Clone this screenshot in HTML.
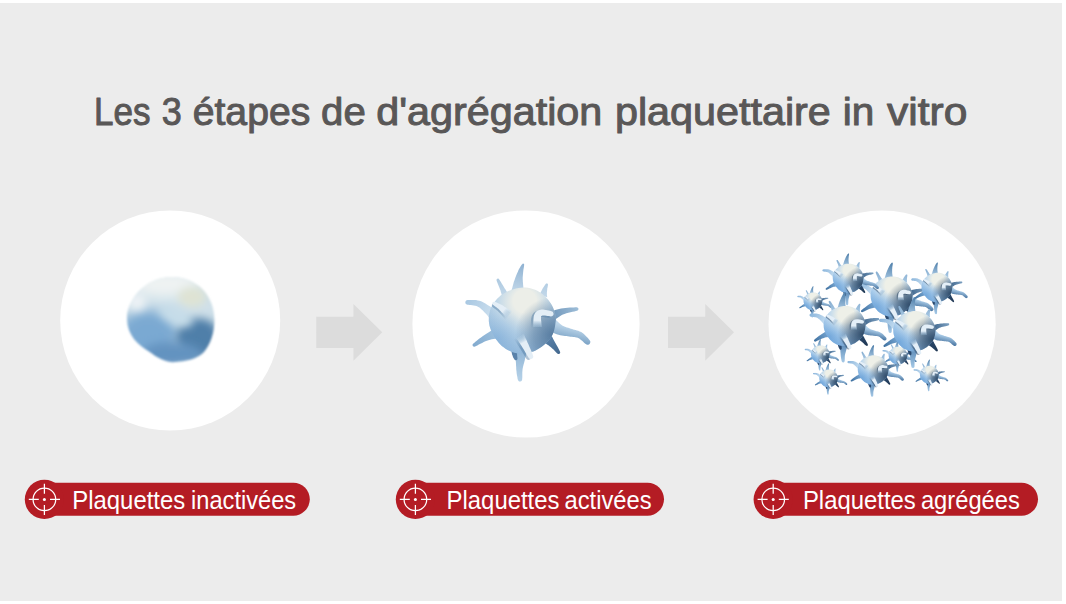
<!DOCTYPE html>
<html lang="fr">
<head>
<meta charset="utf-8">
<title>Les 3 étapes de d'agrégation plaquettaire in vitro</title>
<style>
html,body{margin:0;padding:0;background:#fff;}
body{width:1066px;height:604px;overflow:hidden;position:relative;font-family:"Liberation Sans",sans-serif;}
#panel{position:absolute;left:0;top:3px;width:1062px;height:598px;background:#ececec;}
svg{position:absolute;left:0;top:0;display:block;}
text{font-family:"Liberation Sans",sans-serif;}
</style>
</head>
<body>
<div id="panel"></div>
<svg width="1066" height="604" viewBox="0 0 1066 604">
<defs>
<radialGradient id="body" gradientUnits="userSpaceOnUse" cx="524" cy="307" r="46" fx="525" fy="299">
<stop offset="0" stop-color="#eceee8"/><stop offset="0.25" stop-color="#eceee8"/><stop offset="0.62" stop-color="#bed6e8"/><stop offset="1" stop-color="#96bbdc"/>
</radialGradient>
<radialGradient id="shadeR" gradientUnits="userSpaceOnUse" cx="553" cy="335" r="38">
<stop offset="0" stop-color="#4f7499" stop-opacity="0.9"/><stop offset="0.5" stop-color="#4f7499" stop-opacity="0.54"/><stop offset="1" stop-color="#4f7499" stop-opacity="0"/>
</radialGradient>
<radialGradient id="shadeL" gradientUnits="userSpaceOnUse" cx="498" cy="338" r="30">
<stop offset="0" stop-color="#78a9d8" stop-opacity="0.5"/><stop offset="1" stop-color="#78a9d8" stop-opacity="0"/>
</radialGradient>
<linearGradient id="sgTop" gradientUnits="userSpaceOnUse" x1="523" y1="264" x2="518" y2="294"><stop offset="0" stop-color="#8fb2d2"/><stop offset="1" stop-color="#c4d9ea"/></linearGradient>
<linearGradient id="sgL" gradientUnits="userSpaceOnUse" x1="0" y1="278" x2="0" y2="298"><stop offset="0" stop-color="#adc9e0"/><stop offset="1" stop-color="#c4d9ea"/></linearGradient>
<linearGradient id="sgLt" gradientUnits="userSpaceOnUse" x1="466" y1="302" x2="496" y2="317"><stop offset="0" stop-color="#a9c8e2"/><stop offset="1" stop-color="#d0e2f0"/></linearGradient>
<linearGradient id="sgR" gradientUnits="userSpaceOnUse" x1="550" y1="317" x2="578" y2="309"><stop offset="0" stop-color="#6d94b8"/><stop offset="1" stop-color="#9dbdd8"/></linearGradient>
<linearGradient id="sgLong" gradientUnits="userSpaceOnUse" x1="565" y1="325" x2="562" y2="338"><stop offset="0" stop-color="#bdd6ea"/><stop offset="1" stop-color="#7fa6c8"/></linearGradient>
<linearGradient id="sgD" gradientUnits="userSpaceOnUse" x1="546" y1="337" x2="559" y2="353"><stop offset="0" stop-color="#5a82aa"/><stop offset="1" stop-color="#446a90"/></linearGradient>
<linearGradient id="sgLL" gradientUnits="userSpaceOnUse" x1="497" y1="333" x2="473" y2="346"><stop offset="0" stop-color="#9dc0de"/><stop offset="1" stop-color="#82aace"/></linearGradient>
<linearGradient id="sgBot" gradientUnits="userSpaceOnUse" x1="521" y1="344" x2="520" y2="381"><stop offset="0" stop-color="#8ab0d2"/><stop offset="1" stop-color="#b6d2e8"/></linearGradient>
<linearGradient id="fsh" gradientUnits="userSpaceOnUse" x1="0" y1="300" x2="0" y2="360"><stop offset="0" stop-color="#4f7aa2" stop-opacity="0.45"/><stop offset="1" stop-color="#4f7aa2" stop-opacity="0.45"/></linearGradient>
<linearGradient id="sgF" gradientUnits="userSpaceOnUse" x1="500" y1="300" x2="540" y2="360"><stop offset="0" stop-color="#e4eef6"/><stop offset="1" stop-color="#bad5ea"/></linearGradient>
<linearGradient id="ff0" gradientUnits="userSpaceOnUse" x1="509" y1="314.5" x2="500.4" y2="307.2"><stop offset="0" stop-color="#bad5ea" stop-opacity="0.25"/><stop offset="0.6" stop-color="#e4eef6" stop-opacity="1"/><stop offset="1" stop-color="#e4eef6"/></linearGradient><linearGradient id="fs0" gradientUnits="userSpaceOnUse" x1="508.7" y1="316.5" x2="500.09999999999997" y2="309.2"><stop offset="0" stop-color="#4f7aa2" stop-opacity="0"/><stop offset="0.9" stop-color="#4f7aa2" stop-opacity="0.45"/><stop offset="1" stop-color="#4f7aa2" stop-opacity="0.45"/></linearGradient><linearGradient id="ff1" gradientUnits="userSpaceOnUse" x1="537.5" y1="327" x2="537.6" y2="316"><stop offset="0" stop-color="#bad5ea" stop-opacity="0.25"/><stop offset="0.6" stop-color="#e4eef6" stop-opacity="1"/><stop offset="1" stop-color="#e4eef6"/></linearGradient><linearGradient id="fs1" gradientUnits="userSpaceOnUse" x1="535.5" y1="328.2" x2="535.6" y2="317.2"><stop offset="0" stop-color="#4f7aa2" stop-opacity="0"/><stop offset="0.9" stop-color="#4f7aa2" stop-opacity="0.45"/><stop offset="1" stop-color="#4f7aa2" stop-opacity="0.45"/></linearGradient><linearGradient id="ff2" gradientUnits="userSpaceOnUse" x1="520" y1="336" x2="526" y2="347"><stop offset="0" stop-color="#bad5ea" stop-opacity="0.25"/><stop offset="0.6" stop-color="#e4eef6" stop-opacity="1"/><stop offset="1" stop-color="#e4eef6"/></linearGradient><linearGradient id="fs2" gradientUnits="userSpaceOnUse" x1="517.8" y1="336.6" x2="523.8" y2="347.6"><stop offset="0" stop-color="#4f7aa2" stop-opacity="0"/><stop offset="0.9" stop-color="#4f7aa2" stop-opacity="0.45"/><stop offset="1" stop-color="#4f7aa2" stop-opacity="0.45"/></linearGradient>
<radialGradient id="cbody" gradientUnits="userSpaceOnUse" cx="524" cy="307" r="46" fx="525" fy="299">
<stop offset="0" stop-color="#eef0e8"/><stop offset="0.28" stop-color="#eef0e8"/><stop offset="0.66" stop-color="#b6d4ee"/><stop offset="1" stop-color="#86b5e2"/>
</radialGradient>
<radialGradient id="cshadeR" gradientUnits="userSpaceOnUse" cx="553" cy="335" r="42">
<stop offset="0" stop-color="#2a4562" stop-opacity="0.95"/><stop offset="0.5" stop-color="#2a4562" stop-opacity="0.57"/><stop offset="1" stop-color="#2a4562" stop-opacity="0"/>
</radialGradient>
<radialGradient id="cshadeL" gradientUnits="userSpaceOnUse" cx="498" cy="338" r="30">
<stop offset="0" stop-color="#5594d2" stop-opacity="0.5"/><stop offset="1" stop-color="#5594d2" stop-opacity="0"/>
</radialGradient>
<linearGradient id="csgTop" gradientUnits="userSpaceOnUse" x1="523" y1="264" x2="518" y2="294"><stop offset="0" stop-color="#4f7faa"/><stop offset="1" stop-color="#a9c9e4"/></linearGradient>
<linearGradient id="csgL" gradientUnits="userSpaceOnUse" x1="0" y1="278" x2="0" y2="298"><stop offset="0" stop-color="#86add0"/><stop offset="1" stop-color="#a9c9e4"/></linearGradient>
<linearGradient id="csgLt" gradientUnits="userSpaceOnUse" x1="466" y1="302" x2="496" y2="317"><stop offset="0" stop-color="#8cb6dc"/><stop offset="1" stop-color="#cfe4f4"/></linearGradient>
<linearGradient id="csgR" gradientUnits="userSpaceOnUse" x1="550" y1="317" x2="578" y2="309"><stop offset="0" stop-color="#3a5f86"/><stop offset="1" stop-color="#7a9fc0"/></linearGradient>
<linearGradient id="csgLong" gradientUnits="userSpaceOnUse" x1="565" y1="325" x2="562" y2="338"><stop offset="0" stop-color="#b4d4ee"/><stop offset="1" stop-color="#4f7ba6"/></linearGradient>
<linearGradient id="csgD" gradientUnits="userSpaceOnUse" x1="546" y1="337" x2="559" y2="353"><stop offset="0" stop-color="#2c4a6e"/><stop offset="1" stop-color="#1f3854"/></linearGradient>
<linearGradient id="csgLL" gradientUnits="userSpaceOnUse" x1="497" y1="333" x2="473" y2="346"><stop offset="0" stop-color="#79a8d4"/><stop offset="1" stop-color="#3f709f"/></linearGradient>
<linearGradient id="csgBot" gradientUnits="userSpaceOnUse" x1="521" y1="344" x2="520" y2="381"><stop offset="0" stop-color="#4f7fae"/><stop offset="1" stop-color="#a4c8e6"/></linearGradient>
<linearGradient id="cfsh" gradientUnits="userSpaceOnUse" x1="0" y1="300" x2="0" y2="360"><stop offset="0" stop-color="#2a4562" stop-opacity="0.5"/><stop offset="1" stop-color="#2a4562" stop-opacity="0.5"/></linearGradient>
<linearGradient id="csgF" gradientUnits="userSpaceOnUse" x1="500" y1="300" x2="540" y2="360"><stop offset="0" stop-color="#e4eff8"/><stop offset="1" stop-color="#a6cbea"/></linearGradient>
<linearGradient id="cff0" gradientUnits="userSpaceOnUse" x1="509" y1="314.5" x2="500.4" y2="307.2"><stop offset="0" stop-color="#a6cbea" stop-opacity="0.25"/><stop offset="0.6" stop-color="#e4eff8" stop-opacity="1"/><stop offset="1" stop-color="#e4eff8"/></linearGradient><linearGradient id="cfs0" gradientUnits="userSpaceOnUse" x1="508.7" y1="316.5" x2="500.09999999999997" y2="309.2"><stop offset="0" stop-color="#2a4562" stop-opacity="0"/><stop offset="0.9" stop-color="#2a4562" stop-opacity="0.5"/><stop offset="1" stop-color="#2a4562" stop-opacity="0.5"/></linearGradient><linearGradient id="cff1" gradientUnits="userSpaceOnUse" x1="537.5" y1="327" x2="537.6" y2="316"><stop offset="0" stop-color="#a6cbea" stop-opacity="0.25"/><stop offset="0.6" stop-color="#e4eff8" stop-opacity="1"/><stop offset="1" stop-color="#e4eff8"/></linearGradient><linearGradient id="cfs1" gradientUnits="userSpaceOnUse" x1="535.5" y1="328.2" x2="535.6" y2="317.2"><stop offset="0" stop-color="#2a4562" stop-opacity="0"/><stop offset="0.9" stop-color="#2a4562" stop-opacity="0.5"/><stop offset="1" stop-color="#2a4562" stop-opacity="0.5"/></linearGradient><linearGradient id="cff2" gradientUnits="userSpaceOnUse" x1="520" y1="336" x2="526" y2="347"><stop offset="0" stop-color="#a6cbea" stop-opacity="0.25"/><stop offset="0.6" stop-color="#e4eff8" stop-opacity="1"/><stop offset="1" stop-color="#e4eff8"/></linearGradient><linearGradient id="cfs2" gradientUnits="userSpaceOnUse" x1="517.8" y1="336.6" x2="523.8" y2="347.6"><stop offset="0" stop-color="#2a4562" stop-opacity="0"/><stop offset="0.9" stop-color="#2a4562" stop-opacity="0.5"/><stop offset="1" stop-color="#2a4562" stop-opacity="0.5"/></linearGradient>
<filter id="blur2" x="-20%" y="-20%" width="140%" height="140%"><feGaussianBlur stdDeviation="1.3"/></filter>
<filter id="blur5" x="-50%" y="-50%" width="200%" height="200%"><feGaussianBlur stdDeviation="4.5"/></filter>
<filter id="blur6" x="-50%" y="-50%" width="200%" height="200%"><feGaussianBlur stdDeviation="6"/></filter>
<filter id="soft" x="-10%" y="-10%" width="120%" height="120%"><feGaussianBlur stdDeviation="0.6"/></filter>
<filter id="softc" x="-10%" y="-10%" width="120%" height="120%"><feGaussianBlur stdDeviation="0.5"/></filter>
<clipPath id="blobclip"><path d="M170 277C190 276 207 288 212 305C217 320 214 340 204 352C196 360 184 361 176 362C166 363 158 358 150 352C138 345 128 336 127 320C126 300 145 278 170 277Z"/></clipPath>
</defs>

<text y="125.2" font-size="39.5" fill="#595757" stroke="#595757" stroke-width="1.0" stroke-linejoin="round"><tspan x="94.03" textLength="56.48" lengthAdjust="spacingAndGlyphs">Les</tspan> <tspan x="161.79" textLength="19.99" lengthAdjust="spacingAndGlyphs">3</tspan> <tspan x="192.71" textLength="117.60" lengthAdjust="spacingAndGlyphs">étapes</tspan> <tspan x="321.08" textLength="44.67" lengthAdjust="spacingAndGlyphs">de</tspan> <tspan x="376.15" textLength="226.21" lengthAdjust="spacingAndGlyphs">d'agrégation</tspan> <tspan x="614.95" textLength="215.90" lengthAdjust="spacingAndGlyphs">plaquettaire</tspan> <tspan x="842.68" textLength="31.49" lengthAdjust="spacingAndGlyphs">in</tspan> <tspan x="887.08" textLength="80.30" lengthAdjust="spacingAndGlyphs">vitro</tspan></text>

<circle cx="170.2" cy="320.5" r="110" fill="#fff"/>
<circle cx="526" cy="324" r="113.6" fill="#fff"/>
<circle cx="882.1" cy="324.2" r="113.6" fill="#fff"/>

<path d="M316.2 316.8H353.4V303.9L382.2 332.3L353.4 360.7V347.9H316.2Z" fill="#dcdcdc"/>
<path d="M668.0 316.8H705.2V303.9L734.0 332.3L705.2 360.7V347.9H668.0Z" fill="#dcdcdc"/>


<g filter="url(#blur2)">
<g clip-path="url(#blobclip)">
<rect x="120" y="270" width="100" height="100" fill="#cfe0e9"/>
<ellipse cx="148" cy="336" rx="30" ry="26" fill="#7aa9d2" filter="url(#blur6)"/>
<ellipse cx="198" cy="338" rx="22" ry="20" fill="#4f7fa9" filter="url(#blur5)"/>
<ellipse cx="172" cy="354" rx="30" ry="12" fill="#6393c0" filter="url(#blur5)"/>
<ellipse cx="166" cy="284" rx="34" ry="13" fill="#eef3f3" filter="url(#blur6)"/>
<ellipse cx="192" cy="297" rx="14" ry="10" fill="#dfe3d3" filter="url(#blur5)"/>
<ellipse cx="137" cy="302" rx="9" ry="9" fill="#eef3f6" filter="url(#blur5)"/>
<ellipse cx="176" cy="316" rx="18" ry="8" fill="#c6dde9" filter="url(#blur5)" transform="rotate(25 176 316)"/>
</g>
</g>


<g filter="url(#soft)"><path d="M525.0 294.6L524.5 293.5L524.2 292.0L523.8 290.4L523.5 288.5L523.3 286.7L523.1 284.8L523.0 283.1L522.8 281.6L522.8 280.2L522.7 278.9L522.7 277.6L522.8 276.3L522.9 275.1L523.0 273.9L523.1 272.7L523.2 271.7L523.3 270.7L523.4 269.7L523.6 268.7L523.8 267.8L523.9 267.0L524.0 266.2L524.1 265.5L524.1 265.0L524.2 264.5L524.0 264.0L523.6 263.7L523.1 263.6L522.6 263.8L522.3 264.2L521.9 264.6L521.5 265.1L521.0 265.8L520.5 266.5L520.0 267.4L519.5 268.3L518.9 269.3L518.4 270.3L518.0 271.4L517.5 272.5L517.0 273.6L516.4 274.9L515.9 276.2L515.4 277.5L514.9 278.9L514.4 280.4L513.8 282.1L513.3 283.9L512.8 285.8L512.3 287.7L511.7 289.5L511.2 291.2L510.6 292.5L510.0 293.4Z" fill="url(#sgTop)"/><path d="M510.6 296.1L509.9 295.7L509.2 294.9L508.5 294.1L507.7 293.0L507.0 291.9L506.2 290.7L505.5 289.6L504.7 288.5L504.0 287.3L503.3 286.0L502.5 284.7L501.7 283.4L500.9 282.1L500.2 281.0L499.6 280.1L499.2 279.4L498.7 278.8L498.0 278.6L497.3 278.7L496.7 279.2L496.5 279.9L496.6 280.6L496.9 281.4L497.3 282.5L497.8 283.7L498.3 285.0L498.9 286.5L499.5 287.9L500.0 289.3L500.5 290.5L500.8 291.7L501.2 293.0L501.6 294.4L501.9 295.7L502.2 296.9L502.4 298.0L502.5 299.0L502.4 299.9Z" fill="url(#sgL)"/><path d="M547.3 297.2L547.1 296.5L547.0 295.7L546.9 294.7L546.9 293.6L546.9 292.5L547.0 291.5L547.1 290.5L547.2 289.7L547.2 289.0L547.3 288.3L547.5 287.7L547.6 287.0L547.7 286.5L547.8 285.9L547.9 285.5L547.9 285.1L548.0 284.5L547.8 283.9L547.3 283.5L546.7 283.4L546.1 283.6L545.7 284.1L545.4 284.4L545.1 284.7L544.8 285.2L544.5 285.7L544.1 286.3L543.7 286.9L543.3 287.6L542.8 288.3L542.4 289.1L541.9 290.0L541.4 291.0L540.9 291.9L540.3 292.9L539.8 293.7L539.2 294.4L538.7 294.8Z" fill="url(#sgL)"/><path d="M501.4 313.2L500.4 312.9L499.3 312.3L498.0 311.5L496.6 310.6L495.0 309.6L493.5 308.6L492.0 307.6L490.6 306.8L489.3 306.0L488.0 305.2L486.8 304.4L485.4 303.6L484.0 302.8L482.6 302.0L481.1 301.3L479.5 300.8L477.8 300.4L476.0 300.1L474.3 300.0L472.6 300.0L471.0 300.0L469.7 300.0L468.6 300.1L467.8 300.1L466.6 300.3L465.7 301.1L465.3 302.2L465.5 303.4L466.3 304.3L467.4 304.7L468.3 304.8L469.5 305.0L470.9 305.1L472.3 305.2L473.8 305.4L475.2 305.7L476.4 306.0L477.5 306.4L478.4 306.9L479.4 307.6L480.3 308.3L481.3 309.2L482.3 310.1L483.3 311.1L484.4 312.2L485.4 313.2L486.4 314.3L487.5 315.5L488.6 316.9L489.6 318.2L490.6 319.5L491.5 320.8L492.2 321.9L492.6 322.8Z" fill="url(#sgLt)"/><path d="M552.6 322.4L553.3 321.5L554.4 320.4L555.6 319.3L556.9 318.2L558.4 317.2L559.9 316.2L561.4 315.3L562.9 314.6L564.5 313.9L566.4 313.3L568.4 312.8L570.5 312.3L572.5 311.8L574.4 311.4L575.9 311.0L577.1 310.7L577.9 310.3L578.4 309.6L578.5 308.7L578.1 307.9L577.4 307.4L576.5 307.3L575.4 307.3L573.8 307.4L571.9 307.5L569.8 307.6L567.6 307.8L565.3 308.0L563.2 308.3L561.1 308.6L559.1 309.1L557.1 309.6L555.2 310.1L553.2 310.7L551.4 311.2L549.8 311.5L548.5 311.7L547.4 311.6Z" fill="url(#sgR)"/><path d="M543.6 328.1L544.6 328.4L545.9 328.9L547.4 329.7L549.2 330.6L551.0 331.6L552.9 332.6L554.8 333.5L556.7 334.2L558.5 334.8L560.3 335.2L561.9 335.5L563.5 335.8L565.0 336.0L566.4 336.1L567.8 336.3L569.1 336.5L570.5 336.7L571.9 336.8L573.2 337.0L574.3 337.1L575.4 337.2L576.4 337.4L577.2 337.6L578.0 337.9L578.9 338.3L579.9 339.0L581.0 339.9L582.1 340.8L583.2 341.8L584.1 342.7L585.0 343.5L585.7 344.0L587.0 344.7L588.4 344.7L589.6 343.9L590.3 342.6L590.3 341.2L589.5 340.0L589.0 339.4L588.3 338.6L587.4 337.6L586.3 336.5L585.1 335.3L583.9 334.1L582.6 333.1L581.2 332.1L579.7 331.4L578.3 330.8L577.0 330.4L575.6 330.0L574.4 329.7L573.2 329.4L572.1 329.1L570.9 328.7L569.6 328.3L568.3 327.8L566.9 327.4L565.6 327.0L564.4 326.5L563.3 326.0L562.2 325.4L561.3 324.8L560.3 324.0L559.1 323.0L557.8 321.8L556.5 320.5L555.2 319.2L554.1 318.0L553.1 316.8L552.4 315.9Z" fill="url(#sgLong)"/><path d="M541.1 341.3L542.2 341.5L543.3 342.0L544.6 342.7L545.8 343.5L547.1 344.4L548.4 345.3L549.6 346.2L550.6 347.0L551.5 347.8L552.5 348.7L553.5 349.6L554.4 350.6L555.3 351.5L556.0 352.2L556.7 352.9L557.3 353.4L558.0 353.9L558.8 354.0L559.6 353.7L560.1 353.0L560.2 352.2L559.9 351.4L559.6 350.8L559.2 349.9L558.7 348.9L558.1 347.8L557.4 346.6L556.8 345.4L556.1 344.2L555.4 343.0L554.7 341.8L554.0 340.4L553.2 339.0L552.5 337.6L551.8 336.2L551.3 334.9L550.9 333.7L550.9 332.7Z" fill="url(#sgD)"/><path d="M494.7 327.5L494.0 328.3L493.1 329.2L491.8 330.2L490.3 331.2L488.8 332.2L487.2 333.2L485.6 334.3L484.1 335.3L482.6 336.3L481.0 337.5L479.4 338.6L477.9 339.8L476.4 341.0L475.1 342.0L474.1 342.9L473.3 343.6L472.7 344.2L472.5 345.1L472.8 345.9L473.4 346.5L474.3 346.7L475.1 346.4L476.1 346.0L477.3 345.4L478.8 344.6L480.4 343.8L482.1 342.9L483.8 342.1L485.4 341.3L486.9 340.7L488.4 340.2L490.1 339.8L491.8 339.3L493.6 338.9L495.2 338.7L496.8 338.5L498.2 338.4L499.3 338.5Z" fill="url(#sgLL)"/><path d="M514.0 343.4L514.4 344.7L514.7 346.5L515.0 348.6L515.2 350.9L515.3 353.3L515.5 355.6L515.6 357.8L515.7 359.6L515.8 361.2L515.9 362.5L516.0 363.8L516.0 365.1L516.1 366.3L516.2 367.5L516.2 368.7L516.3 370.0L516.5 371.3L516.6 372.8L516.8 374.2L517.0 375.5L517.3 376.8L517.5 377.9L517.6 378.9L517.8 379.6L518.2 380.6L519.1 381.4L520.2 381.6L521.2 381.2L522.0 380.3L522.2 379.2L522.2 378.5L522.3 377.5L522.3 376.4L522.3 375.1L522.3 373.8L522.3 372.5L522.4 371.2L522.5 370.0L522.6 368.9L522.8 367.9L523.0 366.9L523.3 365.8L523.6 364.6L524.0 363.3L524.3 361.9L524.7 360.4L525.1 358.6L525.6 356.5L526.1 354.2L526.6 351.8L527.2 349.6L527.8 347.5L528.4 345.8L529.0 344.6Z" fill="url(#sgBot)"/><path d="M510.0 346.3L510.3 346.9L510.6 347.7L510.9 348.8L511.1 349.9L511.4 351.1L511.6 352.3L511.9 353.4L512.1 354.4L512.4 355.2L512.7 356.0L512.9 356.7L513.2 357.4L513.5 358.0L513.8 358.4L514.0 358.8L514.2 359.1L514.6 359.8L515.4 360.3L516.3 360.2L517.0 359.8L517.5 359.0L517.4 358.1L517.4 357.7L517.4 357.3L517.3 356.8L517.2 356.2L517.2 355.6L517.1 355.0L517.1 354.3L517.1 353.6L517.1 352.8L517.2 351.8L517.2 350.7L517.3 349.5L517.4 348.4L517.6 347.3L517.8 346.4L518.0 345.7Z" fill="url(#sgD)"/><path d="M555.8 320.6L555.5 322.6L555.2 324.9L554.8 327.4L554.3 329.8L553.6 332.2L552.6 334.4L551.5 336.4L550.2 338.4L548.7 340.2L547.1 342.0L545.4 343.7L543.6 345.2L541.7 346.7L539.8 348.0L537.7 349.3L535.6 350.4L533.4 351.4L531.2 352.1L528.9 352.7L526.5 353.2L524.0 353.5L521.5 353.6L519.1 353.5L516.8 353.3L514.4 352.7L512.1 352.0L509.8 351.0L507.6 349.9L505.5 348.7L503.6 347.3L501.8 345.9L500.1 344.2L498.5 342.5L497.0 340.6L495.6 338.7L494.3 336.7L493.1 334.6L492.0 332.5L491.0 330.3L490.2 328.1L489.5 325.8L489.1 323.5L488.8 321.1L488.8 318.7L488.9 316.2L489.3 313.8L489.8 311.4L490.5 309.1L491.4 306.9L492.6 304.8L494.0 302.7L495.5 300.7L497.1 298.8L498.8 297.2L500.6 295.6L502.6 294.2L504.7 292.9L506.8 291.8L509.0 290.8L511.3 289.9L513.5 289.2L515.9 288.5L518.3 288.0L520.7 287.7L523.2 287.5L525.5 287.6L527.9 287.8L530.3 288.3L532.7 289.0L535.1 289.8L537.3 290.8L539.4 291.9L541.4 293.2L543.3 294.8L545.2 296.5L546.8 298.3L548.4 300.1L549.8 301.9L550.9 303.6L551.9 305.3L552.8 307.1L553.5 308.8L554.1 310.5L554.6 312.1L555.1 313.6L555.4 314.9L555.7 316.2L555.8 317.5L555.9 318.9Z" fill="url(#body)"/><path d="M555.8 320.6L555.5 322.6L555.2 324.9L554.8 327.4L554.3 329.8L553.6 332.2L552.6 334.4L551.5 336.4L550.2 338.4L548.7 340.2L547.1 342.0L545.4 343.7L543.6 345.2L541.7 346.7L539.8 348.0L537.7 349.3L535.6 350.4L533.4 351.4L531.2 352.1L528.9 352.7L526.5 353.2L524.0 353.5L521.5 353.6L519.1 353.5L516.8 353.3L514.4 352.7L512.1 352.0L509.8 351.0L507.6 349.9L505.5 348.7L503.6 347.3L501.8 345.9L500.1 344.2L498.5 342.5L497.0 340.6L495.6 338.7L494.3 336.7L493.1 334.6L492.0 332.5L491.0 330.3L490.2 328.1L489.5 325.8L489.1 323.5L488.8 321.1L488.8 318.7L488.9 316.2L489.3 313.8L489.8 311.4L490.5 309.1L491.4 306.9L492.6 304.8L494.0 302.7L495.5 300.7L497.1 298.8L498.8 297.2L500.6 295.6L502.6 294.2L504.7 292.9L506.8 291.8L509.0 290.8L511.3 289.9L513.5 289.2L515.9 288.5L518.3 288.0L520.7 287.7L523.2 287.5L525.5 287.6L527.9 287.8L530.3 288.3L532.7 289.0L535.1 289.8L537.3 290.8L539.4 291.9L541.4 293.2L543.3 294.8L545.2 296.5L546.8 298.3L548.4 300.1L549.8 301.9L550.9 303.6L551.9 305.3L552.8 307.1L553.5 308.8L554.1 310.5L554.6 312.1L555.1 313.6L555.4 314.9L555.7 316.2L555.8 317.5L555.9 318.9Z" fill="url(#shadeR)"/><path d="M555.8 320.6L555.5 322.6L555.2 324.9L554.8 327.4L554.3 329.8L553.6 332.2L552.6 334.4L551.5 336.4L550.2 338.4L548.7 340.2L547.1 342.0L545.4 343.7L543.6 345.2L541.7 346.7L539.8 348.0L537.7 349.3L535.6 350.4L533.4 351.4L531.2 352.1L528.9 352.7L526.5 353.2L524.0 353.5L521.5 353.6L519.1 353.5L516.8 353.3L514.4 352.7L512.1 352.0L509.8 351.0L507.6 349.9L505.5 348.7L503.6 347.3L501.8 345.9L500.1 344.2L498.5 342.5L497.0 340.6L495.6 338.7L494.3 336.7L493.1 334.6L492.0 332.5L491.0 330.3L490.2 328.1L489.5 325.8L489.1 323.5L488.8 321.1L488.8 318.7L488.9 316.2L489.3 313.8L489.8 311.4L490.5 309.1L491.4 306.9L492.6 304.8L494.0 302.7L495.5 300.7L497.1 298.8L498.8 297.2L500.6 295.6L502.6 294.2L504.7 292.9L506.8 291.8L509.0 290.8L511.3 289.9L513.5 289.2L515.9 288.5L518.3 288.0L520.7 287.7L523.2 287.5L525.5 287.6L527.9 287.8L530.3 288.3L532.7 289.0L535.1 289.8L537.3 290.8L539.4 291.9L541.4 293.2L543.3 294.8L545.2 296.5L546.8 298.3L548.4 300.1L549.8 301.9L550.9 303.6L551.9 305.3L552.8 307.1L553.5 308.8L554.1 310.5L554.6 312.1L555.1 313.6L555.4 314.9L555.7 316.2L555.8 317.5L555.9 318.9Z" fill="url(#shadeL)"/><path d="M512.0 312.7L511.1 312.4L509.9 311.9L508.6 311.1L507.3 310.3L505.8 309.3L504.4 308.4L503.1 307.6L501.9 306.8L500.7 306.2L499.6 305.7L498.5 305.2L497.5 304.7L496.6 304.4L495.8 304.1L495.2 303.9L494.6 303.7L493.7 303.5L492.7 303.8L492.0 304.5L491.8 305.4L492.1 306.4L492.8 307.1L493.2 307.5L493.8 307.9L494.5 308.4L495.2 308.9L496.0 309.5L496.8 310.2L497.6 310.8L498.3 311.6L499.2 312.4L500.2 313.5L501.3 314.7L502.3 315.9L503.4 317.2L504.3 318.3L505.0 319.4L505.4 320.3Z" fill="url(#fs0)"/><path d="M540.5 328.1L540.3 327.1L540.1 325.8L539.9 324.3L539.7 322.8L539.5 321.2L539.4 319.9L539.4 318.8L539.4 318.3L539.4 318.0L539.4 317.8L539.4 317.7L539.3 317.7L539.3 317.6L539.6 317.4L540.0 317.3L540.4 317.1L541.0 317.0L541.8 317.0L543.0 317.1L544.2 317.2L545.5 317.4L546.7 317.6L547.7 317.7L548.5 317.8L550.0 317.6L551.2 316.8L551.8 315.5L551.6 314.0L550.8 312.8L549.5 312.2L548.8 312.1L547.9 311.8L546.7 311.5L545.3 311.2L543.9 310.9L542.4 310.6L541.0 310.5L539.6 310.5L538.4 310.6L537.4 310.9L536.3 311.2L535.2 311.8L534.1 312.6L533.2 313.6L532.4 314.8L531.8 316.1L531.4 317.8L531.1 319.5L531.0 321.3L530.9 323.0L530.8 324.8L530.7 326.3L530.7 327.5L530.5 328.3Z" fill="url(#fs1)"/><path d="M513.4 339.0L514.1 339.7L514.9 340.8L515.9 342.1L516.9 343.5L517.9 345.0L518.9 346.5L519.8 348.0L520.6 349.3L521.4 350.5L522.2 351.8L523.0 353.2L523.8 354.5L524.5 355.7L525.1 356.8L525.7 357.7L526.2 358.4L527.1 359.4L528.4 359.9L529.8 359.6L530.8 358.7L531.3 357.4L531.0 356.0L530.8 355.2L530.4 354.2L529.9 353.0L529.4 351.7L528.8 350.3L528.2 348.8L527.6 347.4L527.0 345.9L526.3 344.5L525.6 342.9L524.9 341.2L524.1 339.5L523.5 337.9L522.9 336.4L522.4 335.2L522.2 334.2Z" fill="url(#fs2)"/><path d="M511.9 311.1L511.1 310.8L510.0 310.2L508.7 309.4L507.3 308.6L505.9 307.6L504.5 306.7L503.2 305.8L502.0 305.1L500.9 304.5L499.8 303.9L498.7 303.4L497.7 303.0L496.8 302.6L496.0 302.3L495.4 302.1L494.8 301.9L494.0 301.7L493.1 301.9L492.5 302.6L492.3 303.4L492.5 304.3L493.2 304.9L493.6 305.3L494.2 305.7L494.9 306.2L495.6 306.7L496.4 307.3L497.2 307.9L498.0 308.6L498.8 309.3L499.7 310.2L500.7 311.2L501.8 312.4L502.9 313.6L503.9 314.8L504.9 316.0L505.6 317.0L506.1 317.9Z" fill="url(#ff0)"/><path d="M542.0 326.9L541.8 325.9L541.6 324.6L541.4 323.2L541.3 321.6L541.1 320.0L541.0 318.6L541.0 317.6L541.1 317.0L541.1 316.7L541.1 316.4L541.1 316.3L541.1 316.2L541.2 316.1L541.5 316.0L541.9 315.8L542.4 315.6L543.0 315.5L543.9 315.5L545.0 315.6L546.3 315.8L547.5 316.0L548.7 316.1L549.8 316.3L550.6 316.4L551.9 316.2L553.0 315.5L553.6 314.2L553.4 312.9L552.7 311.8L551.4 311.2L550.8 311.1L549.8 310.8L548.6 310.5L547.3 310.2L545.8 309.9L544.4 309.7L543.0 309.5L541.6 309.6L540.5 309.7L539.5 309.9L538.4 310.3L537.4 310.8L536.3 311.6L535.4 312.6L534.7 313.7L534.1 315.0L533.7 316.6L533.5 318.3L533.4 320.1L533.3 321.8L533.2 323.5L533.2 325.1L533.1 326.3L533.0 327.1Z" fill="url(#ff1)"/><path d="M516.1 338.2L516.7 338.9L517.5 340.0L518.4 341.3L519.4 342.7L520.4 344.2L521.4 345.8L522.3 347.2L523.1 348.5L523.9 349.8L524.6 351.1L525.4 352.5L526.2 353.8L526.9 355.0L527.5 356.1L528.1 357.0L528.6 357.7L529.4 358.7L530.6 359.1L531.9 358.8L532.9 358.0L533.3 356.8L533.0 355.5L532.8 354.7L532.4 353.7L531.9 352.5L531.4 351.2L530.8 349.8L530.1 348.3L529.5 346.9L528.9 345.5L528.3 344.0L527.5 342.4L526.8 340.8L526.0 339.1L525.3 337.5L524.7 336.0L524.2 334.8L523.9 333.8Z" fill="url(#ff2)"/></g>

<g filter="url(#softc)">
<g transform="translate(571.47 105.82) scale(0.6129 0.595)"><path d="M525.9 294.6L525.4 293.5L524.9 292.1L524.6 290.4L524.2 288.6L523.9 286.7L523.7 284.9L523.5 283.1L523.3 281.7L523.2 280.3L523.2 279.0L523.2 277.7L523.2 276.4L523.2 275.2L523.3 274.0L523.4 272.8L523.4 271.8L523.5 270.8L523.7 269.8L523.8 268.8L524.0 267.9L524.1 267.0L524.2 266.3L524.3 265.6L524.2 265.0L524.3 264.4L524.1 263.9L523.6 263.6L523.0 263.5L522.5 263.7L522.2 264.2L521.8 264.6L521.3 265.1L520.8 265.7L520.3 266.4L519.8 267.3L519.2 268.2L518.7 269.2L518.2 270.2L517.6 271.3L517.1 272.4L516.6 273.5L516.1 274.8L515.5 276.1L515.0 277.4L514.4 278.8L513.9 280.3L513.3 282.0L512.7 283.8L512.2 285.7L511.6 287.7L511.0 289.5L510.4 291.1L509.8 292.4L509.1 293.4Z" fill="url(#csgTop)"/><path d="M511.1 295.9L510.4 295.4L509.7 294.8L508.9 293.9L508.1 292.9L507.3 291.8L506.5 290.6L505.7 289.5L505.0 288.4L504.3 287.2L503.5 285.9L502.7 284.6L501.9 283.3L501.1 282.0L500.4 280.9L499.8 280.0L499.3 279.3L498.8 278.7L498.0 278.4L497.2 278.6L496.6 279.1L496.3 279.9L496.5 280.7L496.7 281.5L497.1 282.5L497.6 283.8L498.1 285.1L498.7 286.6L499.3 288.0L499.8 289.4L500.2 290.6L500.6 291.9L500.9 293.2L501.3 294.5L501.6 295.8L501.8 297.1L502.0 298.2L502.0 299.3L501.9 300.1Z" fill="url(#csgL)"/><path d="M547.9 297.4L547.6 296.7L547.4 295.8L547.3 294.8L547.3 293.7L547.3 292.6L547.3 291.6L547.4 290.6L547.4 289.8L547.5 289.1L547.6 288.4L547.7 287.8L547.8 287.1L547.9 286.5L548.0 286.0L548.0 285.5L548.0 285.1L548.1 284.4L547.9 283.8L547.3 283.4L546.6 283.3L546.0 283.5L545.6 284.1L545.3 284.3L545.0 284.7L544.6 285.1L544.3 285.6L543.9 286.2L543.5 286.8L543.0 287.5L542.6 288.2L542.1 289.0L541.6 289.9L541.1 290.9L540.5 291.8L539.9 292.8L539.3 293.6L538.7 294.2L538.1 294.6Z" fill="url(#csgL)"/><path d="M501.9 312.6L500.9 312.3L499.8 311.8L498.4 311.0L497.0 310.2L495.4 309.2L493.9 308.2L492.3 307.2L490.9 306.4L489.6 305.6L488.3 304.8L487.0 304.0L485.7 303.2L484.3 302.4L482.8 301.7L481.3 301.0L479.6 300.4L477.9 300.0L476.1 299.8L474.3 299.7L472.6 299.6L471.1 299.7L469.7 299.7L468.6 299.8L467.8 299.8L466.5 300.1L465.5 301.0L465.0 302.2L465.3 303.5L466.2 304.5L467.4 305.0L468.3 305.1L469.5 305.3L470.8 305.4L472.3 305.6L473.7 305.8L475.1 306.0L476.4 306.4L477.4 306.8L478.2 307.3L479.2 307.9L480.1 308.7L481.1 309.5L482.1 310.5L483.1 311.5L484.1 312.6L485.1 313.6L486.1 314.7L487.1 316.0L488.2 317.3L489.2 318.6L490.2 320.0L491.0 321.3L491.7 322.4L492.1 323.4Z" fill="url(#csgLt)"/><path d="M552.9 323.1L553.6 322.1L554.6 321.0L555.8 319.8L557.1 318.7L558.6 317.6L560.1 316.6L561.6 315.7L563.0 314.9L564.6 314.3L566.4 313.7L568.5 313.1L570.5 312.6L572.6 312.1L574.4 311.7L575.9 311.3L577.1 310.9L578.0 310.5L578.6 309.7L578.7 308.7L578.3 307.8L577.5 307.2L576.5 307.1L575.3 307.1L573.8 307.1L571.9 307.2L569.8 307.4L567.5 307.5L565.3 307.7L563.1 308.0L561.0 308.3L559.0 308.7L557.0 309.2L555.0 309.7L553.0 310.2L551.2 310.7L549.6 311.0L548.2 311.1L547.1 310.9Z" fill="url(#csgR)"/><path d="M543.1 328.8L544.1 329.1L545.4 329.6L547.0 330.3L548.7 331.2L550.6 332.2L552.5 333.1L554.5 334.0L556.4 334.8L558.3 335.4L560.1 335.8L561.8 336.1L563.4 336.3L564.9 336.5L566.3 336.6L567.6 336.7L569.0 336.9L570.4 337.1L571.8 337.3L573.1 337.4L574.3 337.5L575.3 337.6L576.2 337.8L577.1 338.0L577.8 338.2L578.7 338.7L579.7 339.3L580.8 340.2L581.9 341.1L582.9 342.1L583.9 342.9L584.8 343.7L585.4 344.3L586.9 345.1L588.5 345.0L589.9 344.2L590.7 342.7L590.6 341.1L589.8 339.7L589.2 339.1L588.5 338.3L587.6 337.3L586.5 336.2L585.4 335.0L584.1 333.8L582.8 332.7L581.4 331.8L579.9 331.0L578.4 330.4L577.0 330.0L575.7 329.6L574.5 329.3L573.3 329.0L572.2 328.7L571.0 328.3L569.7 327.8L568.4 327.3L567.0 326.9L565.8 326.4L564.6 326.0L563.5 325.4L562.5 324.8L561.6 324.2L560.6 323.4L559.5 322.4L558.2 321.2L556.9 319.9L555.7 318.6L554.6 317.3L553.6 316.1L552.9 315.2Z" fill="url(#csgLong)"/><path d="M540.5 341.8L541.6 342.0L542.8 342.4L544.1 343.0L545.5 343.8L546.8 344.7L548.1 345.6L549.2 346.4L550.3 347.2L551.3 348.0L552.2 348.9L553.2 349.8L554.2 350.7L555.0 351.6L555.9 352.4L556.6 353.0L557.2 353.5L557.9 354.0L558.8 354.2L559.7 353.8L560.2 353.1L560.4 352.2L560.0 351.3L559.8 350.6L559.4 349.8L558.9 348.8L558.3 347.7L557.7 346.5L557.0 345.2L556.4 344.0L555.7 342.8L555.0 341.5L554.3 340.1L553.6 338.7L552.8 337.3L552.2 335.8L551.7 334.5L551.5 333.2L551.5 332.2Z" fill="url(#csgD)"/><path d="M494.4 326.8L493.8 327.7L492.8 328.7L491.6 329.7L490.1 330.7L488.6 331.8L487.0 332.8L485.4 333.9L483.9 334.9L482.4 336.0L480.8 337.2L479.3 338.4L477.7 339.6L476.3 340.7L475.0 341.8L473.9 342.7L473.2 343.4L472.5 344.1L472.3 345.1L472.6 346.0L473.3 346.7L474.3 346.9L475.2 346.6L476.2 346.2L477.5 345.6L478.9 344.9L480.6 344.0L482.2 343.2L484.0 342.4L485.6 341.6L487.1 341.1L488.6 340.6L490.3 340.1L492.0 339.7L493.8 339.4L495.5 339.2L497.0 339.0L498.4 339.0L499.6 339.2Z" fill="url(#csgLL)"/><path d="M513.1 343.3L513.6 344.6L513.9 346.4L514.2 348.5L514.5 350.9L514.7 353.2L514.9 355.6L515.0 357.7L515.2 359.6L515.3 361.1L515.4 362.5L515.5 363.8L515.6 365.0L515.7 366.2L515.8 367.4L515.9 368.7L516.0 370.0L516.1 371.4L516.3 372.8L516.5 374.2L516.7 375.6L517.0 376.8L517.2 378.0L517.4 378.9L517.5 379.6L518.0 380.8L518.9 381.6L520.2 381.9L521.4 381.4L522.2 380.5L522.5 379.2L522.5 378.5L522.5 377.5L522.6 376.3L522.6 375.1L522.6 373.8L522.6 372.5L522.7 371.2L522.8 370.0L523.0 369.0L523.2 367.9L523.5 366.9L523.8 365.8L524.1 364.6L524.4 363.4L524.8 362.0L525.2 360.4L525.7 358.6L526.2 356.5L526.7 354.2L527.3 351.9L527.9 349.6L528.6 347.6L529.2 345.9L529.9 344.7Z" fill="url(#csgBot)"/><path d="M509.5 346.3L509.9 346.9L510.2 347.7L510.5 348.8L510.8 349.9L511.0 351.1L511.3 352.3L511.6 353.4L511.8 354.4L512.1 355.3L512.4 356.1L512.7 356.8L513.0 357.5L513.3 358.0L513.5 358.5L513.8 358.9L514.0 359.1L514.5 360.0L515.3 360.4L516.3 360.4L517.2 359.9L517.6 359.1L517.6 358.1L517.6 357.7L517.6 357.2L517.6 356.7L517.5 356.1L517.4 355.5L517.4 354.9L517.4 354.3L517.4 353.6L517.4 352.8L517.5 351.8L517.6 350.7L517.7 349.5L517.8 348.3L518.0 347.3L518.2 346.4L518.5 345.7Z" fill="url(#csgD)"/><path d="M556.4 320.6L556.2 322.7L555.9 325.0L555.5 327.5L554.9 330.0L554.2 332.4L553.2 334.7L552.1 336.7L550.7 338.7L549.2 340.6L547.5 342.4L545.8 344.1L544.0 345.7L542.1 347.2L540.1 348.6L538.0 349.9L535.8 351.0L533.6 352.0L531.3 352.8L529.0 353.4L526.6 353.8L524.0 354.1L521.5 354.3L519.0 354.2L516.6 353.9L514.3 353.4L511.9 352.6L509.6 351.6L507.3 350.5L505.2 349.2L503.2 347.9L501.4 346.4L499.6 344.7L498.0 342.9L496.5 341.0L495.1 339.0L493.8 337.0L492.6 334.9L491.4 332.7L490.4 330.5L489.5 328.2L488.9 325.9L488.4 323.5L488.2 321.1L488.1 318.7L488.3 316.1L488.6 313.6L489.1 311.2L489.9 308.9L490.8 306.6L492.0 304.4L493.4 302.3L494.9 300.3L496.6 298.4L498.3 296.7L500.2 295.1L502.2 293.7L504.3 292.4L506.5 291.2L508.8 290.2L511.0 289.3L513.4 288.5L515.8 287.9L518.2 287.4L520.7 287.0L523.2 286.9L525.6 286.9L528.0 287.2L530.5 287.7L532.9 288.3L535.3 289.2L537.6 290.2L539.8 291.3L541.8 292.7L543.7 294.3L545.6 296.0L547.3 297.9L548.9 299.7L550.3 301.5L551.5 303.3L552.5 305.0L553.4 306.8L554.1 308.6L554.7 310.3L555.2 312.0L555.7 313.5L556.1 314.8L556.3 316.1L556.5 317.4L556.5 318.9Z" fill="url(#cbody)"/><path d="M556.4 320.6L556.2 322.7L555.9 325.0L555.5 327.5L554.9 330.0L554.2 332.4L553.2 334.7L552.1 336.7L550.7 338.7L549.2 340.6L547.5 342.4L545.8 344.1L544.0 345.7L542.1 347.2L540.1 348.6L538.0 349.9L535.8 351.0L533.6 352.0L531.3 352.8L529.0 353.4L526.6 353.8L524.0 354.1L521.5 354.3L519.0 354.2L516.6 353.9L514.3 353.4L511.9 352.6L509.6 351.6L507.3 350.5L505.2 349.2L503.2 347.9L501.4 346.4L499.6 344.7L498.0 342.9L496.5 341.0L495.1 339.0L493.8 337.0L492.6 334.9L491.4 332.7L490.4 330.5L489.5 328.2L488.9 325.9L488.4 323.5L488.2 321.1L488.1 318.7L488.3 316.1L488.6 313.6L489.1 311.2L489.9 308.9L490.8 306.6L492.0 304.4L493.4 302.3L494.9 300.3L496.6 298.4L498.3 296.7L500.2 295.1L502.2 293.7L504.3 292.4L506.5 291.2L508.8 290.2L511.0 289.3L513.4 288.5L515.8 287.9L518.2 287.4L520.7 287.0L523.2 286.9L525.6 286.9L528.0 287.2L530.5 287.7L532.9 288.3L535.3 289.2L537.6 290.2L539.8 291.3L541.8 292.7L543.7 294.3L545.6 296.0L547.3 297.9L548.9 299.7L550.3 301.5L551.5 303.3L552.5 305.0L553.4 306.8L554.1 308.6L554.7 310.3L555.2 312.0L555.7 313.5L556.1 314.8L556.3 316.1L556.5 317.4L556.5 318.9Z" fill="url(#cshadeR)"/><path d="M556.4 320.6L556.2 322.7L555.9 325.0L555.5 327.5L554.9 330.0L554.2 332.4L553.2 334.7L552.1 336.7L550.7 338.7L549.2 340.6L547.5 342.4L545.8 344.1L544.0 345.7L542.1 347.2L540.1 348.6L538.0 349.9L535.8 351.0L533.6 352.0L531.3 352.8L529.0 353.4L526.6 353.8L524.0 354.1L521.5 354.3L519.0 354.2L516.6 353.9L514.3 353.4L511.9 352.6L509.6 351.6L507.3 350.5L505.2 349.2L503.2 347.9L501.4 346.4L499.6 344.7L498.0 342.9L496.5 341.0L495.1 339.0L493.8 337.0L492.6 334.9L491.4 332.7L490.4 330.5L489.5 328.2L488.9 325.9L488.4 323.5L488.2 321.1L488.1 318.7L488.3 316.1L488.6 313.6L489.1 311.2L489.9 308.9L490.8 306.6L492.0 304.4L493.4 302.3L494.9 300.3L496.6 298.4L498.3 296.7L500.2 295.1L502.2 293.7L504.3 292.4L506.5 291.2L508.8 290.2L511.0 289.3L513.4 288.5L515.8 287.9L518.2 287.4L520.7 287.0L523.2 286.9L525.6 286.9L528.0 287.2L530.5 287.7L532.9 288.3L535.3 289.2L537.6 290.2L539.8 291.3L541.8 292.7L543.7 294.3L545.6 296.0L547.3 297.9L548.9 299.7L550.3 301.5L551.5 303.3L552.5 305.0L553.4 306.8L554.1 308.6L554.7 310.3L555.2 312.0L555.7 313.5L556.1 314.8L556.3 316.1L556.5 317.4L556.5 318.9Z" fill="url(#cshadeL)"/><path d="M512.4 312.3L511.4 312.0L510.3 311.5L509.0 310.8L507.5 309.9L506.1 309.0L504.7 308.1L503.3 307.3L502.1 306.5L500.9 305.9L499.8 305.4L498.7 304.9L497.7 304.5L496.7 304.1L495.9 303.9L495.3 303.7L494.7 303.5L493.7 303.3L492.6 303.6L491.8 304.4L491.6 305.4L491.9 306.5L492.7 307.3L493.1 307.7L493.7 308.1L494.3 308.6L495.1 309.2L495.8 309.8L496.6 310.4L497.4 311.1L498.1 311.9L499.0 312.7L499.9 313.8L501.0 315.0L502.1 316.2L503.1 317.5L503.9 318.7L504.6 319.8L505.0 320.7Z" fill="url(#cfs0)"/><path d="M541.1 328.1L540.9 327.1L540.6 325.8L540.4 324.3L540.2 322.8L540.0 321.2L539.9 319.9L539.9 318.9L539.9 318.4L539.8 318.2L539.8 318.1L539.7 318.1L539.6 318.0L539.5 318.0L539.7 317.8L540.0 317.7L540.4 317.5L541.0 317.4L541.8 317.4L542.9 317.4L544.2 317.6L545.4 317.7L546.6 317.9L547.7 318.0L548.5 318.1L550.1 317.9L551.4 317.0L552.1 315.5L551.9 313.9L551.0 312.6L549.5 311.9L548.9 311.7L547.9 311.4L546.7 311.1L545.4 310.8L543.9 310.5L542.5 310.2L541.0 310.1L539.6 310.1L538.4 310.3L537.3 310.5L536.1 310.8L534.9 311.4L533.8 312.3L532.8 313.3L532.0 314.6L531.3 316.0L530.9 317.7L530.6 319.5L530.5 321.3L530.4 323.1L530.3 324.8L530.2 326.3L530.1 327.5L529.9 328.3Z" fill="url(#cfs1)"/><path d="M512.9 339.3L513.6 340.0L514.5 341.1L515.4 342.3L516.4 343.7L517.5 345.2L518.5 346.7L519.4 348.2L520.2 349.5L521.0 350.7L521.8 352.0L522.6 353.3L523.4 354.6L524.1 355.9L524.8 357.0L525.4 357.9L525.9 358.5L526.9 359.7L528.4 360.2L529.9 359.9L531.1 358.9L531.6 357.4L531.3 355.9L531.1 355.1L530.7 354.1L530.3 352.9L529.7 351.5L529.2 350.1L528.6 348.6L527.9 347.2L527.4 345.7L526.7 344.3L526.0 342.6L525.3 341.0L524.6 339.3L523.9 337.6L523.3 336.2L522.9 334.9L522.7 333.9Z" fill="url(#cfs2)"/><path d="M512.3 310.7L511.4 310.4L510.3 309.9L509.0 309.1L507.6 308.2L506.1 307.3L504.7 306.4L503.4 305.5L502.2 304.8L501.0 304.2L499.9 303.7L498.8 303.2L497.8 302.7L496.9 302.4L496.1 302.1L495.5 301.9L494.9 301.7L494.0 301.5L493.0 301.8L492.3 302.5L492.1 303.4L492.4 304.4L493.1 305.1L493.5 305.5L494.1 305.9L494.7 306.4L495.5 306.9L496.3 307.5L497.1 308.2L497.9 308.9L498.6 309.6L499.5 310.4L500.5 311.5L501.6 312.7L502.6 313.9L503.7 315.2L504.5 316.4L505.3 317.4L505.7 318.3Z" fill="url(#cff0)"/><path d="M542.5 326.9L542.4 325.9L542.1 324.6L541.9 323.1L541.7 321.6L541.6 320.0L541.5 318.7L541.5 317.6L541.5 317.1L541.5 316.8L541.5 316.7L541.4 316.6L541.4 316.6L541.4 316.5L541.6 316.3L542.0 316.2L542.4 316.0L543.0 315.9L543.8 315.9L545.0 316.0L546.2 316.1L547.5 316.3L548.7 316.5L549.7 316.6L550.5 316.7L552.0 316.5L553.2 315.7L553.9 314.3L553.7 312.8L552.9 311.6L551.5 310.9L550.8 310.7L549.9 310.5L548.7 310.2L547.3 309.9L545.9 309.6L544.4 309.3L543.0 309.2L541.6 309.2L540.4 309.4L539.4 309.6L538.3 309.9L537.1 310.5L536.0 311.3L535.1 312.4L534.3 313.5L533.7 314.9L533.3 316.5L533.0 318.3L532.9 320.1L532.8 321.8L532.8 323.6L532.7 325.1L532.6 326.3L532.5 327.1Z" fill="url(#cff1)"/><path d="M515.6 338.4L516.3 339.2L517.1 340.2L518.0 341.5L519.0 342.9L520.0 344.4L521.0 346.0L521.9 347.4L522.8 348.7L523.5 350.0L524.3 351.3L525.1 352.6L525.9 353.9L526.6 355.1L527.2 356.2L527.8 357.2L528.3 357.8L529.2 358.9L530.6 359.4L532.0 359.1L533.1 358.2L533.6 356.8L533.3 355.4L533.1 354.6L532.7 353.6L532.2 352.4L531.7 351.1L531.1 349.6L530.5 348.2L529.9 346.7L529.2 345.3L528.6 343.8L527.9 342.2L527.1 340.5L526.4 338.9L525.7 337.3L525.1 335.8L524.7 334.5L524.4 333.6Z" fill="url(#cff2)"/></g>
<g transform="translate(613.07 138.25) scale(0.4501 0.437)"><path d="M525.9 294.6L525.4 293.5L524.9 292.1L524.6 290.4L524.2 288.6L523.9 286.7L523.7 284.9L523.5 283.1L523.3 281.7L523.2 280.3L523.2 279.0L523.2 277.7L523.2 276.4L523.2 275.2L523.3 274.0L523.4 272.8L523.4 271.8L523.5 270.8L523.7 269.8L523.8 268.8L524.0 267.9L524.1 267.0L524.2 266.3L524.3 265.6L524.2 265.0L524.3 264.4L524.1 263.9L523.6 263.6L523.0 263.5L522.5 263.7L522.2 264.2L521.8 264.6L521.3 265.1L520.8 265.7L520.3 266.4L519.8 267.3L519.2 268.2L518.7 269.2L518.2 270.2L517.6 271.3L517.1 272.4L516.6 273.5L516.1 274.8L515.5 276.1L515.0 277.4L514.4 278.8L513.9 280.3L513.3 282.0L512.7 283.8L512.2 285.7L511.6 287.7L511.0 289.5L510.4 291.1L509.8 292.4L509.1 293.4Z" fill="url(#csgTop)"/><path d="M511.1 295.9L510.4 295.4L509.7 294.8L508.9 293.9L508.1 292.9L507.3 291.8L506.5 290.6L505.7 289.5L505.0 288.4L504.3 287.2L503.5 285.9L502.7 284.6L501.9 283.3L501.1 282.0L500.4 280.9L499.8 280.0L499.3 279.3L498.8 278.7L498.0 278.4L497.2 278.6L496.6 279.1L496.3 279.9L496.5 280.7L496.7 281.5L497.1 282.5L497.6 283.8L498.1 285.1L498.7 286.6L499.3 288.0L499.8 289.4L500.2 290.6L500.6 291.9L500.9 293.2L501.3 294.5L501.6 295.8L501.8 297.1L502.0 298.2L502.0 299.3L501.9 300.1Z" fill="url(#csgL)"/><path d="M547.9 297.4L547.6 296.7L547.4 295.8L547.3 294.8L547.3 293.7L547.3 292.6L547.3 291.6L547.4 290.6L547.4 289.8L547.5 289.1L547.6 288.4L547.7 287.8L547.8 287.1L547.9 286.5L548.0 286.0L548.0 285.5L548.0 285.1L548.1 284.4L547.9 283.8L547.3 283.4L546.6 283.3L546.0 283.5L545.6 284.1L545.3 284.3L545.0 284.7L544.6 285.1L544.3 285.6L543.9 286.2L543.5 286.8L543.0 287.5L542.6 288.2L542.1 289.0L541.6 289.9L541.1 290.9L540.5 291.8L539.9 292.8L539.3 293.6L538.7 294.2L538.1 294.6Z" fill="url(#csgL)"/><path d="M501.9 312.6L500.9 312.3L499.8 311.8L498.4 311.0L497.0 310.2L495.4 309.2L493.9 308.2L492.3 307.2L490.9 306.4L489.6 305.6L488.3 304.8L487.0 304.0L485.7 303.2L484.3 302.4L482.8 301.7L481.3 301.0L479.6 300.4L477.9 300.0L476.1 299.8L474.3 299.7L472.6 299.6L471.1 299.7L469.7 299.7L468.6 299.8L467.8 299.8L466.5 300.1L465.5 301.0L465.0 302.2L465.3 303.5L466.2 304.5L467.4 305.0L468.3 305.1L469.5 305.3L470.8 305.4L472.3 305.6L473.7 305.8L475.1 306.0L476.4 306.4L477.4 306.8L478.2 307.3L479.2 307.9L480.1 308.7L481.1 309.5L482.1 310.5L483.1 311.5L484.1 312.6L485.1 313.6L486.1 314.7L487.1 316.0L488.2 317.3L489.2 318.6L490.2 320.0L491.0 321.3L491.7 322.4L492.1 323.4Z" fill="url(#csgLt)"/><path d="M552.9 323.1L553.6 322.1L554.6 321.0L555.8 319.8L557.1 318.7L558.6 317.6L560.1 316.6L561.6 315.7L563.0 314.9L564.6 314.3L566.4 313.7L568.5 313.1L570.5 312.6L572.6 312.1L574.4 311.7L575.9 311.3L577.1 310.9L578.0 310.5L578.6 309.7L578.7 308.7L578.3 307.8L577.5 307.2L576.5 307.1L575.3 307.1L573.8 307.1L571.9 307.2L569.8 307.4L567.5 307.5L565.3 307.7L563.1 308.0L561.0 308.3L559.0 308.7L557.0 309.2L555.0 309.7L553.0 310.2L551.2 310.7L549.6 311.0L548.2 311.1L547.1 310.9Z" fill="url(#csgR)"/><path d="M543.1 328.8L544.1 329.1L545.4 329.6L547.0 330.3L548.7 331.2L550.6 332.2L552.5 333.1L554.5 334.0L556.4 334.8L558.3 335.4L560.1 335.8L561.8 336.1L563.4 336.3L564.9 336.5L566.3 336.6L567.6 336.7L569.0 336.9L570.4 337.1L571.8 337.3L573.1 337.4L574.3 337.5L575.3 337.6L576.2 337.8L577.1 338.0L577.8 338.2L578.7 338.7L579.7 339.3L580.8 340.2L581.9 341.1L582.9 342.1L583.9 342.9L584.8 343.7L585.4 344.3L586.9 345.1L588.5 345.0L589.9 344.2L590.7 342.7L590.6 341.1L589.8 339.7L589.2 339.1L588.5 338.3L587.6 337.3L586.5 336.2L585.4 335.0L584.1 333.8L582.8 332.7L581.4 331.8L579.9 331.0L578.4 330.4L577.0 330.0L575.7 329.6L574.5 329.3L573.3 329.0L572.2 328.7L571.0 328.3L569.7 327.8L568.4 327.3L567.0 326.9L565.8 326.4L564.6 326.0L563.5 325.4L562.5 324.8L561.6 324.2L560.6 323.4L559.5 322.4L558.2 321.2L556.9 319.9L555.7 318.6L554.6 317.3L553.6 316.1L552.9 315.2Z" fill="url(#csgLong)"/><path d="M540.5 341.8L541.6 342.0L542.8 342.4L544.1 343.0L545.5 343.8L546.8 344.7L548.1 345.6L549.2 346.4L550.3 347.2L551.3 348.0L552.2 348.9L553.2 349.8L554.2 350.7L555.0 351.6L555.9 352.4L556.6 353.0L557.2 353.5L557.9 354.0L558.8 354.2L559.7 353.8L560.2 353.1L560.4 352.2L560.0 351.3L559.8 350.6L559.4 349.8L558.9 348.8L558.3 347.7L557.7 346.5L557.0 345.2L556.4 344.0L555.7 342.8L555.0 341.5L554.3 340.1L553.6 338.7L552.8 337.3L552.2 335.8L551.7 334.5L551.5 333.2L551.5 332.2Z" fill="url(#csgD)"/><path d="M494.4 326.8L493.8 327.7L492.8 328.7L491.6 329.7L490.1 330.7L488.6 331.8L487.0 332.8L485.4 333.9L483.9 334.9L482.4 336.0L480.8 337.2L479.3 338.4L477.7 339.6L476.3 340.7L475.0 341.8L473.9 342.7L473.2 343.4L472.5 344.1L472.3 345.1L472.6 346.0L473.3 346.7L474.3 346.9L475.2 346.6L476.2 346.2L477.5 345.6L478.9 344.9L480.6 344.0L482.2 343.2L484.0 342.4L485.6 341.6L487.1 341.1L488.6 340.6L490.3 340.1L492.0 339.7L493.8 339.4L495.5 339.2L497.0 339.0L498.4 339.0L499.6 339.2Z" fill="url(#csgLL)"/><path d="M513.1 343.3L513.6 344.6L513.9 346.4L514.2 348.5L514.5 350.9L514.7 353.2L514.9 355.6L515.0 357.7L515.2 359.6L515.3 361.1L515.4 362.5L515.5 363.8L515.6 365.0L515.7 366.2L515.8 367.4L515.9 368.7L516.0 370.0L516.1 371.4L516.3 372.8L516.5 374.2L516.7 375.6L517.0 376.8L517.2 378.0L517.4 378.9L517.5 379.6L518.0 380.8L518.9 381.6L520.2 381.9L521.4 381.4L522.2 380.5L522.5 379.2L522.5 378.5L522.5 377.5L522.6 376.3L522.6 375.1L522.6 373.8L522.6 372.5L522.7 371.2L522.8 370.0L523.0 369.0L523.2 367.9L523.5 366.9L523.8 365.8L524.1 364.6L524.4 363.4L524.8 362.0L525.2 360.4L525.7 358.6L526.2 356.5L526.7 354.2L527.3 351.9L527.9 349.6L528.6 347.6L529.2 345.9L529.9 344.7Z" fill="url(#csgBot)"/><path d="M509.5 346.3L509.9 346.9L510.2 347.7L510.5 348.8L510.8 349.9L511.0 351.1L511.3 352.3L511.6 353.4L511.8 354.4L512.1 355.3L512.4 356.1L512.7 356.8L513.0 357.5L513.3 358.0L513.5 358.5L513.8 358.9L514.0 359.1L514.5 360.0L515.3 360.4L516.3 360.4L517.2 359.9L517.6 359.1L517.6 358.1L517.6 357.7L517.6 357.2L517.6 356.7L517.5 356.1L517.4 355.5L517.4 354.9L517.4 354.3L517.4 353.6L517.4 352.8L517.5 351.8L517.6 350.7L517.7 349.5L517.8 348.3L518.0 347.3L518.2 346.4L518.5 345.7Z" fill="url(#csgD)"/><path d="M556.4 320.6L556.2 322.7L555.9 325.0L555.5 327.5L554.9 330.0L554.2 332.4L553.2 334.7L552.1 336.7L550.7 338.7L549.2 340.6L547.5 342.4L545.8 344.1L544.0 345.7L542.1 347.2L540.1 348.6L538.0 349.9L535.8 351.0L533.6 352.0L531.3 352.8L529.0 353.4L526.6 353.8L524.0 354.1L521.5 354.3L519.0 354.2L516.6 353.9L514.3 353.4L511.9 352.6L509.6 351.6L507.3 350.5L505.2 349.2L503.2 347.9L501.4 346.4L499.6 344.7L498.0 342.9L496.5 341.0L495.1 339.0L493.8 337.0L492.6 334.9L491.4 332.7L490.4 330.5L489.5 328.2L488.9 325.9L488.4 323.5L488.2 321.1L488.1 318.7L488.3 316.1L488.6 313.6L489.1 311.2L489.9 308.9L490.8 306.6L492.0 304.4L493.4 302.3L494.9 300.3L496.6 298.4L498.3 296.7L500.2 295.1L502.2 293.7L504.3 292.4L506.5 291.2L508.8 290.2L511.0 289.3L513.4 288.5L515.8 287.9L518.2 287.4L520.7 287.0L523.2 286.9L525.6 286.9L528.0 287.2L530.5 287.7L532.9 288.3L535.3 289.2L537.6 290.2L539.8 291.3L541.8 292.7L543.7 294.3L545.6 296.0L547.3 297.9L548.9 299.7L550.3 301.5L551.5 303.3L552.5 305.0L553.4 306.8L554.1 308.6L554.7 310.3L555.2 312.0L555.7 313.5L556.1 314.8L556.3 316.1L556.5 317.4L556.5 318.9Z" fill="url(#cbody)"/><path d="M556.4 320.6L556.2 322.7L555.9 325.0L555.5 327.5L554.9 330.0L554.2 332.4L553.2 334.7L552.1 336.7L550.7 338.7L549.2 340.6L547.5 342.4L545.8 344.1L544.0 345.7L542.1 347.2L540.1 348.6L538.0 349.9L535.8 351.0L533.6 352.0L531.3 352.8L529.0 353.4L526.6 353.8L524.0 354.1L521.5 354.3L519.0 354.2L516.6 353.9L514.3 353.4L511.9 352.6L509.6 351.6L507.3 350.5L505.2 349.2L503.2 347.9L501.4 346.4L499.6 344.7L498.0 342.9L496.5 341.0L495.1 339.0L493.8 337.0L492.6 334.9L491.4 332.7L490.4 330.5L489.5 328.2L488.9 325.9L488.4 323.5L488.2 321.1L488.1 318.7L488.3 316.1L488.6 313.6L489.1 311.2L489.9 308.9L490.8 306.6L492.0 304.4L493.4 302.3L494.9 300.3L496.6 298.4L498.3 296.7L500.2 295.1L502.2 293.7L504.3 292.4L506.5 291.2L508.8 290.2L511.0 289.3L513.4 288.5L515.8 287.9L518.2 287.4L520.7 287.0L523.2 286.9L525.6 286.9L528.0 287.2L530.5 287.7L532.9 288.3L535.3 289.2L537.6 290.2L539.8 291.3L541.8 292.7L543.7 294.3L545.6 296.0L547.3 297.9L548.9 299.7L550.3 301.5L551.5 303.3L552.5 305.0L553.4 306.8L554.1 308.6L554.7 310.3L555.2 312.0L555.7 313.5L556.1 314.8L556.3 316.1L556.5 317.4L556.5 318.9Z" fill="url(#cshadeR)"/><path d="M556.4 320.6L556.2 322.7L555.9 325.0L555.5 327.5L554.9 330.0L554.2 332.4L553.2 334.7L552.1 336.7L550.7 338.7L549.2 340.6L547.5 342.4L545.8 344.1L544.0 345.7L542.1 347.2L540.1 348.6L538.0 349.9L535.8 351.0L533.6 352.0L531.3 352.8L529.0 353.4L526.6 353.8L524.0 354.1L521.5 354.3L519.0 354.2L516.6 353.9L514.3 353.4L511.9 352.6L509.6 351.6L507.3 350.5L505.2 349.2L503.2 347.9L501.4 346.4L499.6 344.7L498.0 342.9L496.5 341.0L495.1 339.0L493.8 337.0L492.6 334.9L491.4 332.7L490.4 330.5L489.5 328.2L488.9 325.9L488.4 323.5L488.2 321.1L488.1 318.7L488.3 316.1L488.6 313.6L489.1 311.2L489.9 308.9L490.8 306.6L492.0 304.4L493.4 302.3L494.9 300.3L496.6 298.4L498.3 296.7L500.2 295.1L502.2 293.7L504.3 292.4L506.5 291.2L508.8 290.2L511.0 289.3L513.4 288.5L515.8 287.9L518.2 287.4L520.7 287.0L523.2 286.9L525.6 286.9L528.0 287.2L530.5 287.7L532.9 288.3L535.3 289.2L537.6 290.2L539.8 291.3L541.8 292.7L543.7 294.3L545.6 296.0L547.3 297.9L548.9 299.7L550.3 301.5L551.5 303.3L552.5 305.0L553.4 306.8L554.1 308.6L554.7 310.3L555.2 312.0L555.7 313.5L556.1 314.8L556.3 316.1L556.5 317.4L556.5 318.9Z" fill="url(#cshadeL)"/><path d="M512.4 312.3L511.4 312.0L510.3 311.5L509.0 310.8L507.5 309.9L506.1 309.0L504.7 308.1L503.3 307.3L502.1 306.5L500.9 305.9L499.8 305.4L498.7 304.9L497.7 304.5L496.7 304.1L495.9 303.9L495.3 303.7L494.7 303.5L493.7 303.3L492.6 303.6L491.8 304.4L491.6 305.4L491.9 306.5L492.7 307.3L493.1 307.7L493.7 308.1L494.3 308.6L495.1 309.2L495.8 309.8L496.6 310.4L497.4 311.1L498.1 311.9L499.0 312.7L499.9 313.8L501.0 315.0L502.1 316.2L503.1 317.5L503.9 318.7L504.6 319.8L505.0 320.7Z" fill="url(#cfs0)"/><path d="M541.1 328.1L540.9 327.1L540.6 325.8L540.4 324.3L540.2 322.8L540.0 321.2L539.9 319.9L539.9 318.9L539.9 318.4L539.8 318.2L539.8 318.1L539.7 318.1L539.6 318.0L539.5 318.0L539.7 317.8L540.0 317.7L540.4 317.5L541.0 317.4L541.8 317.4L542.9 317.4L544.2 317.6L545.4 317.7L546.6 317.9L547.7 318.0L548.5 318.1L550.1 317.9L551.4 317.0L552.1 315.5L551.9 313.9L551.0 312.6L549.5 311.9L548.9 311.7L547.9 311.4L546.7 311.1L545.4 310.8L543.9 310.5L542.5 310.2L541.0 310.1L539.6 310.1L538.4 310.3L537.3 310.5L536.1 310.8L534.9 311.4L533.8 312.3L532.8 313.3L532.0 314.6L531.3 316.0L530.9 317.7L530.6 319.5L530.5 321.3L530.4 323.1L530.3 324.8L530.2 326.3L530.1 327.5L529.9 328.3Z" fill="url(#cfs1)"/><path d="M512.9 339.3L513.6 340.0L514.5 341.1L515.4 342.3L516.4 343.7L517.5 345.2L518.5 346.7L519.4 348.2L520.2 349.5L521.0 350.7L521.8 352.0L522.6 353.3L523.4 354.6L524.1 355.9L524.8 357.0L525.4 357.9L525.9 358.5L526.9 359.7L528.4 360.2L529.9 359.9L531.1 358.9L531.6 357.4L531.3 355.9L531.1 355.1L530.7 354.1L530.3 352.9L529.7 351.5L529.2 350.1L528.6 348.6L527.9 347.2L527.4 345.7L526.7 344.3L526.0 342.6L525.3 341.0L524.6 339.3L523.9 337.6L523.3 336.2L522.9 334.9L522.7 333.9Z" fill="url(#cfs2)"/><path d="M512.3 310.7L511.4 310.4L510.3 309.9L509.0 309.1L507.6 308.2L506.1 307.3L504.7 306.4L503.4 305.5L502.2 304.8L501.0 304.2L499.9 303.7L498.8 303.2L497.8 302.7L496.9 302.4L496.1 302.1L495.5 301.9L494.9 301.7L494.0 301.5L493.0 301.8L492.3 302.5L492.1 303.4L492.4 304.4L493.1 305.1L493.5 305.5L494.1 305.9L494.7 306.4L495.5 306.9L496.3 307.5L497.1 308.2L497.9 308.9L498.6 309.6L499.5 310.4L500.5 311.5L501.6 312.7L502.6 313.9L503.7 315.2L504.5 316.4L505.3 317.4L505.7 318.3Z" fill="url(#cff0)"/><path d="M542.5 326.9L542.4 325.9L542.1 324.6L541.9 323.1L541.7 321.6L541.6 320.0L541.5 318.7L541.5 317.6L541.5 317.1L541.5 316.8L541.5 316.7L541.4 316.6L541.4 316.6L541.4 316.5L541.6 316.3L542.0 316.2L542.4 316.0L543.0 315.9L543.8 315.9L545.0 316.0L546.2 316.1L547.5 316.3L548.7 316.5L549.7 316.6L550.5 316.7L552.0 316.5L553.2 315.7L553.9 314.3L553.7 312.8L552.9 311.6L551.5 310.9L550.8 310.7L549.9 310.5L548.7 310.2L547.3 309.9L545.9 309.6L544.4 309.3L543.0 309.2L541.6 309.2L540.4 309.4L539.4 309.6L538.3 309.9L537.1 310.5L536.0 311.3L535.1 312.4L534.3 313.5L533.7 314.9L533.3 316.5L533.0 318.3L532.9 320.1L532.8 321.8L532.8 323.6L532.7 325.1L532.6 326.3L532.5 327.1Z" fill="url(#cff1)"/><path d="M515.6 338.4L516.3 339.2L517.1 340.2L518.0 341.5L519.0 342.9L520.0 344.4L521.0 346.0L521.9 347.4L522.8 348.7L523.5 350.0L524.3 351.3L525.1 352.6L525.9 353.9L526.6 355.1L527.2 356.2L527.8 357.2L528.3 357.8L529.2 358.9L530.6 359.4L532.0 359.1L533.1 358.2L533.6 356.8L533.3 355.4L533.1 354.6L532.7 353.6L532.2 352.4L531.7 351.1L531.1 349.6L530.5 348.2L529.9 346.7L529.2 345.3L528.6 343.8L527.9 342.2L527.1 340.5L526.4 338.9L525.7 337.3L525.1 335.8L524.7 334.5L524.4 333.6Z" fill="url(#cff2)"/></g>
<g transform="translate(701.87 147.35) scale(0.4501 0.437)"><path d="M525.9 294.6L525.4 293.5L524.9 292.1L524.6 290.4L524.2 288.6L523.9 286.7L523.7 284.9L523.5 283.1L523.3 281.7L523.2 280.3L523.2 279.0L523.2 277.7L523.2 276.4L523.2 275.2L523.3 274.0L523.4 272.8L523.4 271.8L523.5 270.8L523.7 269.8L523.8 268.8L524.0 267.9L524.1 267.0L524.2 266.3L524.3 265.6L524.2 265.0L524.3 264.4L524.1 263.9L523.6 263.6L523.0 263.5L522.5 263.7L522.2 264.2L521.8 264.6L521.3 265.1L520.8 265.7L520.3 266.4L519.8 267.3L519.2 268.2L518.7 269.2L518.2 270.2L517.6 271.3L517.1 272.4L516.6 273.5L516.1 274.8L515.5 276.1L515.0 277.4L514.4 278.8L513.9 280.3L513.3 282.0L512.7 283.8L512.2 285.7L511.6 287.7L511.0 289.5L510.4 291.1L509.8 292.4L509.1 293.4Z" fill="url(#csgTop)"/><path d="M511.1 295.9L510.4 295.4L509.7 294.8L508.9 293.9L508.1 292.9L507.3 291.8L506.5 290.6L505.7 289.5L505.0 288.4L504.3 287.2L503.5 285.9L502.7 284.6L501.9 283.3L501.1 282.0L500.4 280.9L499.8 280.0L499.3 279.3L498.8 278.7L498.0 278.4L497.2 278.6L496.6 279.1L496.3 279.9L496.5 280.7L496.7 281.5L497.1 282.5L497.6 283.8L498.1 285.1L498.7 286.6L499.3 288.0L499.8 289.4L500.2 290.6L500.6 291.9L500.9 293.2L501.3 294.5L501.6 295.8L501.8 297.1L502.0 298.2L502.0 299.3L501.9 300.1Z" fill="url(#csgL)"/><path d="M547.9 297.4L547.6 296.7L547.4 295.8L547.3 294.8L547.3 293.7L547.3 292.6L547.3 291.6L547.4 290.6L547.4 289.8L547.5 289.1L547.6 288.4L547.7 287.8L547.8 287.1L547.9 286.5L548.0 286.0L548.0 285.5L548.0 285.1L548.1 284.4L547.9 283.8L547.3 283.4L546.6 283.3L546.0 283.5L545.6 284.1L545.3 284.3L545.0 284.7L544.6 285.1L544.3 285.6L543.9 286.2L543.5 286.8L543.0 287.5L542.6 288.2L542.1 289.0L541.6 289.9L541.1 290.9L540.5 291.8L539.9 292.8L539.3 293.6L538.7 294.2L538.1 294.6Z" fill="url(#csgL)"/><path d="M501.9 312.6L500.9 312.3L499.8 311.8L498.4 311.0L497.0 310.2L495.4 309.2L493.9 308.2L492.3 307.2L490.9 306.4L489.6 305.6L488.3 304.8L487.0 304.0L485.7 303.2L484.3 302.4L482.8 301.7L481.3 301.0L479.6 300.4L477.9 300.0L476.1 299.8L474.3 299.7L472.6 299.6L471.1 299.7L469.7 299.7L468.6 299.8L467.8 299.8L466.5 300.1L465.5 301.0L465.0 302.2L465.3 303.5L466.2 304.5L467.4 305.0L468.3 305.1L469.5 305.3L470.8 305.4L472.3 305.6L473.7 305.8L475.1 306.0L476.4 306.4L477.4 306.8L478.2 307.3L479.2 307.9L480.1 308.7L481.1 309.5L482.1 310.5L483.1 311.5L484.1 312.6L485.1 313.6L486.1 314.7L487.1 316.0L488.2 317.3L489.2 318.6L490.2 320.0L491.0 321.3L491.7 322.4L492.1 323.4Z" fill="url(#csgLt)"/><path d="M552.9 323.1L553.6 322.1L554.6 321.0L555.8 319.8L557.1 318.7L558.6 317.6L560.1 316.6L561.6 315.7L563.0 314.9L564.6 314.3L566.4 313.7L568.5 313.1L570.5 312.6L572.6 312.1L574.4 311.7L575.9 311.3L577.1 310.9L578.0 310.5L578.6 309.7L578.7 308.7L578.3 307.8L577.5 307.2L576.5 307.1L575.3 307.1L573.8 307.1L571.9 307.2L569.8 307.4L567.5 307.5L565.3 307.7L563.1 308.0L561.0 308.3L559.0 308.7L557.0 309.2L555.0 309.7L553.0 310.2L551.2 310.7L549.6 311.0L548.2 311.1L547.1 310.9Z" fill="url(#csgR)"/><path d="M543.1 328.8L544.1 329.1L545.4 329.6L547.0 330.3L548.7 331.2L550.6 332.2L552.5 333.1L554.5 334.0L556.4 334.8L558.3 335.4L560.1 335.8L561.8 336.1L563.4 336.3L564.9 336.5L566.3 336.6L567.6 336.7L569.0 336.9L570.4 337.1L571.8 337.3L573.1 337.4L574.3 337.5L575.3 337.6L576.2 337.8L577.1 338.0L577.8 338.2L578.7 338.7L579.7 339.3L580.8 340.2L581.9 341.1L582.9 342.1L583.9 342.9L584.8 343.7L585.4 344.3L586.9 345.1L588.5 345.0L589.9 344.2L590.7 342.7L590.6 341.1L589.8 339.7L589.2 339.1L588.5 338.3L587.6 337.3L586.5 336.2L585.4 335.0L584.1 333.8L582.8 332.7L581.4 331.8L579.9 331.0L578.4 330.4L577.0 330.0L575.7 329.6L574.5 329.3L573.3 329.0L572.2 328.7L571.0 328.3L569.7 327.8L568.4 327.3L567.0 326.9L565.8 326.4L564.6 326.0L563.5 325.4L562.5 324.8L561.6 324.2L560.6 323.4L559.5 322.4L558.2 321.2L556.9 319.9L555.7 318.6L554.6 317.3L553.6 316.1L552.9 315.2Z" fill="url(#csgLong)"/><path d="M540.5 341.8L541.6 342.0L542.8 342.4L544.1 343.0L545.5 343.8L546.8 344.7L548.1 345.6L549.2 346.4L550.3 347.2L551.3 348.0L552.2 348.9L553.2 349.8L554.2 350.7L555.0 351.6L555.9 352.4L556.6 353.0L557.2 353.5L557.9 354.0L558.8 354.2L559.7 353.8L560.2 353.1L560.4 352.2L560.0 351.3L559.8 350.6L559.4 349.8L558.9 348.8L558.3 347.7L557.7 346.5L557.0 345.2L556.4 344.0L555.7 342.8L555.0 341.5L554.3 340.1L553.6 338.7L552.8 337.3L552.2 335.8L551.7 334.5L551.5 333.2L551.5 332.2Z" fill="url(#csgD)"/><path d="M494.4 326.8L493.8 327.7L492.8 328.7L491.6 329.7L490.1 330.7L488.6 331.8L487.0 332.8L485.4 333.9L483.9 334.9L482.4 336.0L480.8 337.2L479.3 338.4L477.7 339.6L476.3 340.7L475.0 341.8L473.9 342.7L473.2 343.4L472.5 344.1L472.3 345.1L472.6 346.0L473.3 346.7L474.3 346.9L475.2 346.6L476.2 346.2L477.5 345.6L478.9 344.9L480.6 344.0L482.2 343.2L484.0 342.4L485.6 341.6L487.1 341.1L488.6 340.6L490.3 340.1L492.0 339.7L493.8 339.4L495.5 339.2L497.0 339.0L498.4 339.0L499.6 339.2Z" fill="url(#csgLL)"/><path d="M513.1 343.3L513.6 344.6L513.9 346.4L514.2 348.5L514.5 350.9L514.7 353.2L514.9 355.6L515.0 357.7L515.2 359.6L515.3 361.1L515.4 362.5L515.5 363.8L515.6 365.0L515.7 366.2L515.8 367.4L515.9 368.7L516.0 370.0L516.1 371.4L516.3 372.8L516.5 374.2L516.7 375.6L517.0 376.8L517.2 378.0L517.4 378.9L517.5 379.6L518.0 380.8L518.9 381.6L520.2 381.9L521.4 381.4L522.2 380.5L522.5 379.2L522.5 378.5L522.5 377.5L522.6 376.3L522.6 375.1L522.6 373.8L522.6 372.5L522.7 371.2L522.8 370.0L523.0 369.0L523.2 367.9L523.5 366.9L523.8 365.8L524.1 364.6L524.4 363.4L524.8 362.0L525.2 360.4L525.7 358.6L526.2 356.5L526.7 354.2L527.3 351.9L527.9 349.6L528.6 347.6L529.2 345.9L529.9 344.7Z" fill="url(#csgBot)"/><path d="M509.5 346.3L509.9 346.9L510.2 347.7L510.5 348.8L510.8 349.9L511.0 351.1L511.3 352.3L511.6 353.4L511.8 354.4L512.1 355.3L512.4 356.1L512.7 356.8L513.0 357.5L513.3 358.0L513.5 358.5L513.8 358.9L514.0 359.1L514.5 360.0L515.3 360.4L516.3 360.4L517.2 359.9L517.6 359.1L517.6 358.1L517.6 357.7L517.6 357.2L517.6 356.7L517.5 356.1L517.4 355.5L517.4 354.9L517.4 354.3L517.4 353.6L517.4 352.8L517.5 351.8L517.6 350.7L517.7 349.5L517.8 348.3L518.0 347.3L518.2 346.4L518.5 345.7Z" fill="url(#csgD)"/><path d="M556.4 320.6L556.2 322.7L555.9 325.0L555.5 327.5L554.9 330.0L554.2 332.4L553.2 334.7L552.1 336.7L550.7 338.7L549.2 340.6L547.5 342.4L545.8 344.1L544.0 345.7L542.1 347.2L540.1 348.6L538.0 349.9L535.8 351.0L533.6 352.0L531.3 352.8L529.0 353.4L526.6 353.8L524.0 354.1L521.5 354.3L519.0 354.2L516.6 353.9L514.3 353.4L511.9 352.6L509.6 351.6L507.3 350.5L505.2 349.2L503.2 347.9L501.4 346.4L499.6 344.7L498.0 342.9L496.5 341.0L495.1 339.0L493.8 337.0L492.6 334.9L491.4 332.7L490.4 330.5L489.5 328.2L488.9 325.9L488.4 323.5L488.2 321.1L488.1 318.7L488.3 316.1L488.6 313.6L489.1 311.2L489.9 308.9L490.8 306.6L492.0 304.4L493.4 302.3L494.9 300.3L496.6 298.4L498.3 296.7L500.2 295.1L502.2 293.7L504.3 292.4L506.5 291.2L508.8 290.2L511.0 289.3L513.4 288.5L515.8 287.9L518.2 287.4L520.7 287.0L523.2 286.9L525.6 286.9L528.0 287.2L530.5 287.7L532.9 288.3L535.3 289.2L537.6 290.2L539.8 291.3L541.8 292.7L543.7 294.3L545.6 296.0L547.3 297.9L548.9 299.7L550.3 301.5L551.5 303.3L552.5 305.0L553.4 306.8L554.1 308.6L554.7 310.3L555.2 312.0L555.7 313.5L556.1 314.8L556.3 316.1L556.5 317.4L556.5 318.9Z" fill="url(#cbody)"/><path d="M556.4 320.6L556.2 322.7L555.9 325.0L555.5 327.5L554.9 330.0L554.2 332.4L553.2 334.7L552.1 336.7L550.7 338.7L549.2 340.6L547.5 342.4L545.8 344.1L544.0 345.7L542.1 347.2L540.1 348.6L538.0 349.9L535.8 351.0L533.6 352.0L531.3 352.8L529.0 353.4L526.6 353.8L524.0 354.1L521.5 354.3L519.0 354.2L516.6 353.9L514.3 353.4L511.9 352.6L509.6 351.6L507.3 350.5L505.2 349.2L503.2 347.9L501.4 346.4L499.6 344.7L498.0 342.9L496.5 341.0L495.1 339.0L493.8 337.0L492.6 334.9L491.4 332.7L490.4 330.5L489.5 328.2L488.9 325.9L488.4 323.5L488.2 321.1L488.1 318.7L488.3 316.1L488.6 313.6L489.1 311.2L489.9 308.9L490.8 306.6L492.0 304.4L493.4 302.3L494.9 300.3L496.6 298.4L498.3 296.7L500.2 295.1L502.2 293.7L504.3 292.4L506.5 291.2L508.8 290.2L511.0 289.3L513.4 288.5L515.8 287.9L518.2 287.4L520.7 287.0L523.2 286.9L525.6 286.9L528.0 287.2L530.5 287.7L532.9 288.3L535.3 289.2L537.6 290.2L539.8 291.3L541.8 292.7L543.7 294.3L545.6 296.0L547.3 297.9L548.9 299.7L550.3 301.5L551.5 303.3L552.5 305.0L553.4 306.8L554.1 308.6L554.7 310.3L555.2 312.0L555.7 313.5L556.1 314.8L556.3 316.1L556.5 317.4L556.5 318.9Z" fill="url(#cshadeR)"/><path d="M556.4 320.6L556.2 322.7L555.9 325.0L555.5 327.5L554.9 330.0L554.2 332.4L553.2 334.7L552.1 336.7L550.7 338.7L549.2 340.6L547.5 342.4L545.8 344.1L544.0 345.7L542.1 347.2L540.1 348.6L538.0 349.9L535.8 351.0L533.6 352.0L531.3 352.8L529.0 353.4L526.6 353.8L524.0 354.1L521.5 354.3L519.0 354.2L516.6 353.9L514.3 353.4L511.9 352.6L509.6 351.6L507.3 350.5L505.2 349.2L503.2 347.9L501.4 346.4L499.6 344.7L498.0 342.9L496.5 341.0L495.1 339.0L493.8 337.0L492.6 334.9L491.4 332.7L490.4 330.5L489.5 328.2L488.9 325.9L488.4 323.5L488.2 321.1L488.1 318.7L488.3 316.1L488.6 313.6L489.1 311.2L489.9 308.9L490.8 306.6L492.0 304.4L493.4 302.3L494.9 300.3L496.6 298.4L498.3 296.7L500.2 295.1L502.2 293.7L504.3 292.4L506.5 291.2L508.8 290.2L511.0 289.3L513.4 288.5L515.8 287.9L518.2 287.4L520.7 287.0L523.2 286.9L525.6 286.9L528.0 287.2L530.5 287.7L532.9 288.3L535.3 289.2L537.6 290.2L539.8 291.3L541.8 292.7L543.7 294.3L545.6 296.0L547.3 297.9L548.9 299.7L550.3 301.5L551.5 303.3L552.5 305.0L553.4 306.8L554.1 308.6L554.7 310.3L555.2 312.0L555.7 313.5L556.1 314.8L556.3 316.1L556.5 317.4L556.5 318.9Z" fill="url(#cshadeL)"/><path d="M512.4 312.3L511.4 312.0L510.3 311.5L509.0 310.8L507.5 309.9L506.1 309.0L504.7 308.1L503.3 307.3L502.1 306.5L500.9 305.9L499.8 305.4L498.7 304.9L497.7 304.5L496.7 304.1L495.9 303.9L495.3 303.7L494.7 303.5L493.7 303.3L492.6 303.6L491.8 304.4L491.6 305.4L491.9 306.5L492.7 307.3L493.1 307.7L493.7 308.1L494.3 308.6L495.1 309.2L495.8 309.8L496.6 310.4L497.4 311.1L498.1 311.9L499.0 312.7L499.9 313.8L501.0 315.0L502.1 316.2L503.1 317.5L503.9 318.7L504.6 319.8L505.0 320.7Z" fill="url(#cfs0)"/><path d="M541.1 328.1L540.9 327.1L540.6 325.8L540.4 324.3L540.2 322.8L540.0 321.2L539.9 319.9L539.9 318.9L539.9 318.4L539.8 318.2L539.8 318.1L539.7 318.1L539.6 318.0L539.5 318.0L539.7 317.8L540.0 317.7L540.4 317.5L541.0 317.4L541.8 317.4L542.9 317.4L544.2 317.6L545.4 317.7L546.6 317.9L547.7 318.0L548.5 318.1L550.1 317.9L551.4 317.0L552.1 315.5L551.9 313.9L551.0 312.6L549.5 311.9L548.9 311.7L547.9 311.4L546.7 311.1L545.4 310.8L543.9 310.5L542.5 310.2L541.0 310.1L539.6 310.1L538.4 310.3L537.3 310.5L536.1 310.8L534.9 311.4L533.8 312.3L532.8 313.3L532.0 314.6L531.3 316.0L530.9 317.7L530.6 319.5L530.5 321.3L530.4 323.1L530.3 324.8L530.2 326.3L530.1 327.5L529.9 328.3Z" fill="url(#cfs1)"/><path d="M512.9 339.3L513.6 340.0L514.5 341.1L515.4 342.3L516.4 343.7L517.5 345.2L518.5 346.7L519.4 348.2L520.2 349.5L521.0 350.7L521.8 352.0L522.6 353.3L523.4 354.6L524.1 355.9L524.8 357.0L525.4 357.9L525.9 358.5L526.9 359.7L528.4 360.2L529.9 359.9L531.1 358.9L531.6 357.4L531.3 355.9L531.1 355.1L530.7 354.1L530.3 352.9L529.7 351.5L529.2 350.1L528.6 348.6L527.9 347.2L527.4 345.7L526.7 344.3L526.0 342.6L525.3 341.0L524.6 339.3L523.9 337.6L523.3 336.2L522.9 334.9L522.7 333.9Z" fill="url(#cfs2)"/><path d="M512.3 310.7L511.4 310.4L510.3 309.9L509.0 309.1L507.6 308.2L506.1 307.3L504.7 306.4L503.4 305.5L502.2 304.8L501.0 304.2L499.9 303.7L498.8 303.2L497.8 302.7L496.9 302.4L496.1 302.1L495.5 301.9L494.9 301.7L494.0 301.5L493.0 301.8L492.3 302.5L492.1 303.4L492.4 304.4L493.1 305.1L493.5 305.5L494.1 305.9L494.7 306.4L495.5 306.9L496.3 307.5L497.1 308.2L497.9 308.9L498.6 309.6L499.5 310.4L500.5 311.5L501.6 312.7L502.6 313.9L503.7 315.2L504.5 316.4L505.3 317.4L505.7 318.3Z" fill="url(#cff0)"/><path d="M542.5 326.9L542.4 325.9L542.1 324.6L541.9 323.1L541.7 321.6L541.6 320.0L541.5 318.7L541.5 317.6L541.5 317.1L541.5 316.8L541.5 316.7L541.4 316.6L541.4 316.6L541.4 316.5L541.6 316.3L542.0 316.2L542.4 316.0L543.0 315.9L543.8 315.9L545.0 316.0L546.2 316.1L547.5 316.3L548.7 316.5L549.7 316.6L550.5 316.7L552.0 316.5L553.2 315.7L553.9 314.3L553.7 312.8L552.9 311.6L551.5 310.9L550.8 310.7L549.9 310.5L548.7 310.2L547.3 309.9L545.9 309.6L544.4 309.3L543.0 309.2L541.6 309.2L540.4 309.4L539.4 309.6L538.3 309.9L537.1 310.5L536.0 311.3L535.1 312.4L534.3 313.5L533.7 314.9L533.3 316.5L533.0 318.3L532.9 320.1L532.8 321.8L532.8 323.6L532.7 325.1L532.6 326.3L532.5 327.1Z" fill="url(#cff1)"/><path d="M515.6 338.4L516.3 339.2L517.1 340.2L518.0 341.5L519.0 342.9L520.0 344.4L521.0 346.0L521.9 347.4L522.8 348.7L523.5 350.0L524.3 351.3L525.1 352.6L525.9 353.9L526.6 355.1L527.2 356.2L527.8 357.2L528.3 357.8L529.2 358.9L530.6 359.4L532.0 359.1L533.1 358.2L533.6 356.8L533.3 355.4L533.1 354.6L532.7 353.6L532.2 352.4L531.7 351.1L531.1 349.6L530.5 348.2L529.9 346.7L529.2 345.3L528.6 343.8L527.9 342.2L527.1 340.5L526.4 338.9L525.7 337.3L525.1 335.8L524.7 334.5L524.4 333.6Z" fill="url(#cff2)"/></g>
<g transform="translate(670.31 216.37) scale(0.2730 0.265)"><path d="M525.9 294.6L525.4 293.5L524.9 292.1L524.6 290.4L524.2 288.6L523.9 286.7L523.7 284.9L523.5 283.1L523.3 281.7L523.2 280.3L523.2 279.0L523.2 277.7L523.2 276.4L523.2 275.2L523.3 274.0L523.4 272.8L523.4 271.8L523.5 270.8L523.7 269.8L523.8 268.8L524.0 267.9L524.1 267.0L524.2 266.3L524.3 265.6L524.2 265.0L524.3 264.4L524.1 263.9L523.6 263.6L523.0 263.5L522.5 263.7L522.2 264.2L521.8 264.6L521.3 265.1L520.8 265.7L520.3 266.4L519.8 267.3L519.2 268.2L518.7 269.2L518.2 270.2L517.6 271.3L517.1 272.4L516.6 273.5L516.1 274.8L515.5 276.1L515.0 277.4L514.4 278.8L513.9 280.3L513.3 282.0L512.7 283.8L512.2 285.7L511.6 287.7L511.0 289.5L510.4 291.1L509.8 292.4L509.1 293.4Z" fill="url(#csgTop)"/><path d="M511.1 295.9L510.4 295.4L509.7 294.8L508.9 293.9L508.1 292.9L507.3 291.8L506.5 290.6L505.7 289.5L505.0 288.4L504.3 287.2L503.5 285.9L502.7 284.6L501.9 283.3L501.1 282.0L500.4 280.9L499.8 280.0L499.3 279.3L498.8 278.7L498.0 278.4L497.2 278.6L496.6 279.1L496.3 279.9L496.5 280.7L496.7 281.5L497.1 282.5L497.6 283.8L498.1 285.1L498.7 286.6L499.3 288.0L499.8 289.4L500.2 290.6L500.6 291.9L500.9 293.2L501.3 294.5L501.6 295.8L501.8 297.1L502.0 298.2L502.0 299.3L501.9 300.1Z" fill="url(#csgL)"/><path d="M547.9 297.4L547.6 296.7L547.4 295.8L547.3 294.8L547.3 293.7L547.3 292.6L547.3 291.6L547.4 290.6L547.4 289.8L547.5 289.1L547.6 288.4L547.7 287.8L547.8 287.1L547.9 286.5L548.0 286.0L548.0 285.5L548.0 285.1L548.1 284.4L547.9 283.8L547.3 283.4L546.6 283.3L546.0 283.5L545.6 284.1L545.3 284.3L545.0 284.7L544.6 285.1L544.3 285.6L543.9 286.2L543.5 286.8L543.0 287.5L542.6 288.2L542.1 289.0L541.6 289.9L541.1 290.9L540.5 291.8L539.9 292.8L539.3 293.6L538.7 294.2L538.1 294.6Z" fill="url(#csgL)"/><path d="M501.9 312.6L500.9 312.3L499.8 311.8L498.4 311.0L497.0 310.2L495.4 309.2L493.9 308.2L492.3 307.2L490.9 306.4L489.6 305.6L488.3 304.8L487.0 304.0L485.7 303.2L484.3 302.4L482.8 301.7L481.3 301.0L479.6 300.4L477.9 300.0L476.1 299.8L474.3 299.7L472.6 299.6L471.1 299.7L469.7 299.7L468.6 299.8L467.8 299.8L466.5 300.1L465.5 301.0L465.0 302.2L465.3 303.5L466.2 304.5L467.4 305.0L468.3 305.1L469.5 305.3L470.8 305.4L472.3 305.6L473.7 305.8L475.1 306.0L476.4 306.4L477.4 306.8L478.2 307.3L479.2 307.9L480.1 308.7L481.1 309.5L482.1 310.5L483.1 311.5L484.1 312.6L485.1 313.6L486.1 314.7L487.1 316.0L488.2 317.3L489.2 318.6L490.2 320.0L491.0 321.3L491.7 322.4L492.1 323.4Z" fill="url(#csgLt)"/><path d="M552.9 323.1L553.6 322.1L554.6 321.0L555.8 319.8L557.1 318.7L558.6 317.6L560.1 316.6L561.6 315.7L563.0 314.9L564.6 314.3L566.4 313.7L568.5 313.1L570.5 312.6L572.6 312.1L574.4 311.7L575.9 311.3L577.1 310.9L578.0 310.5L578.6 309.7L578.7 308.7L578.3 307.8L577.5 307.2L576.5 307.1L575.3 307.1L573.8 307.1L571.9 307.2L569.8 307.4L567.5 307.5L565.3 307.7L563.1 308.0L561.0 308.3L559.0 308.7L557.0 309.2L555.0 309.7L553.0 310.2L551.2 310.7L549.6 311.0L548.2 311.1L547.1 310.9Z" fill="url(#csgR)"/><path d="M543.1 328.8L544.1 329.1L545.4 329.6L547.0 330.3L548.7 331.2L550.6 332.2L552.5 333.1L554.5 334.0L556.4 334.8L558.3 335.4L560.1 335.8L561.8 336.1L563.4 336.3L564.9 336.5L566.3 336.6L567.6 336.7L569.0 336.9L570.4 337.1L571.8 337.3L573.1 337.4L574.3 337.5L575.3 337.6L576.2 337.8L577.1 338.0L577.8 338.2L578.7 338.7L579.7 339.3L580.8 340.2L581.9 341.1L582.9 342.1L583.9 342.9L584.8 343.7L585.4 344.3L586.9 345.1L588.5 345.0L589.9 344.2L590.7 342.7L590.6 341.1L589.8 339.7L589.2 339.1L588.5 338.3L587.6 337.3L586.5 336.2L585.4 335.0L584.1 333.8L582.8 332.7L581.4 331.8L579.9 331.0L578.4 330.4L577.0 330.0L575.7 329.6L574.5 329.3L573.3 329.0L572.2 328.7L571.0 328.3L569.7 327.8L568.4 327.3L567.0 326.9L565.8 326.4L564.6 326.0L563.5 325.4L562.5 324.8L561.6 324.2L560.6 323.4L559.5 322.4L558.2 321.2L556.9 319.9L555.7 318.6L554.6 317.3L553.6 316.1L552.9 315.2Z" fill="url(#csgLong)"/><path d="M540.5 341.8L541.6 342.0L542.8 342.4L544.1 343.0L545.5 343.8L546.8 344.7L548.1 345.6L549.2 346.4L550.3 347.2L551.3 348.0L552.2 348.9L553.2 349.8L554.2 350.7L555.0 351.6L555.9 352.4L556.6 353.0L557.2 353.5L557.9 354.0L558.8 354.2L559.7 353.8L560.2 353.1L560.4 352.2L560.0 351.3L559.8 350.6L559.4 349.8L558.9 348.8L558.3 347.7L557.7 346.5L557.0 345.2L556.4 344.0L555.7 342.8L555.0 341.5L554.3 340.1L553.6 338.7L552.8 337.3L552.2 335.8L551.7 334.5L551.5 333.2L551.5 332.2Z" fill="url(#csgD)"/><path d="M494.4 326.8L493.8 327.7L492.8 328.7L491.6 329.7L490.1 330.7L488.6 331.8L487.0 332.8L485.4 333.9L483.9 334.9L482.4 336.0L480.8 337.2L479.3 338.4L477.7 339.6L476.3 340.7L475.0 341.8L473.9 342.7L473.2 343.4L472.5 344.1L472.3 345.1L472.6 346.0L473.3 346.7L474.3 346.9L475.2 346.6L476.2 346.2L477.5 345.6L478.9 344.9L480.6 344.0L482.2 343.2L484.0 342.4L485.6 341.6L487.1 341.1L488.6 340.6L490.3 340.1L492.0 339.7L493.8 339.4L495.5 339.2L497.0 339.0L498.4 339.0L499.6 339.2Z" fill="url(#csgLL)"/><path d="M513.1 343.3L513.6 344.6L513.9 346.4L514.2 348.5L514.5 350.9L514.7 353.2L514.9 355.6L515.0 357.7L515.2 359.6L515.3 361.1L515.4 362.5L515.5 363.8L515.6 365.0L515.7 366.2L515.8 367.4L515.9 368.7L516.0 370.0L516.1 371.4L516.3 372.8L516.5 374.2L516.7 375.6L517.0 376.8L517.2 378.0L517.4 378.9L517.5 379.6L518.0 380.8L518.9 381.6L520.2 381.9L521.4 381.4L522.2 380.5L522.5 379.2L522.5 378.5L522.5 377.5L522.6 376.3L522.6 375.1L522.6 373.8L522.6 372.5L522.7 371.2L522.8 370.0L523.0 369.0L523.2 367.9L523.5 366.9L523.8 365.8L524.1 364.6L524.4 363.4L524.8 362.0L525.2 360.4L525.7 358.6L526.2 356.5L526.7 354.2L527.3 351.9L527.9 349.6L528.6 347.6L529.2 345.9L529.9 344.7Z" fill="url(#csgBot)"/><path d="M509.5 346.3L509.9 346.9L510.2 347.7L510.5 348.8L510.8 349.9L511.0 351.1L511.3 352.3L511.6 353.4L511.8 354.4L512.1 355.3L512.4 356.1L512.7 356.8L513.0 357.5L513.3 358.0L513.5 358.5L513.8 358.9L514.0 359.1L514.5 360.0L515.3 360.4L516.3 360.4L517.2 359.9L517.6 359.1L517.6 358.1L517.6 357.7L517.6 357.2L517.6 356.7L517.5 356.1L517.4 355.5L517.4 354.9L517.4 354.3L517.4 353.6L517.4 352.8L517.5 351.8L517.6 350.7L517.7 349.5L517.8 348.3L518.0 347.3L518.2 346.4L518.5 345.7Z" fill="url(#csgD)"/><path d="M556.4 320.6L556.2 322.7L555.9 325.0L555.5 327.5L554.9 330.0L554.2 332.4L553.2 334.7L552.1 336.7L550.7 338.7L549.2 340.6L547.5 342.4L545.8 344.1L544.0 345.7L542.1 347.2L540.1 348.6L538.0 349.9L535.8 351.0L533.6 352.0L531.3 352.8L529.0 353.4L526.6 353.8L524.0 354.1L521.5 354.3L519.0 354.2L516.6 353.9L514.3 353.4L511.9 352.6L509.6 351.6L507.3 350.5L505.2 349.2L503.2 347.9L501.4 346.4L499.6 344.7L498.0 342.9L496.5 341.0L495.1 339.0L493.8 337.0L492.6 334.9L491.4 332.7L490.4 330.5L489.5 328.2L488.9 325.9L488.4 323.5L488.2 321.1L488.1 318.7L488.3 316.1L488.6 313.6L489.1 311.2L489.9 308.9L490.8 306.6L492.0 304.4L493.4 302.3L494.9 300.3L496.6 298.4L498.3 296.7L500.2 295.1L502.2 293.7L504.3 292.4L506.5 291.2L508.8 290.2L511.0 289.3L513.4 288.5L515.8 287.9L518.2 287.4L520.7 287.0L523.2 286.9L525.6 286.9L528.0 287.2L530.5 287.7L532.9 288.3L535.3 289.2L537.6 290.2L539.8 291.3L541.8 292.7L543.7 294.3L545.6 296.0L547.3 297.9L548.9 299.7L550.3 301.5L551.5 303.3L552.5 305.0L553.4 306.8L554.1 308.6L554.7 310.3L555.2 312.0L555.7 313.5L556.1 314.8L556.3 316.1L556.5 317.4L556.5 318.9Z" fill="url(#cbody)"/><path d="M556.4 320.6L556.2 322.7L555.9 325.0L555.5 327.5L554.9 330.0L554.2 332.4L553.2 334.7L552.1 336.7L550.7 338.7L549.2 340.6L547.5 342.4L545.8 344.1L544.0 345.7L542.1 347.2L540.1 348.6L538.0 349.9L535.8 351.0L533.6 352.0L531.3 352.8L529.0 353.4L526.6 353.8L524.0 354.1L521.5 354.3L519.0 354.2L516.6 353.9L514.3 353.4L511.9 352.6L509.6 351.6L507.3 350.5L505.2 349.2L503.2 347.9L501.4 346.4L499.6 344.7L498.0 342.9L496.5 341.0L495.1 339.0L493.8 337.0L492.6 334.9L491.4 332.7L490.4 330.5L489.5 328.2L488.9 325.9L488.4 323.5L488.2 321.1L488.1 318.7L488.3 316.1L488.6 313.6L489.1 311.2L489.9 308.9L490.8 306.6L492.0 304.4L493.4 302.3L494.9 300.3L496.6 298.4L498.3 296.7L500.2 295.1L502.2 293.7L504.3 292.4L506.5 291.2L508.8 290.2L511.0 289.3L513.4 288.5L515.8 287.9L518.2 287.4L520.7 287.0L523.2 286.9L525.6 286.9L528.0 287.2L530.5 287.7L532.9 288.3L535.3 289.2L537.6 290.2L539.8 291.3L541.8 292.7L543.7 294.3L545.6 296.0L547.3 297.9L548.9 299.7L550.3 301.5L551.5 303.3L552.5 305.0L553.4 306.8L554.1 308.6L554.7 310.3L555.2 312.0L555.7 313.5L556.1 314.8L556.3 316.1L556.5 317.4L556.5 318.9Z" fill="url(#cshadeR)"/><path d="M556.4 320.6L556.2 322.7L555.9 325.0L555.5 327.5L554.9 330.0L554.2 332.4L553.2 334.7L552.1 336.7L550.7 338.7L549.2 340.6L547.5 342.4L545.8 344.1L544.0 345.7L542.1 347.2L540.1 348.6L538.0 349.9L535.8 351.0L533.6 352.0L531.3 352.8L529.0 353.4L526.6 353.8L524.0 354.1L521.5 354.3L519.0 354.2L516.6 353.9L514.3 353.4L511.9 352.6L509.6 351.6L507.3 350.5L505.2 349.2L503.2 347.9L501.4 346.4L499.6 344.7L498.0 342.9L496.5 341.0L495.1 339.0L493.8 337.0L492.6 334.9L491.4 332.7L490.4 330.5L489.5 328.2L488.9 325.9L488.4 323.5L488.2 321.1L488.1 318.7L488.3 316.1L488.6 313.6L489.1 311.2L489.9 308.9L490.8 306.6L492.0 304.4L493.4 302.3L494.9 300.3L496.6 298.4L498.3 296.7L500.2 295.1L502.2 293.7L504.3 292.4L506.5 291.2L508.8 290.2L511.0 289.3L513.4 288.5L515.8 287.9L518.2 287.4L520.7 287.0L523.2 286.9L525.6 286.9L528.0 287.2L530.5 287.7L532.9 288.3L535.3 289.2L537.6 290.2L539.8 291.3L541.8 292.7L543.7 294.3L545.6 296.0L547.3 297.9L548.9 299.7L550.3 301.5L551.5 303.3L552.5 305.0L553.4 306.8L554.1 308.6L554.7 310.3L555.2 312.0L555.7 313.5L556.1 314.8L556.3 316.1L556.5 317.4L556.5 318.9Z" fill="url(#cshadeL)"/><path d="M512.4 312.3L511.4 312.0L510.3 311.5L509.0 310.8L507.5 309.9L506.1 309.0L504.7 308.1L503.3 307.3L502.1 306.5L500.9 305.9L499.8 305.4L498.7 304.9L497.7 304.5L496.7 304.1L495.9 303.9L495.3 303.7L494.7 303.5L493.7 303.3L492.6 303.6L491.8 304.4L491.6 305.4L491.9 306.5L492.7 307.3L493.1 307.7L493.7 308.1L494.3 308.6L495.1 309.2L495.8 309.8L496.6 310.4L497.4 311.1L498.1 311.9L499.0 312.7L499.9 313.8L501.0 315.0L502.1 316.2L503.1 317.5L503.9 318.7L504.6 319.8L505.0 320.7Z" fill="url(#cfs0)"/><path d="M541.1 328.1L540.9 327.1L540.6 325.8L540.4 324.3L540.2 322.8L540.0 321.2L539.9 319.9L539.9 318.9L539.9 318.4L539.8 318.2L539.8 318.1L539.7 318.1L539.6 318.0L539.5 318.0L539.7 317.8L540.0 317.7L540.4 317.5L541.0 317.4L541.8 317.4L542.9 317.4L544.2 317.6L545.4 317.7L546.6 317.9L547.7 318.0L548.5 318.1L550.1 317.9L551.4 317.0L552.1 315.5L551.9 313.9L551.0 312.6L549.5 311.9L548.9 311.7L547.9 311.4L546.7 311.1L545.4 310.8L543.9 310.5L542.5 310.2L541.0 310.1L539.6 310.1L538.4 310.3L537.3 310.5L536.1 310.8L534.9 311.4L533.8 312.3L532.8 313.3L532.0 314.6L531.3 316.0L530.9 317.7L530.6 319.5L530.5 321.3L530.4 323.1L530.3 324.8L530.2 326.3L530.1 327.5L529.9 328.3Z" fill="url(#cfs1)"/><path d="M512.9 339.3L513.6 340.0L514.5 341.1L515.4 342.3L516.4 343.7L517.5 345.2L518.5 346.7L519.4 348.2L520.2 349.5L521.0 350.7L521.8 352.0L522.6 353.3L523.4 354.6L524.1 355.9L524.8 357.0L525.4 357.9L525.9 358.5L526.9 359.7L528.4 360.2L529.9 359.9L531.1 358.9L531.6 357.4L531.3 355.9L531.1 355.1L530.7 354.1L530.3 352.9L529.7 351.5L529.2 350.1L528.6 348.6L527.9 347.2L527.4 345.7L526.7 344.3L526.0 342.6L525.3 341.0L524.6 339.3L523.9 337.6L523.3 336.2L522.9 334.9L522.7 333.9Z" fill="url(#cfs2)"/><path d="M512.3 310.7L511.4 310.4L510.3 309.9L509.0 309.1L507.6 308.2L506.1 307.3L504.7 306.4L503.4 305.5L502.2 304.8L501.0 304.2L499.9 303.7L498.8 303.2L497.8 302.7L496.9 302.4L496.1 302.1L495.5 301.9L494.9 301.7L494.0 301.5L493.0 301.8L492.3 302.5L492.1 303.4L492.4 304.4L493.1 305.1L493.5 305.5L494.1 305.9L494.7 306.4L495.5 306.9L496.3 307.5L497.1 308.2L497.9 308.9L498.6 309.6L499.5 310.4L500.5 311.5L501.6 312.7L502.6 313.9L503.7 315.2L504.5 316.4L505.3 317.4L505.7 318.3Z" fill="url(#cff0)"/><path d="M542.5 326.9L542.4 325.9L542.1 324.6L541.9 323.1L541.7 321.6L541.6 320.0L541.5 318.7L541.5 317.6L541.5 317.1L541.5 316.8L541.5 316.7L541.4 316.6L541.4 316.6L541.4 316.5L541.6 316.3L542.0 316.2L542.4 316.0L543.0 315.9L543.8 315.9L545.0 316.0L546.2 316.1L547.5 316.3L548.7 316.5L549.7 316.6L550.5 316.7L552.0 316.5L553.2 315.7L553.9 314.3L553.7 312.8L552.9 311.6L551.5 310.9L550.8 310.7L549.9 310.5L548.7 310.2L547.3 309.9L545.9 309.6L544.4 309.3L543.0 309.2L541.6 309.2L540.4 309.4L539.4 309.6L538.3 309.9L537.1 310.5L536.0 311.3L535.1 312.4L534.3 313.5L533.7 314.9L533.3 316.5L533.0 318.3L532.9 320.1L532.8 321.8L532.8 323.6L532.7 325.1L532.6 326.3L532.5 327.1Z" fill="url(#cff1)"/><path d="M515.6 338.4L516.3 339.2L517.1 340.2L518.0 341.5L519.0 342.9L520.0 344.4L521.0 346.0L521.9 347.4L522.8 348.7L523.5 350.0L524.3 351.3L525.1 352.6L525.9 353.9L526.6 355.1L527.2 356.2L527.8 357.2L528.3 357.8L529.2 358.9L530.6 359.4L532.0 359.1L533.1 358.2L533.6 356.8L533.3 355.4L533.1 354.6L532.7 353.6L532.2 352.4L531.7 351.1L531.1 349.6L530.5 348.2L529.9 346.7L529.2 345.3L528.6 343.8L527.9 342.2L527.1 340.5L526.4 338.9L525.7 337.3L525.1 335.8L524.7 334.5L524.4 333.6Z" fill="url(#cff2)"/></g>
<g transform="translate(755.41 270.67) scale(0.2730 0.265)"><path d="M525.9 294.6L525.4 293.5L524.9 292.1L524.6 290.4L524.2 288.6L523.9 286.7L523.7 284.9L523.5 283.1L523.3 281.7L523.2 280.3L523.2 279.0L523.2 277.7L523.2 276.4L523.2 275.2L523.3 274.0L523.4 272.8L523.4 271.8L523.5 270.8L523.7 269.8L523.8 268.8L524.0 267.9L524.1 267.0L524.2 266.3L524.3 265.6L524.2 265.0L524.3 264.4L524.1 263.9L523.6 263.6L523.0 263.5L522.5 263.7L522.2 264.2L521.8 264.6L521.3 265.1L520.8 265.7L520.3 266.4L519.8 267.3L519.2 268.2L518.7 269.2L518.2 270.2L517.6 271.3L517.1 272.4L516.6 273.5L516.1 274.8L515.5 276.1L515.0 277.4L514.4 278.8L513.9 280.3L513.3 282.0L512.7 283.8L512.2 285.7L511.6 287.7L511.0 289.5L510.4 291.1L509.8 292.4L509.1 293.4Z" fill="url(#csgTop)"/><path d="M511.1 295.9L510.4 295.4L509.7 294.8L508.9 293.9L508.1 292.9L507.3 291.8L506.5 290.6L505.7 289.5L505.0 288.4L504.3 287.2L503.5 285.9L502.7 284.6L501.9 283.3L501.1 282.0L500.4 280.9L499.8 280.0L499.3 279.3L498.8 278.7L498.0 278.4L497.2 278.6L496.6 279.1L496.3 279.9L496.5 280.7L496.7 281.5L497.1 282.5L497.6 283.8L498.1 285.1L498.7 286.6L499.3 288.0L499.8 289.4L500.2 290.6L500.6 291.9L500.9 293.2L501.3 294.5L501.6 295.8L501.8 297.1L502.0 298.2L502.0 299.3L501.9 300.1Z" fill="url(#csgL)"/><path d="M547.9 297.4L547.6 296.7L547.4 295.8L547.3 294.8L547.3 293.7L547.3 292.6L547.3 291.6L547.4 290.6L547.4 289.8L547.5 289.1L547.6 288.4L547.7 287.8L547.8 287.1L547.9 286.5L548.0 286.0L548.0 285.5L548.0 285.1L548.1 284.4L547.9 283.8L547.3 283.4L546.6 283.3L546.0 283.5L545.6 284.1L545.3 284.3L545.0 284.7L544.6 285.1L544.3 285.6L543.9 286.2L543.5 286.8L543.0 287.5L542.6 288.2L542.1 289.0L541.6 289.9L541.1 290.9L540.5 291.8L539.9 292.8L539.3 293.6L538.7 294.2L538.1 294.6Z" fill="url(#csgL)"/><path d="M501.9 312.6L500.9 312.3L499.8 311.8L498.4 311.0L497.0 310.2L495.4 309.2L493.9 308.2L492.3 307.2L490.9 306.4L489.6 305.6L488.3 304.8L487.0 304.0L485.7 303.2L484.3 302.4L482.8 301.7L481.3 301.0L479.6 300.4L477.9 300.0L476.1 299.8L474.3 299.7L472.6 299.6L471.1 299.7L469.7 299.7L468.6 299.8L467.8 299.8L466.5 300.1L465.5 301.0L465.0 302.2L465.3 303.5L466.2 304.5L467.4 305.0L468.3 305.1L469.5 305.3L470.8 305.4L472.3 305.6L473.7 305.8L475.1 306.0L476.4 306.4L477.4 306.8L478.2 307.3L479.2 307.9L480.1 308.7L481.1 309.5L482.1 310.5L483.1 311.5L484.1 312.6L485.1 313.6L486.1 314.7L487.1 316.0L488.2 317.3L489.2 318.6L490.2 320.0L491.0 321.3L491.7 322.4L492.1 323.4Z" fill="url(#csgLt)"/><path d="M552.9 323.1L553.6 322.1L554.6 321.0L555.8 319.8L557.1 318.7L558.6 317.6L560.1 316.6L561.6 315.7L563.0 314.9L564.6 314.3L566.4 313.7L568.5 313.1L570.5 312.6L572.6 312.1L574.4 311.7L575.9 311.3L577.1 310.9L578.0 310.5L578.6 309.7L578.7 308.7L578.3 307.8L577.5 307.2L576.5 307.1L575.3 307.1L573.8 307.1L571.9 307.2L569.8 307.4L567.5 307.5L565.3 307.7L563.1 308.0L561.0 308.3L559.0 308.7L557.0 309.2L555.0 309.7L553.0 310.2L551.2 310.7L549.6 311.0L548.2 311.1L547.1 310.9Z" fill="url(#csgR)"/><path d="M543.1 328.8L544.1 329.1L545.4 329.6L547.0 330.3L548.7 331.2L550.6 332.2L552.5 333.1L554.5 334.0L556.4 334.8L558.3 335.4L560.1 335.8L561.8 336.1L563.4 336.3L564.9 336.5L566.3 336.6L567.6 336.7L569.0 336.9L570.4 337.1L571.8 337.3L573.1 337.4L574.3 337.5L575.3 337.6L576.2 337.8L577.1 338.0L577.8 338.2L578.7 338.7L579.7 339.3L580.8 340.2L581.9 341.1L582.9 342.1L583.9 342.9L584.8 343.7L585.4 344.3L586.9 345.1L588.5 345.0L589.9 344.2L590.7 342.7L590.6 341.1L589.8 339.7L589.2 339.1L588.5 338.3L587.6 337.3L586.5 336.2L585.4 335.0L584.1 333.8L582.8 332.7L581.4 331.8L579.9 331.0L578.4 330.4L577.0 330.0L575.7 329.6L574.5 329.3L573.3 329.0L572.2 328.7L571.0 328.3L569.7 327.8L568.4 327.3L567.0 326.9L565.8 326.4L564.6 326.0L563.5 325.4L562.5 324.8L561.6 324.2L560.6 323.4L559.5 322.4L558.2 321.2L556.9 319.9L555.7 318.6L554.6 317.3L553.6 316.1L552.9 315.2Z" fill="url(#csgLong)"/><path d="M540.5 341.8L541.6 342.0L542.8 342.4L544.1 343.0L545.5 343.8L546.8 344.7L548.1 345.6L549.2 346.4L550.3 347.2L551.3 348.0L552.2 348.9L553.2 349.8L554.2 350.7L555.0 351.6L555.9 352.4L556.6 353.0L557.2 353.5L557.9 354.0L558.8 354.2L559.7 353.8L560.2 353.1L560.4 352.2L560.0 351.3L559.8 350.6L559.4 349.8L558.9 348.8L558.3 347.7L557.7 346.5L557.0 345.2L556.4 344.0L555.7 342.8L555.0 341.5L554.3 340.1L553.6 338.7L552.8 337.3L552.2 335.8L551.7 334.5L551.5 333.2L551.5 332.2Z" fill="url(#csgD)"/><path d="M494.4 326.8L493.8 327.7L492.8 328.7L491.6 329.7L490.1 330.7L488.6 331.8L487.0 332.8L485.4 333.9L483.9 334.9L482.4 336.0L480.8 337.2L479.3 338.4L477.7 339.6L476.3 340.7L475.0 341.8L473.9 342.7L473.2 343.4L472.5 344.1L472.3 345.1L472.6 346.0L473.3 346.7L474.3 346.9L475.2 346.6L476.2 346.2L477.5 345.6L478.9 344.9L480.6 344.0L482.2 343.2L484.0 342.4L485.6 341.6L487.1 341.1L488.6 340.6L490.3 340.1L492.0 339.7L493.8 339.4L495.5 339.2L497.0 339.0L498.4 339.0L499.6 339.2Z" fill="url(#csgLL)"/><path d="M513.1 343.3L513.6 344.6L513.9 346.4L514.2 348.5L514.5 350.9L514.7 353.2L514.9 355.6L515.0 357.7L515.2 359.6L515.3 361.1L515.4 362.5L515.5 363.8L515.6 365.0L515.7 366.2L515.8 367.4L515.9 368.7L516.0 370.0L516.1 371.4L516.3 372.8L516.5 374.2L516.7 375.6L517.0 376.8L517.2 378.0L517.4 378.9L517.5 379.6L518.0 380.8L518.9 381.6L520.2 381.9L521.4 381.4L522.2 380.5L522.5 379.2L522.5 378.5L522.5 377.5L522.6 376.3L522.6 375.1L522.6 373.8L522.6 372.5L522.7 371.2L522.8 370.0L523.0 369.0L523.2 367.9L523.5 366.9L523.8 365.8L524.1 364.6L524.4 363.4L524.8 362.0L525.2 360.4L525.7 358.6L526.2 356.5L526.7 354.2L527.3 351.9L527.9 349.6L528.6 347.6L529.2 345.9L529.9 344.7Z" fill="url(#csgBot)"/><path d="M509.5 346.3L509.9 346.9L510.2 347.7L510.5 348.8L510.8 349.9L511.0 351.1L511.3 352.3L511.6 353.4L511.8 354.4L512.1 355.3L512.4 356.1L512.7 356.8L513.0 357.5L513.3 358.0L513.5 358.5L513.8 358.9L514.0 359.1L514.5 360.0L515.3 360.4L516.3 360.4L517.2 359.9L517.6 359.1L517.6 358.1L517.6 357.7L517.6 357.2L517.6 356.7L517.5 356.1L517.4 355.5L517.4 354.9L517.4 354.3L517.4 353.6L517.4 352.8L517.5 351.8L517.6 350.7L517.7 349.5L517.8 348.3L518.0 347.3L518.2 346.4L518.5 345.7Z" fill="url(#csgD)"/><path d="M556.4 320.6L556.2 322.7L555.9 325.0L555.5 327.5L554.9 330.0L554.2 332.4L553.2 334.7L552.1 336.7L550.7 338.7L549.2 340.6L547.5 342.4L545.8 344.1L544.0 345.7L542.1 347.2L540.1 348.6L538.0 349.9L535.8 351.0L533.6 352.0L531.3 352.8L529.0 353.4L526.6 353.8L524.0 354.1L521.5 354.3L519.0 354.2L516.6 353.9L514.3 353.4L511.9 352.6L509.6 351.6L507.3 350.5L505.2 349.2L503.2 347.9L501.4 346.4L499.6 344.7L498.0 342.9L496.5 341.0L495.1 339.0L493.8 337.0L492.6 334.9L491.4 332.7L490.4 330.5L489.5 328.2L488.9 325.9L488.4 323.5L488.2 321.1L488.1 318.7L488.3 316.1L488.6 313.6L489.1 311.2L489.9 308.9L490.8 306.6L492.0 304.4L493.4 302.3L494.9 300.3L496.6 298.4L498.3 296.7L500.2 295.1L502.2 293.7L504.3 292.4L506.5 291.2L508.8 290.2L511.0 289.3L513.4 288.5L515.8 287.9L518.2 287.4L520.7 287.0L523.2 286.9L525.6 286.9L528.0 287.2L530.5 287.7L532.9 288.3L535.3 289.2L537.6 290.2L539.8 291.3L541.8 292.7L543.7 294.3L545.6 296.0L547.3 297.9L548.9 299.7L550.3 301.5L551.5 303.3L552.5 305.0L553.4 306.8L554.1 308.6L554.7 310.3L555.2 312.0L555.7 313.5L556.1 314.8L556.3 316.1L556.5 317.4L556.5 318.9Z" fill="url(#cbody)"/><path d="M556.4 320.6L556.2 322.7L555.9 325.0L555.5 327.5L554.9 330.0L554.2 332.4L553.2 334.7L552.1 336.7L550.7 338.7L549.2 340.6L547.5 342.4L545.8 344.1L544.0 345.7L542.1 347.2L540.1 348.6L538.0 349.9L535.8 351.0L533.6 352.0L531.3 352.8L529.0 353.4L526.6 353.8L524.0 354.1L521.5 354.3L519.0 354.2L516.6 353.9L514.3 353.4L511.9 352.6L509.6 351.6L507.3 350.5L505.2 349.2L503.2 347.9L501.4 346.4L499.6 344.7L498.0 342.9L496.5 341.0L495.1 339.0L493.8 337.0L492.6 334.9L491.4 332.7L490.4 330.5L489.5 328.2L488.9 325.9L488.4 323.5L488.2 321.1L488.1 318.7L488.3 316.1L488.6 313.6L489.1 311.2L489.9 308.9L490.8 306.6L492.0 304.4L493.4 302.3L494.9 300.3L496.6 298.4L498.3 296.7L500.2 295.1L502.2 293.7L504.3 292.4L506.5 291.2L508.8 290.2L511.0 289.3L513.4 288.5L515.8 287.9L518.2 287.4L520.7 287.0L523.2 286.9L525.6 286.9L528.0 287.2L530.5 287.7L532.9 288.3L535.3 289.2L537.6 290.2L539.8 291.3L541.8 292.7L543.7 294.3L545.6 296.0L547.3 297.9L548.9 299.7L550.3 301.5L551.5 303.3L552.5 305.0L553.4 306.8L554.1 308.6L554.7 310.3L555.2 312.0L555.7 313.5L556.1 314.8L556.3 316.1L556.5 317.4L556.5 318.9Z" fill="url(#cshadeR)"/><path d="M556.4 320.6L556.2 322.7L555.9 325.0L555.5 327.5L554.9 330.0L554.2 332.4L553.2 334.7L552.1 336.7L550.7 338.7L549.2 340.6L547.5 342.4L545.8 344.1L544.0 345.7L542.1 347.2L540.1 348.6L538.0 349.9L535.8 351.0L533.6 352.0L531.3 352.8L529.0 353.4L526.6 353.8L524.0 354.1L521.5 354.3L519.0 354.2L516.6 353.9L514.3 353.4L511.9 352.6L509.6 351.6L507.3 350.5L505.2 349.2L503.2 347.9L501.4 346.4L499.6 344.7L498.0 342.9L496.5 341.0L495.1 339.0L493.8 337.0L492.6 334.9L491.4 332.7L490.4 330.5L489.5 328.2L488.9 325.9L488.4 323.5L488.2 321.1L488.1 318.7L488.3 316.1L488.6 313.6L489.1 311.2L489.9 308.9L490.8 306.6L492.0 304.4L493.4 302.3L494.9 300.3L496.6 298.4L498.3 296.7L500.2 295.1L502.2 293.7L504.3 292.4L506.5 291.2L508.8 290.2L511.0 289.3L513.4 288.5L515.8 287.9L518.2 287.4L520.7 287.0L523.2 286.9L525.6 286.9L528.0 287.2L530.5 287.7L532.9 288.3L535.3 289.2L537.6 290.2L539.8 291.3L541.8 292.7L543.7 294.3L545.6 296.0L547.3 297.9L548.9 299.7L550.3 301.5L551.5 303.3L552.5 305.0L553.4 306.8L554.1 308.6L554.7 310.3L555.2 312.0L555.7 313.5L556.1 314.8L556.3 316.1L556.5 317.4L556.5 318.9Z" fill="url(#cshadeL)"/><path d="M512.4 312.3L511.4 312.0L510.3 311.5L509.0 310.8L507.5 309.9L506.1 309.0L504.7 308.1L503.3 307.3L502.1 306.5L500.9 305.9L499.8 305.4L498.7 304.9L497.7 304.5L496.7 304.1L495.9 303.9L495.3 303.7L494.7 303.5L493.7 303.3L492.6 303.6L491.8 304.4L491.6 305.4L491.9 306.5L492.7 307.3L493.1 307.7L493.7 308.1L494.3 308.6L495.1 309.2L495.8 309.8L496.6 310.4L497.4 311.1L498.1 311.9L499.0 312.7L499.9 313.8L501.0 315.0L502.1 316.2L503.1 317.5L503.9 318.7L504.6 319.8L505.0 320.7Z" fill="url(#cfs0)"/><path d="M541.1 328.1L540.9 327.1L540.6 325.8L540.4 324.3L540.2 322.8L540.0 321.2L539.9 319.9L539.9 318.9L539.9 318.4L539.8 318.2L539.8 318.1L539.7 318.1L539.6 318.0L539.5 318.0L539.7 317.8L540.0 317.7L540.4 317.5L541.0 317.4L541.8 317.4L542.9 317.4L544.2 317.6L545.4 317.7L546.6 317.9L547.7 318.0L548.5 318.1L550.1 317.9L551.4 317.0L552.1 315.5L551.9 313.9L551.0 312.6L549.5 311.9L548.9 311.7L547.9 311.4L546.7 311.1L545.4 310.8L543.9 310.5L542.5 310.2L541.0 310.1L539.6 310.1L538.4 310.3L537.3 310.5L536.1 310.8L534.9 311.4L533.8 312.3L532.8 313.3L532.0 314.6L531.3 316.0L530.9 317.7L530.6 319.5L530.5 321.3L530.4 323.1L530.3 324.8L530.2 326.3L530.1 327.5L529.9 328.3Z" fill="url(#cfs1)"/><path d="M512.9 339.3L513.6 340.0L514.5 341.1L515.4 342.3L516.4 343.7L517.5 345.2L518.5 346.7L519.4 348.2L520.2 349.5L521.0 350.7L521.8 352.0L522.6 353.3L523.4 354.6L524.1 355.9L524.8 357.0L525.4 357.9L525.9 358.5L526.9 359.7L528.4 360.2L529.9 359.9L531.1 358.9L531.6 357.4L531.3 355.9L531.1 355.1L530.7 354.1L530.3 352.9L529.7 351.5L529.2 350.1L528.6 348.6L527.9 347.2L527.4 345.7L526.7 344.3L526.0 342.6L525.3 341.0L524.6 339.3L523.9 337.6L523.3 336.2L522.9 334.9L522.7 333.9Z" fill="url(#cfs2)"/><path d="M512.3 310.7L511.4 310.4L510.3 309.9L509.0 309.1L507.6 308.2L506.1 307.3L504.7 306.4L503.4 305.5L502.2 304.8L501.0 304.2L499.9 303.7L498.8 303.2L497.8 302.7L496.9 302.4L496.1 302.1L495.5 301.9L494.9 301.7L494.0 301.5L493.0 301.8L492.3 302.5L492.1 303.4L492.4 304.4L493.1 305.1L493.5 305.5L494.1 305.9L494.7 306.4L495.5 306.9L496.3 307.5L497.1 308.2L497.9 308.9L498.6 309.6L499.5 310.4L500.5 311.5L501.6 312.7L502.6 313.9L503.7 315.2L504.5 316.4L505.3 317.4L505.7 318.3Z" fill="url(#cff0)"/><path d="M542.5 326.9L542.4 325.9L542.1 324.6L541.9 323.1L541.7 321.6L541.6 320.0L541.5 318.7L541.5 317.6L541.5 317.1L541.5 316.8L541.5 316.7L541.4 316.6L541.4 316.6L541.4 316.5L541.6 316.3L542.0 316.2L542.4 316.0L543.0 315.9L543.8 315.9L545.0 316.0L546.2 316.1L547.5 316.3L548.7 316.5L549.7 316.6L550.5 316.7L552.0 316.5L553.2 315.7L553.9 314.3L553.7 312.8L552.9 311.6L551.5 310.9L550.8 310.7L549.9 310.5L548.7 310.2L547.3 309.9L545.9 309.6L544.4 309.3L543.0 309.2L541.6 309.2L540.4 309.4L539.4 309.6L538.3 309.9L537.1 310.5L536.0 311.3L535.1 312.4L534.3 313.5L533.7 314.9L533.3 316.5L533.0 318.3L532.9 320.1L532.8 321.8L532.8 323.6L532.7 325.1L532.6 326.3L532.5 327.1Z" fill="url(#cff1)"/><path d="M515.6 338.4L516.3 339.2L517.1 340.2L518.0 341.5L519.0 342.9L520.0 344.4L521.0 346.0L521.9 347.4L522.8 348.7L523.5 350.0L524.3 351.3L525.1 352.6L525.9 353.9L526.6 355.1L527.2 356.2L527.8 357.2L528.3 357.8L529.2 358.9L530.6 359.4L532.0 359.1L533.1 358.2L533.6 356.8L533.3 355.4L533.1 354.6L532.7 353.6L532.2 352.4L531.7 351.1L531.1 349.6L530.5 348.2L529.9 346.7L529.2 345.3L528.6 343.8L527.9 342.2L527.1 340.5L526.4 338.9L525.7 337.3L525.1 335.8L524.7 334.5L524.4 333.6Z" fill="url(#cff2)"/></g>
<g transform="translate(677.71 269.37) scale(0.2730 0.265)"><path d="M525.9 294.6L525.4 293.5L524.9 292.1L524.6 290.4L524.2 288.6L523.9 286.7L523.7 284.9L523.5 283.1L523.3 281.7L523.2 280.3L523.2 279.0L523.2 277.7L523.2 276.4L523.2 275.2L523.3 274.0L523.4 272.8L523.4 271.8L523.5 270.8L523.7 269.8L523.8 268.8L524.0 267.9L524.1 267.0L524.2 266.3L524.3 265.6L524.2 265.0L524.3 264.4L524.1 263.9L523.6 263.6L523.0 263.5L522.5 263.7L522.2 264.2L521.8 264.6L521.3 265.1L520.8 265.7L520.3 266.4L519.8 267.3L519.2 268.2L518.7 269.2L518.2 270.2L517.6 271.3L517.1 272.4L516.6 273.5L516.1 274.8L515.5 276.1L515.0 277.4L514.4 278.8L513.9 280.3L513.3 282.0L512.7 283.8L512.2 285.7L511.6 287.7L511.0 289.5L510.4 291.1L509.8 292.4L509.1 293.4Z" fill="url(#csgTop)"/><path d="M511.1 295.9L510.4 295.4L509.7 294.8L508.9 293.9L508.1 292.9L507.3 291.8L506.5 290.6L505.7 289.5L505.0 288.4L504.3 287.2L503.5 285.9L502.7 284.6L501.9 283.3L501.1 282.0L500.4 280.9L499.8 280.0L499.3 279.3L498.8 278.7L498.0 278.4L497.2 278.6L496.6 279.1L496.3 279.9L496.5 280.7L496.7 281.5L497.1 282.5L497.6 283.8L498.1 285.1L498.7 286.6L499.3 288.0L499.8 289.4L500.2 290.6L500.6 291.9L500.9 293.2L501.3 294.5L501.6 295.8L501.8 297.1L502.0 298.2L502.0 299.3L501.9 300.1Z" fill="url(#csgL)"/><path d="M547.9 297.4L547.6 296.7L547.4 295.8L547.3 294.8L547.3 293.7L547.3 292.6L547.3 291.6L547.4 290.6L547.4 289.8L547.5 289.1L547.6 288.4L547.7 287.8L547.8 287.1L547.9 286.5L548.0 286.0L548.0 285.5L548.0 285.1L548.1 284.4L547.9 283.8L547.3 283.4L546.6 283.3L546.0 283.5L545.6 284.1L545.3 284.3L545.0 284.7L544.6 285.1L544.3 285.6L543.9 286.2L543.5 286.8L543.0 287.5L542.6 288.2L542.1 289.0L541.6 289.9L541.1 290.9L540.5 291.8L539.9 292.8L539.3 293.6L538.7 294.2L538.1 294.6Z" fill="url(#csgL)"/><path d="M501.9 312.6L500.9 312.3L499.8 311.8L498.4 311.0L497.0 310.2L495.4 309.2L493.9 308.2L492.3 307.2L490.9 306.4L489.6 305.6L488.3 304.8L487.0 304.0L485.7 303.2L484.3 302.4L482.8 301.7L481.3 301.0L479.6 300.4L477.9 300.0L476.1 299.8L474.3 299.7L472.6 299.6L471.1 299.7L469.7 299.7L468.6 299.8L467.8 299.8L466.5 300.1L465.5 301.0L465.0 302.2L465.3 303.5L466.2 304.5L467.4 305.0L468.3 305.1L469.5 305.3L470.8 305.4L472.3 305.6L473.7 305.8L475.1 306.0L476.4 306.4L477.4 306.8L478.2 307.3L479.2 307.9L480.1 308.7L481.1 309.5L482.1 310.5L483.1 311.5L484.1 312.6L485.1 313.6L486.1 314.7L487.1 316.0L488.2 317.3L489.2 318.6L490.2 320.0L491.0 321.3L491.7 322.4L492.1 323.4Z" fill="url(#csgLt)"/><path d="M552.9 323.1L553.6 322.1L554.6 321.0L555.8 319.8L557.1 318.7L558.6 317.6L560.1 316.6L561.6 315.7L563.0 314.9L564.6 314.3L566.4 313.7L568.5 313.1L570.5 312.6L572.6 312.1L574.4 311.7L575.9 311.3L577.1 310.9L578.0 310.5L578.6 309.7L578.7 308.7L578.3 307.8L577.5 307.2L576.5 307.1L575.3 307.1L573.8 307.1L571.9 307.2L569.8 307.4L567.5 307.5L565.3 307.7L563.1 308.0L561.0 308.3L559.0 308.7L557.0 309.2L555.0 309.7L553.0 310.2L551.2 310.7L549.6 311.0L548.2 311.1L547.1 310.9Z" fill="url(#csgR)"/><path d="M543.1 328.8L544.1 329.1L545.4 329.6L547.0 330.3L548.7 331.2L550.6 332.2L552.5 333.1L554.5 334.0L556.4 334.8L558.3 335.4L560.1 335.8L561.8 336.1L563.4 336.3L564.9 336.5L566.3 336.6L567.6 336.7L569.0 336.9L570.4 337.1L571.8 337.3L573.1 337.4L574.3 337.5L575.3 337.6L576.2 337.8L577.1 338.0L577.8 338.2L578.7 338.7L579.7 339.3L580.8 340.2L581.9 341.1L582.9 342.1L583.9 342.9L584.8 343.7L585.4 344.3L586.9 345.1L588.5 345.0L589.9 344.2L590.7 342.7L590.6 341.1L589.8 339.7L589.2 339.1L588.5 338.3L587.6 337.3L586.5 336.2L585.4 335.0L584.1 333.8L582.8 332.7L581.4 331.8L579.9 331.0L578.4 330.4L577.0 330.0L575.7 329.6L574.5 329.3L573.3 329.0L572.2 328.7L571.0 328.3L569.7 327.8L568.4 327.3L567.0 326.9L565.8 326.4L564.6 326.0L563.5 325.4L562.5 324.8L561.6 324.2L560.6 323.4L559.5 322.4L558.2 321.2L556.9 319.9L555.7 318.6L554.6 317.3L553.6 316.1L552.9 315.2Z" fill="url(#csgLong)"/><path d="M540.5 341.8L541.6 342.0L542.8 342.4L544.1 343.0L545.5 343.8L546.8 344.7L548.1 345.6L549.2 346.4L550.3 347.2L551.3 348.0L552.2 348.9L553.2 349.8L554.2 350.7L555.0 351.6L555.9 352.4L556.6 353.0L557.2 353.5L557.9 354.0L558.8 354.2L559.7 353.8L560.2 353.1L560.4 352.2L560.0 351.3L559.8 350.6L559.4 349.8L558.9 348.8L558.3 347.7L557.7 346.5L557.0 345.2L556.4 344.0L555.7 342.8L555.0 341.5L554.3 340.1L553.6 338.7L552.8 337.3L552.2 335.8L551.7 334.5L551.5 333.2L551.5 332.2Z" fill="url(#csgD)"/><path d="M494.4 326.8L493.8 327.7L492.8 328.7L491.6 329.7L490.1 330.7L488.6 331.8L487.0 332.8L485.4 333.9L483.9 334.9L482.4 336.0L480.8 337.2L479.3 338.4L477.7 339.6L476.3 340.7L475.0 341.8L473.9 342.7L473.2 343.4L472.5 344.1L472.3 345.1L472.6 346.0L473.3 346.7L474.3 346.9L475.2 346.6L476.2 346.2L477.5 345.6L478.9 344.9L480.6 344.0L482.2 343.2L484.0 342.4L485.6 341.6L487.1 341.1L488.6 340.6L490.3 340.1L492.0 339.7L493.8 339.4L495.5 339.2L497.0 339.0L498.4 339.0L499.6 339.2Z" fill="url(#csgLL)"/><path d="M513.1 343.3L513.6 344.6L513.9 346.4L514.2 348.5L514.5 350.9L514.7 353.2L514.9 355.6L515.0 357.7L515.2 359.6L515.3 361.1L515.4 362.5L515.5 363.8L515.6 365.0L515.7 366.2L515.8 367.4L515.9 368.7L516.0 370.0L516.1 371.4L516.3 372.8L516.5 374.2L516.7 375.6L517.0 376.8L517.2 378.0L517.4 378.9L517.5 379.6L518.0 380.8L518.9 381.6L520.2 381.9L521.4 381.4L522.2 380.5L522.5 379.2L522.5 378.5L522.5 377.5L522.6 376.3L522.6 375.1L522.6 373.8L522.6 372.5L522.7 371.2L522.8 370.0L523.0 369.0L523.2 367.9L523.5 366.9L523.8 365.8L524.1 364.6L524.4 363.4L524.8 362.0L525.2 360.4L525.7 358.6L526.2 356.5L526.7 354.2L527.3 351.9L527.9 349.6L528.6 347.6L529.2 345.9L529.9 344.7Z" fill="url(#csgBot)"/><path d="M509.5 346.3L509.9 346.9L510.2 347.7L510.5 348.8L510.8 349.9L511.0 351.1L511.3 352.3L511.6 353.4L511.8 354.4L512.1 355.3L512.4 356.1L512.7 356.8L513.0 357.5L513.3 358.0L513.5 358.5L513.8 358.9L514.0 359.1L514.5 360.0L515.3 360.4L516.3 360.4L517.2 359.9L517.6 359.1L517.6 358.1L517.6 357.7L517.6 357.2L517.6 356.7L517.5 356.1L517.4 355.5L517.4 354.9L517.4 354.3L517.4 353.6L517.4 352.8L517.5 351.8L517.6 350.7L517.7 349.5L517.8 348.3L518.0 347.3L518.2 346.4L518.5 345.7Z" fill="url(#csgD)"/><path d="M556.4 320.6L556.2 322.7L555.9 325.0L555.5 327.5L554.9 330.0L554.2 332.4L553.2 334.7L552.1 336.7L550.7 338.7L549.2 340.6L547.5 342.4L545.8 344.1L544.0 345.7L542.1 347.2L540.1 348.6L538.0 349.9L535.8 351.0L533.6 352.0L531.3 352.8L529.0 353.4L526.6 353.8L524.0 354.1L521.5 354.3L519.0 354.2L516.6 353.9L514.3 353.4L511.9 352.6L509.6 351.6L507.3 350.5L505.2 349.2L503.2 347.9L501.4 346.4L499.6 344.7L498.0 342.9L496.5 341.0L495.1 339.0L493.8 337.0L492.6 334.9L491.4 332.7L490.4 330.5L489.5 328.2L488.9 325.9L488.4 323.5L488.2 321.1L488.1 318.7L488.3 316.1L488.6 313.6L489.1 311.2L489.9 308.9L490.8 306.6L492.0 304.4L493.4 302.3L494.9 300.3L496.6 298.4L498.3 296.7L500.2 295.1L502.2 293.7L504.3 292.4L506.5 291.2L508.8 290.2L511.0 289.3L513.4 288.5L515.8 287.9L518.2 287.4L520.7 287.0L523.2 286.9L525.6 286.9L528.0 287.2L530.5 287.7L532.9 288.3L535.3 289.2L537.6 290.2L539.8 291.3L541.8 292.7L543.7 294.3L545.6 296.0L547.3 297.9L548.9 299.7L550.3 301.5L551.5 303.3L552.5 305.0L553.4 306.8L554.1 308.6L554.7 310.3L555.2 312.0L555.7 313.5L556.1 314.8L556.3 316.1L556.5 317.4L556.5 318.9Z" fill="url(#cbody)"/><path d="M556.4 320.6L556.2 322.7L555.9 325.0L555.5 327.5L554.9 330.0L554.2 332.4L553.2 334.7L552.1 336.7L550.7 338.7L549.2 340.6L547.5 342.4L545.8 344.1L544.0 345.7L542.1 347.2L540.1 348.6L538.0 349.9L535.8 351.0L533.6 352.0L531.3 352.8L529.0 353.4L526.6 353.8L524.0 354.1L521.5 354.3L519.0 354.2L516.6 353.9L514.3 353.4L511.9 352.6L509.6 351.6L507.3 350.5L505.2 349.2L503.2 347.9L501.4 346.4L499.6 344.7L498.0 342.9L496.5 341.0L495.1 339.0L493.8 337.0L492.6 334.9L491.4 332.7L490.4 330.5L489.5 328.2L488.9 325.9L488.4 323.5L488.2 321.1L488.1 318.7L488.3 316.1L488.6 313.6L489.1 311.2L489.9 308.9L490.8 306.6L492.0 304.4L493.4 302.3L494.9 300.3L496.6 298.4L498.3 296.7L500.2 295.1L502.2 293.7L504.3 292.4L506.5 291.2L508.8 290.2L511.0 289.3L513.4 288.5L515.8 287.9L518.2 287.4L520.7 287.0L523.2 286.9L525.6 286.9L528.0 287.2L530.5 287.7L532.9 288.3L535.3 289.2L537.6 290.2L539.8 291.3L541.8 292.7L543.7 294.3L545.6 296.0L547.3 297.9L548.9 299.7L550.3 301.5L551.5 303.3L552.5 305.0L553.4 306.8L554.1 308.6L554.7 310.3L555.2 312.0L555.7 313.5L556.1 314.8L556.3 316.1L556.5 317.4L556.5 318.9Z" fill="url(#cshadeR)"/><path d="M556.4 320.6L556.2 322.7L555.9 325.0L555.5 327.5L554.9 330.0L554.2 332.4L553.2 334.7L552.1 336.7L550.7 338.7L549.2 340.6L547.5 342.4L545.8 344.1L544.0 345.7L542.1 347.2L540.1 348.6L538.0 349.9L535.8 351.0L533.6 352.0L531.3 352.8L529.0 353.4L526.6 353.8L524.0 354.1L521.5 354.3L519.0 354.2L516.6 353.9L514.3 353.4L511.9 352.6L509.6 351.6L507.3 350.5L505.2 349.2L503.2 347.9L501.4 346.4L499.6 344.7L498.0 342.9L496.5 341.0L495.1 339.0L493.8 337.0L492.6 334.9L491.4 332.7L490.4 330.5L489.5 328.2L488.9 325.9L488.4 323.5L488.2 321.1L488.1 318.7L488.3 316.1L488.6 313.6L489.1 311.2L489.9 308.9L490.8 306.6L492.0 304.4L493.4 302.3L494.9 300.3L496.6 298.4L498.3 296.7L500.2 295.1L502.2 293.7L504.3 292.4L506.5 291.2L508.8 290.2L511.0 289.3L513.4 288.5L515.8 287.9L518.2 287.4L520.7 287.0L523.2 286.9L525.6 286.9L528.0 287.2L530.5 287.7L532.9 288.3L535.3 289.2L537.6 290.2L539.8 291.3L541.8 292.7L543.7 294.3L545.6 296.0L547.3 297.9L548.9 299.7L550.3 301.5L551.5 303.3L552.5 305.0L553.4 306.8L554.1 308.6L554.7 310.3L555.2 312.0L555.7 313.5L556.1 314.8L556.3 316.1L556.5 317.4L556.5 318.9Z" fill="url(#cshadeL)"/><path d="M512.4 312.3L511.4 312.0L510.3 311.5L509.0 310.8L507.5 309.9L506.1 309.0L504.7 308.1L503.3 307.3L502.1 306.5L500.9 305.9L499.8 305.4L498.7 304.9L497.7 304.5L496.7 304.1L495.9 303.9L495.3 303.7L494.7 303.5L493.7 303.3L492.6 303.6L491.8 304.4L491.6 305.4L491.9 306.5L492.7 307.3L493.1 307.7L493.7 308.1L494.3 308.6L495.1 309.2L495.8 309.8L496.6 310.4L497.4 311.1L498.1 311.9L499.0 312.7L499.9 313.8L501.0 315.0L502.1 316.2L503.1 317.5L503.9 318.7L504.6 319.8L505.0 320.7Z" fill="url(#cfs0)"/><path d="M541.1 328.1L540.9 327.1L540.6 325.8L540.4 324.3L540.2 322.8L540.0 321.2L539.9 319.9L539.9 318.9L539.9 318.4L539.8 318.2L539.8 318.1L539.7 318.1L539.6 318.0L539.5 318.0L539.7 317.8L540.0 317.7L540.4 317.5L541.0 317.4L541.8 317.4L542.9 317.4L544.2 317.6L545.4 317.7L546.6 317.9L547.7 318.0L548.5 318.1L550.1 317.9L551.4 317.0L552.1 315.5L551.9 313.9L551.0 312.6L549.5 311.9L548.9 311.7L547.9 311.4L546.7 311.1L545.4 310.8L543.9 310.5L542.5 310.2L541.0 310.1L539.6 310.1L538.4 310.3L537.3 310.5L536.1 310.8L534.9 311.4L533.8 312.3L532.8 313.3L532.0 314.6L531.3 316.0L530.9 317.7L530.6 319.5L530.5 321.3L530.4 323.1L530.3 324.8L530.2 326.3L530.1 327.5L529.9 328.3Z" fill="url(#cfs1)"/><path d="M512.9 339.3L513.6 340.0L514.5 341.1L515.4 342.3L516.4 343.7L517.5 345.2L518.5 346.7L519.4 348.2L520.2 349.5L521.0 350.7L521.8 352.0L522.6 353.3L523.4 354.6L524.1 355.9L524.8 357.0L525.4 357.9L525.9 358.5L526.9 359.7L528.4 360.2L529.9 359.9L531.1 358.9L531.6 357.4L531.3 355.9L531.1 355.1L530.7 354.1L530.3 352.9L529.7 351.5L529.2 350.1L528.6 348.6L527.9 347.2L527.4 345.7L526.7 344.3L526.0 342.6L525.3 341.0L524.6 339.3L523.9 337.6L523.3 336.2L522.9 334.9L522.7 333.9Z" fill="url(#cfs2)"/><path d="M512.3 310.7L511.4 310.4L510.3 309.9L509.0 309.1L507.6 308.2L506.1 307.3L504.7 306.4L503.4 305.5L502.2 304.8L501.0 304.2L499.9 303.7L498.8 303.2L497.8 302.7L496.9 302.4L496.1 302.1L495.5 301.9L494.9 301.7L494.0 301.5L493.0 301.8L492.3 302.5L492.1 303.4L492.4 304.4L493.1 305.1L493.5 305.5L494.1 305.9L494.7 306.4L495.5 306.9L496.3 307.5L497.1 308.2L497.9 308.9L498.6 309.6L499.5 310.4L500.5 311.5L501.6 312.7L502.6 313.9L503.7 315.2L504.5 316.4L505.3 317.4L505.7 318.3Z" fill="url(#cff0)"/><path d="M542.5 326.9L542.4 325.9L542.1 324.6L541.9 323.1L541.7 321.6L541.6 320.0L541.5 318.7L541.5 317.6L541.5 317.1L541.5 316.8L541.5 316.7L541.4 316.6L541.4 316.6L541.4 316.5L541.6 316.3L542.0 316.2L542.4 316.0L543.0 315.9L543.8 315.9L545.0 316.0L546.2 316.1L547.5 316.3L548.7 316.5L549.7 316.6L550.5 316.7L552.0 316.5L553.2 315.7L553.9 314.3L553.7 312.8L552.9 311.6L551.5 310.9L550.8 310.7L549.9 310.5L548.7 310.2L547.3 309.9L545.9 309.6L544.4 309.3L543.0 309.2L541.6 309.2L540.4 309.4L539.4 309.6L538.3 309.9L537.1 310.5L536.0 311.3L535.1 312.4L534.3 313.5L533.7 314.9L533.3 316.5L533.0 318.3L532.9 320.1L532.8 321.8L532.8 323.6L532.7 325.1L532.6 326.3L532.5 327.1Z" fill="url(#cff1)"/><path d="M515.6 338.4L516.3 339.2L517.1 340.2L518.0 341.5L519.0 342.9L520.0 344.4L521.0 346.0L521.9 347.4L522.8 348.7L523.5 350.0L524.3 351.3L525.1 352.6L525.9 353.9L526.6 355.1L527.2 356.2L527.8 357.2L528.3 357.8L529.2 358.9L530.6 359.4L532.0 359.1L533.1 358.2L533.6 356.8L533.3 355.4L533.1 354.6L532.7 353.6L532.2 352.4L531.7 351.1L531.1 349.6L530.5 348.2L529.9 346.7L529.2 345.3L528.6 343.8L527.9 342.2L527.1 340.5L526.4 338.9L525.7 337.3L525.1 335.8L524.7 334.5L524.4 333.6Z" fill="url(#cff2)"/></g>
<g transform="translate(686.01 293.47) scale(0.2730 0.265)"><path d="M525.9 294.6L525.4 293.5L524.9 292.1L524.6 290.4L524.2 288.6L523.9 286.7L523.7 284.9L523.5 283.1L523.3 281.7L523.2 280.3L523.2 279.0L523.2 277.7L523.2 276.4L523.2 275.2L523.3 274.0L523.4 272.8L523.4 271.8L523.5 270.8L523.7 269.8L523.8 268.8L524.0 267.9L524.1 267.0L524.2 266.3L524.3 265.6L524.2 265.0L524.3 264.4L524.1 263.9L523.6 263.6L523.0 263.5L522.5 263.7L522.2 264.2L521.8 264.6L521.3 265.1L520.8 265.7L520.3 266.4L519.8 267.3L519.2 268.2L518.7 269.2L518.2 270.2L517.6 271.3L517.1 272.4L516.6 273.5L516.1 274.8L515.5 276.1L515.0 277.4L514.4 278.8L513.9 280.3L513.3 282.0L512.7 283.8L512.2 285.7L511.6 287.7L511.0 289.5L510.4 291.1L509.8 292.4L509.1 293.4Z" fill="url(#csgTop)"/><path d="M511.1 295.9L510.4 295.4L509.7 294.8L508.9 293.9L508.1 292.9L507.3 291.8L506.5 290.6L505.7 289.5L505.0 288.4L504.3 287.2L503.5 285.9L502.7 284.6L501.9 283.3L501.1 282.0L500.4 280.9L499.8 280.0L499.3 279.3L498.8 278.7L498.0 278.4L497.2 278.6L496.6 279.1L496.3 279.9L496.5 280.7L496.7 281.5L497.1 282.5L497.6 283.8L498.1 285.1L498.7 286.6L499.3 288.0L499.8 289.4L500.2 290.6L500.6 291.9L500.9 293.2L501.3 294.5L501.6 295.8L501.8 297.1L502.0 298.2L502.0 299.3L501.9 300.1Z" fill="url(#csgL)"/><path d="M547.9 297.4L547.6 296.7L547.4 295.8L547.3 294.8L547.3 293.7L547.3 292.6L547.3 291.6L547.4 290.6L547.4 289.8L547.5 289.1L547.6 288.4L547.7 287.8L547.8 287.1L547.9 286.5L548.0 286.0L548.0 285.5L548.0 285.1L548.1 284.4L547.9 283.8L547.3 283.4L546.6 283.3L546.0 283.5L545.6 284.1L545.3 284.3L545.0 284.7L544.6 285.1L544.3 285.6L543.9 286.2L543.5 286.8L543.0 287.5L542.6 288.2L542.1 289.0L541.6 289.9L541.1 290.9L540.5 291.8L539.9 292.8L539.3 293.6L538.7 294.2L538.1 294.6Z" fill="url(#csgL)"/><path d="M501.9 312.6L500.9 312.3L499.8 311.8L498.4 311.0L497.0 310.2L495.4 309.2L493.9 308.2L492.3 307.2L490.9 306.4L489.6 305.6L488.3 304.8L487.0 304.0L485.7 303.2L484.3 302.4L482.8 301.7L481.3 301.0L479.6 300.4L477.9 300.0L476.1 299.8L474.3 299.7L472.6 299.6L471.1 299.7L469.7 299.7L468.6 299.8L467.8 299.8L466.5 300.1L465.5 301.0L465.0 302.2L465.3 303.5L466.2 304.5L467.4 305.0L468.3 305.1L469.5 305.3L470.8 305.4L472.3 305.6L473.7 305.8L475.1 306.0L476.4 306.4L477.4 306.8L478.2 307.3L479.2 307.9L480.1 308.7L481.1 309.5L482.1 310.5L483.1 311.5L484.1 312.6L485.1 313.6L486.1 314.7L487.1 316.0L488.2 317.3L489.2 318.6L490.2 320.0L491.0 321.3L491.7 322.4L492.1 323.4Z" fill="url(#csgLt)"/><path d="M552.9 323.1L553.6 322.1L554.6 321.0L555.8 319.8L557.1 318.7L558.6 317.6L560.1 316.6L561.6 315.7L563.0 314.9L564.6 314.3L566.4 313.7L568.5 313.1L570.5 312.6L572.6 312.1L574.4 311.7L575.9 311.3L577.1 310.9L578.0 310.5L578.6 309.7L578.7 308.7L578.3 307.8L577.5 307.2L576.5 307.1L575.3 307.1L573.8 307.1L571.9 307.2L569.8 307.4L567.5 307.5L565.3 307.7L563.1 308.0L561.0 308.3L559.0 308.7L557.0 309.2L555.0 309.7L553.0 310.2L551.2 310.7L549.6 311.0L548.2 311.1L547.1 310.9Z" fill="url(#csgR)"/><path d="M543.1 328.8L544.1 329.1L545.4 329.6L547.0 330.3L548.7 331.2L550.6 332.2L552.5 333.1L554.5 334.0L556.4 334.8L558.3 335.4L560.1 335.8L561.8 336.1L563.4 336.3L564.9 336.5L566.3 336.6L567.6 336.7L569.0 336.9L570.4 337.1L571.8 337.3L573.1 337.4L574.3 337.5L575.3 337.6L576.2 337.8L577.1 338.0L577.8 338.2L578.7 338.7L579.7 339.3L580.8 340.2L581.9 341.1L582.9 342.1L583.9 342.9L584.8 343.7L585.4 344.3L586.9 345.1L588.5 345.0L589.9 344.2L590.7 342.7L590.6 341.1L589.8 339.7L589.2 339.1L588.5 338.3L587.6 337.3L586.5 336.2L585.4 335.0L584.1 333.8L582.8 332.7L581.4 331.8L579.9 331.0L578.4 330.4L577.0 330.0L575.7 329.6L574.5 329.3L573.3 329.0L572.2 328.7L571.0 328.3L569.7 327.8L568.4 327.3L567.0 326.9L565.8 326.4L564.6 326.0L563.5 325.4L562.5 324.8L561.6 324.2L560.6 323.4L559.5 322.4L558.2 321.2L556.9 319.9L555.7 318.6L554.6 317.3L553.6 316.1L552.9 315.2Z" fill="url(#csgLong)"/><path d="M540.5 341.8L541.6 342.0L542.8 342.4L544.1 343.0L545.5 343.8L546.8 344.7L548.1 345.6L549.2 346.4L550.3 347.2L551.3 348.0L552.2 348.9L553.2 349.8L554.2 350.7L555.0 351.6L555.9 352.4L556.6 353.0L557.2 353.5L557.9 354.0L558.8 354.2L559.7 353.8L560.2 353.1L560.4 352.2L560.0 351.3L559.8 350.6L559.4 349.8L558.9 348.8L558.3 347.7L557.7 346.5L557.0 345.2L556.4 344.0L555.7 342.8L555.0 341.5L554.3 340.1L553.6 338.7L552.8 337.3L552.2 335.8L551.7 334.5L551.5 333.2L551.5 332.2Z" fill="url(#csgD)"/><path d="M494.4 326.8L493.8 327.7L492.8 328.7L491.6 329.7L490.1 330.7L488.6 331.8L487.0 332.8L485.4 333.9L483.9 334.9L482.4 336.0L480.8 337.2L479.3 338.4L477.7 339.6L476.3 340.7L475.0 341.8L473.9 342.7L473.2 343.4L472.5 344.1L472.3 345.1L472.6 346.0L473.3 346.7L474.3 346.9L475.2 346.6L476.2 346.2L477.5 345.6L478.9 344.9L480.6 344.0L482.2 343.2L484.0 342.4L485.6 341.6L487.1 341.1L488.6 340.6L490.3 340.1L492.0 339.7L493.8 339.4L495.5 339.2L497.0 339.0L498.4 339.0L499.6 339.2Z" fill="url(#csgLL)"/><path d="M513.1 343.3L513.6 344.6L513.9 346.4L514.2 348.5L514.5 350.9L514.7 353.2L514.9 355.6L515.0 357.7L515.2 359.6L515.3 361.1L515.4 362.5L515.5 363.8L515.6 365.0L515.7 366.2L515.8 367.4L515.9 368.7L516.0 370.0L516.1 371.4L516.3 372.8L516.5 374.2L516.7 375.6L517.0 376.8L517.2 378.0L517.4 378.9L517.5 379.6L518.0 380.8L518.9 381.6L520.2 381.9L521.4 381.4L522.2 380.5L522.5 379.2L522.5 378.5L522.5 377.5L522.6 376.3L522.6 375.1L522.6 373.8L522.6 372.5L522.7 371.2L522.8 370.0L523.0 369.0L523.2 367.9L523.5 366.9L523.8 365.8L524.1 364.6L524.4 363.4L524.8 362.0L525.2 360.4L525.7 358.6L526.2 356.5L526.7 354.2L527.3 351.9L527.9 349.6L528.6 347.6L529.2 345.9L529.9 344.7Z" fill="url(#csgBot)"/><path d="M509.5 346.3L509.9 346.9L510.2 347.7L510.5 348.8L510.8 349.9L511.0 351.1L511.3 352.3L511.6 353.4L511.8 354.4L512.1 355.3L512.4 356.1L512.7 356.8L513.0 357.5L513.3 358.0L513.5 358.5L513.8 358.9L514.0 359.1L514.5 360.0L515.3 360.4L516.3 360.4L517.2 359.9L517.6 359.1L517.6 358.1L517.6 357.7L517.6 357.2L517.6 356.7L517.5 356.1L517.4 355.5L517.4 354.9L517.4 354.3L517.4 353.6L517.4 352.8L517.5 351.8L517.6 350.7L517.7 349.5L517.8 348.3L518.0 347.3L518.2 346.4L518.5 345.7Z" fill="url(#csgD)"/><path d="M556.4 320.6L556.2 322.7L555.9 325.0L555.5 327.5L554.9 330.0L554.2 332.4L553.2 334.7L552.1 336.7L550.7 338.7L549.2 340.6L547.5 342.4L545.8 344.1L544.0 345.7L542.1 347.2L540.1 348.6L538.0 349.9L535.8 351.0L533.6 352.0L531.3 352.8L529.0 353.4L526.6 353.8L524.0 354.1L521.5 354.3L519.0 354.2L516.6 353.9L514.3 353.4L511.9 352.6L509.6 351.6L507.3 350.5L505.2 349.2L503.2 347.9L501.4 346.4L499.6 344.7L498.0 342.9L496.5 341.0L495.1 339.0L493.8 337.0L492.6 334.9L491.4 332.7L490.4 330.5L489.5 328.2L488.9 325.9L488.4 323.5L488.2 321.1L488.1 318.7L488.3 316.1L488.6 313.6L489.1 311.2L489.9 308.9L490.8 306.6L492.0 304.4L493.4 302.3L494.9 300.3L496.6 298.4L498.3 296.7L500.2 295.1L502.2 293.7L504.3 292.4L506.5 291.2L508.8 290.2L511.0 289.3L513.4 288.5L515.8 287.9L518.2 287.4L520.7 287.0L523.2 286.9L525.6 286.9L528.0 287.2L530.5 287.7L532.9 288.3L535.3 289.2L537.6 290.2L539.8 291.3L541.8 292.7L543.7 294.3L545.6 296.0L547.3 297.9L548.9 299.7L550.3 301.5L551.5 303.3L552.5 305.0L553.4 306.8L554.1 308.6L554.7 310.3L555.2 312.0L555.7 313.5L556.1 314.8L556.3 316.1L556.5 317.4L556.5 318.9Z" fill="url(#cbody)"/><path d="M556.4 320.6L556.2 322.7L555.9 325.0L555.5 327.5L554.9 330.0L554.2 332.4L553.2 334.7L552.1 336.7L550.7 338.7L549.2 340.6L547.5 342.4L545.8 344.1L544.0 345.7L542.1 347.2L540.1 348.6L538.0 349.9L535.8 351.0L533.6 352.0L531.3 352.8L529.0 353.4L526.6 353.8L524.0 354.1L521.5 354.3L519.0 354.2L516.6 353.9L514.3 353.4L511.9 352.6L509.6 351.6L507.3 350.5L505.2 349.2L503.2 347.9L501.4 346.4L499.6 344.7L498.0 342.9L496.5 341.0L495.1 339.0L493.8 337.0L492.6 334.9L491.4 332.7L490.4 330.5L489.5 328.2L488.9 325.9L488.4 323.5L488.2 321.1L488.1 318.7L488.3 316.1L488.6 313.6L489.1 311.2L489.9 308.9L490.8 306.6L492.0 304.4L493.4 302.3L494.9 300.3L496.6 298.4L498.3 296.7L500.2 295.1L502.2 293.7L504.3 292.4L506.5 291.2L508.8 290.2L511.0 289.3L513.4 288.5L515.8 287.9L518.2 287.4L520.7 287.0L523.2 286.9L525.6 286.9L528.0 287.2L530.5 287.7L532.9 288.3L535.3 289.2L537.6 290.2L539.8 291.3L541.8 292.7L543.7 294.3L545.6 296.0L547.3 297.9L548.9 299.7L550.3 301.5L551.5 303.3L552.5 305.0L553.4 306.8L554.1 308.6L554.7 310.3L555.2 312.0L555.7 313.5L556.1 314.8L556.3 316.1L556.5 317.4L556.5 318.9Z" fill="url(#cshadeR)"/><path d="M556.4 320.6L556.2 322.7L555.9 325.0L555.5 327.5L554.9 330.0L554.2 332.4L553.2 334.7L552.1 336.7L550.7 338.7L549.2 340.6L547.5 342.4L545.8 344.1L544.0 345.7L542.1 347.2L540.1 348.6L538.0 349.9L535.8 351.0L533.6 352.0L531.3 352.8L529.0 353.4L526.6 353.8L524.0 354.1L521.5 354.3L519.0 354.2L516.6 353.9L514.3 353.4L511.9 352.6L509.6 351.6L507.3 350.5L505.2 349.2L503.2 347.9L501.4 346.4L499.6 344.7L498.0 342.9L496.5 341.0L495.1 339.0L493.8 337.0L492.6 334.9L491.4 332.7L490.4 330.5L489.5 328.2L488.9 325.9L488.4 323.5L488.2 321.1L488.1 318.7L488.3 316.1L488.6 313.6L489.1 311.2L489.9 308.9L490.8 306.6L492.0 304.4L493.4 302.3L494.9 300.3L496.6 298.4L498.3 296.7L500.2 295.1L502.2 293.7L504.3 292.4L506.5 291.2L508.8 290.2L511.0 289.3L513.4 288.5L515.8 287.9L518.2 287.4L520.7 287.0L523.2 286.9L525.6 286.9L528.0 287.2L530.5 287.7L532.9 288.3L535.3 289.2L537.6 290.2L539.8 291.3L541.8 292.7L543.7 294.3L545.6 296.0L547.3 297.9L548.9 299.7L550.3 301.5L551.5 303.3L552.5 305.0L553.4 306.8L554.1 308.6L554.7 310.3L555.2 312.0L555.7 313.5L556.1 314.8L556.3 316.1L556.5 317.4L556.5 318.9Z" fill="url(#cshadeL)"/><path d="M512.4 312.3L511.4 312.0L510.3 311.5L509.0 310.8L507.5 309.9L506.1 309.0L504.7 308.1L503.3 307.3L502.1 306.5L500.9 305.9L499.8 305.4L498.7 304.9L497.7 304.5L496.7 304.1L495.9 303.9L495.3 303.7L494.7 303.5L493.7 303.3L492.6 303.6L491.8 304.4L491.6 305.4L491.9 306.5L492.7 307.3L493.1 307.7L493.7 308.1L494.3 308.6L495.1 309.2L495.8 309.8L496.6 310.4L497.4 311.1L498.1 311.9L499.0 312.7L499.9 313.8L501.0 315.0L502.1 316.2L503.1 317.5L503.9 318.7L504.6 319.8L505.0 320.7Z" fill="url(#cfs0)"/><path d="M541.1 328.1L540.9 327.1L540.6 325.8L540.4 324.3L540.2 322.8L540.0 321.2L539.9 319.9L539.9 318.9L539.9 318.4L539.8 318.2L539.8 318.1L539.7 318.1L539.6 318.0L539.5 318.0L539.7 317.8L540.0 317.7L540.4 317.5L541.0 317.4L541.8 317.4L542.9 317.4L544.2 317.6L545.4 317.7L546.6 317.9L547.7 318.0L548.5 318.1L550.1 317.9L551.4 317.0L552.1 315.5L551.9 313.9L551.0 312.6L549.5 311.9L548.9 311.7L547.9 311.4L546.7 311.1L545.4 310.8L543.9 310.5L542.5 310.2L541.0 310.1L539.6 310.1L538.4 310.3L537.3 310.5L536.1 310.8L534.9 311.4L533.8 312.3L532.8 313.3L532.0 314.6L531.3 316.0L530.9 317.7L530.6 319.5L530.5 321.3L530.4 323.1L530.3 324.8L530.2 326.3L530.1 327.5L529.9 328.3Z" fill="url(#cfs1)"/><path d="M512.9 339.3L513.6 340.0L514.5 341.1L515.4 342.3L516.4 343.7L517.5 345.2L518.5 346.7L519.4 348.2L520.2 349.5L521.0 350.7L521.8 352.0L522.6 353.3L523.4 354.6L524.1 355.9L524.8 357.0L525.4 357.9L525.9 358.5L526.9 359.7L528.4 360.2L529.9 359.9L531.1 358.9L531.6 357.4L531.3 355.9L531.1 355.1L530.7 354.1L530.3 352.9L529.7 351.5L529.2 350.1L528.6 348.6L527.9 347.2L527.4 345.7L526.7 344.3L526.0 342.6L525.3 341.0L524.6 339.3L523.9 337.6L523.3 336.2L522.9 334.9L522.7 333.9Z" fill="url(#cfs2)"/><path d="M512.3 310.7L511.4 310.4L510.3 309.9L509.0 309.1L507.6 308.2L506.1 307.3L504.7 306.4L503.4 305.5L502.2 304.8L501.0 304.2L499.9 303.7L498.8 303.2L497.8 302.7L496.9 302.4L496.1 302.1L495.5 301.9L494.9 301.7L494.0 301.5L493.0 301.8L492.3 302.5L492.1 303.4L492.4 304.4L493.1 305.1L493.5 305.5L494.1 305.9L494.7 306.4L495.5 306.9L496.3 307.5L497.1 308.2L497.9 308.9L498.6 309.6L499.5 310.4L500.5 311.5L501.6 312.7L502.6 313.9L503.7 315.2L504.5 316.4L505.3 317.4L505.7 318.3Z" fill="url(#cff0)"/><path d="M542.5 326.9L542.4 325.9L542.1 324.6L541.9 323.1L541.7 321.6L541.6 320.0L541.5 318.7L541.5 317.6L541.5 317.1L541.5 316.8L541.5 316.7L541.4 316.6L541.4 316.6L541.4 316.5L541.6 316.3L542.0 316.2L542.4 316.0L543.0 315.9L543.8 315.9L545.0 316.0L546.2 316.1L547.5 316.3L548.7 316.5L549.7 316.6L550.5 316.7L552.0 316.5L553.2 315.7L553.9 314.3L553.7 312.8L552.9 311.6L551.5 310.9L550.8 310.7L549.9 310.5L548.7 310.2L547.3 309.9L545.9 309.6L544.4 309.3L543.0 309.2L541.6 309.2L540.4 309.4L539.4 309.6L538.3 309.9L537.1 310.5L536.0 311.3L535.1 312.4L534.3 313.5L533.7 314.9L533.3 316.5L533.0 318.3L532.9 320.1L532.8 321.8L532.8 323.6L532.7 325.1L532.6 326.3L532.5 327.1Z" fill="url(#cff1)"/><path d="M515.6 338.4L516.3 339.2L517.1 340.2L518.0 341.5L519.0 342.9L520.0 344.4L521.0 346.0L521.9 347.4L522.8 348.7L523.5 350.0L524.3 351.3L525.1 352.6L525.9 353.9L526.6 355.1L527.2 356.2L527.8 357.2L528.3 357.8L529.2 358.9L530.6 359.4L532.0 359.1L533.1 358.2L533.6 356.8L533.3 355.4L533.1 354.6L532.7 353.6L532.2 352.4L531.7 351.1L531.1 349.6L530.5 348.2L529.9 346.7L529.2 345.3L528.6 343.8L527.9 342.2L527.1 340.5L526.4 338.9L525.7 337.3L525.1 335.8L524.7 334.5L524.4 333.6Z" fill="url(#cff2)"/></g>
<g transform="translate(785.19 288.88) scale(0.2760 0.268)"><path d="M525.9 294.6L525.4 293.5L524.9 292.1L524.6 290.4L524.2 288.6L523.9 286.7L523.7 284.9L523.5 283.1L523.3 281.7L523.2 280.3L523.2 279.0L523.2 277.7L523.2 276.4L523.2 275.2L523.3 274.0L523.4 272.8L523.4 271.8L523.5 270.8L523.7 269.8L523.8 268.8L524.0 267.9L524.1 267.0L524.2 266.3L524.3 265.6L524.2 265.0L524.3 264.4L524.1 263.9L523.6 263.6L523.0 263.5L522.5 263.7L522.2 264.2L521.8 264.6L521.3 265.1L520.8 265.7L520.3 266.4L519.8 267.3L519.2 268.2L518.7 269.2L518.2 270.2L517.6 271.3L517.1 272.4L516.6 273.5L516.1 274.8L515.5 276.1L515.0 277.4L514.4 278.8L513.9 280.3L513.3 282.0L512.7 283.8L512.2 285.7L511.6 287.7L511.0 289.5L510.4 291.1L509.8 292.4L509.1 293.4Z" fill="url(#csgTop)"/><path d="M511.1 295.9L510.4 295.4L509.7 294.8L508.9 293.9L508.1 292.9L507.3 291.8L506.5 290.6L505.7 289.5L505.0 288.4L504.3 287.2L503.5 285.9L502.7 284.6L501.9 283.3L501.1 282.0L500.4 280.9L499.8 280.0L499.3 279.3L498.8 278.7L498.0 278.4L497.2 278.6L496.6 279.1L496.3 279.9L496.5 280.7L496.7 281.5L497.1 282.5L497.6 283.8L498.1 285.1L498.7 286.6L499.3 288.0L499.8 289.4L500.2 290.6L500.6 291.9L500.9 293.2L501.3 294.5L501.6 295.8L501.8 297.1L502.0 298.2L502.0 299.3L501.9 300.1Z" fill="url(#csgL)"/><path d="M547.9 297.4L547.6 296.7L547.4 295.8L547.3 294.8L547.3 293.7L547.3 292.6L547.3 291.6L547.4 290.6L547.4 289.8L547.5 289.1L547.6 288.4L547.7 287.8L547.8 287.1L547.9 286.5L548.0 286.0L548.0 285.5L548.0 285.1L548.1 284.4L547.9 283.8L547.3 283.4L546.6 283.3L546.0 283.5L545.6 284.1L545.3 284.3L545.0 284.7L544.6 285.1L544.3 285.6L543.9 286.2L543.5 286.8L543.0 287.5L542.6 288.2L542.1 289.0L541.6 289.9L541.1 290.9L540.5 291.8L539.9 292.8L539.3 293.6L538.7 294.2L538.1 294.6Z" fill="url(#csgL)"/><path d="M501.9 312.6L500.9 312.3L499.8 311.8L498.4 311.0L497.0 310.2L495.4 309.2L493.9 308.2L492.3 307.2L490.9 306.4L489.6 305.6L488.3 304.8L487.0 304.0L485.7 303.2L484.3 302.4L482.8 301.7L481.3 301.0L479.6 300.4L477.9 300.0L476.1 299.8L474.3 299.7L472.6 299.6L471.1 299.7L469.7 299.7L468.6 299.8L467.8 299.8L466.5 300.1L465.5 301.0L465.0 302.2L465.3 303.5L466.2 304.5L467.4 305.0L468.3 305.1L469.5 305.3L470.8 305.4L472.3 305.6L473.7 305.8L475.1 306.0L476.4 306.4L477.4 306.8L478.2 307.3L479.2 307.9L480.1 308.7L481.1 309.5L482.1 310.5L483.1 311.5L484.1 312.6L485.1 313.6L486.1 314.7L487.1 316.0L488.2 317.3L489.2 318.6L490.2 320.0L491.0 321.3L491.7 322.4L492.1 323.4Z" fill="url(#csgLt)"/><path d="M552.9 323.1L553.6 322.1L554.6 321.0L555.8 319.8L557.1 318.7L558.6 317.6L560.1 316.6L561.6 315.7L563.0 314.9L564.6 314.3L566.4 313.7L568.5 313.1L570.5 312.6L572.6 312.1L574.4 311.7L575.9 311.3L577.1 310.9L578.0 310.5L578.6 309.7L578.7 308.7L578.3 307.8L577.5 307.2L576.5 307.1L575.3 307.1L573.8 307.1L571.9 307.2L569.8 307.4L567.5 307.5L565.3 307.7L563.1 308.0L561.0 308.3L559.0 308.7L557.0 309.2L555.0 309.7L553.0 310.2L551.2 310.7L549.6 311.0L548.2 311.1L547.1 310.9Z" fill="url(#csgR)"/><path d="M543.1 328.8L544.1 329.1L545.4 329.6L547.0 330.3L548.7 331.2L550.6 332.2L552.5 333.1L554.5 334.0L556.4 334.8L558.3 335.4L560.1 335.8L561.8 336.1L563.4 336.3L564.9 336.5L566.3 336.6L567.6 336.7L569.0 336.9L570.4 337.1L571.8 337.3L573.1 337.4L574.3 337.5L575.3 337.6L576.2 337.8L577.1 338.0L577.8 338.2L578.7 338.7L579.7 339.3L580.8 340.2L581.9 341.1L582.9 342.1L583.9 342.9L584.8 343.7L585.4 344.3L586.9 345.1L588.5 345.0L589.9 344.2L590.7 342.7L590.6 341.1L589.8 339.7L589.2 339.1L588.5 338.3L587.6 337.3L586.5 336.2L585.4 335.0L584.1 333.8L582.8 332.7L581.4 331.8L579.9 331.0L578.4 330.4L577.0 330.0L575.7 329.6L574.5 329.3L573.3 329.0L572.2 328.7L571.0 328.3L569.7 327.8L568.4 327.3L567.0 326.9L565.8 326.4L564.6 326.0L563.5 325.4L562.5 324.8L561.6 324.2L560.6 323.4L559.5 322.4L558.2 321.2L556.9 319.9L555.7 318.6L554.6 317.3L553.6 316.1L552.9 315.2Z" fill="url(#csgLong)"/><path d="M540.5 341.8L541.6 342.0L542.8 342.4L544.1 343.0L545.5 343.8L546.8 344.7L548.1 345.6L549.2 346.4L550.3 347.2L551.3 348.0L552.2 348.9L553.2 349.8L554.2 350.7L555.0 351.6L555.9 352.4L556.6 353.0L557.2 353.5L557.9 354.0L558.8 354.2L559.7 353.8L560.2 353.1L560.4 352.2L560.0 351.3L559.8 350.6L559.4 349.8L558.9 348.8L558.3 347.7L557.7 346.5L557.0 345.2L556.4 344.0L555.7 342.8L555.0 341.5L554.3 340.1L553.6 338.7L552.8 337.3L552.2 335.8L551.7 334.5L551.5 333.2L551.5 332.2Z" fill="url(#csgD)"/><path d="M494.4 326.8L493.8 327.7L492.8 328.7L491.6 329.7L490.1 330.7L488.6 331.8L487.0 332.8L485.4 333.9L483.9 334.9L482.4 336.0L480.8 337.2L479.3 338.4L477.7 339.6L476.3 340.7L475.0 341.8L473.9 342.7L473.2 343.4L472.5 344.1L472.3 345.1L472.6 346.0L473.3 346.7L474.3 346.9L475.2 346.6L476.2 346.2L477.5 345.6L478.9 344.9L480.6 344.0L482.2 343.2L484.0 342.4L485.6 341.6L487.1 341.1L488.6 340.6L490.3 340.1L492.0 339.7L493.8 339.4L495.5 339.2L497.0 339.0L498.4 339.0L499.6 339.2Z" fill="url(#csgLL)"/><path d="M513.1 343.3L513.6 344.6L513.9 346.4L514.2 348.5L514.5 350.9L514.7 353.2L514.9 355.6L515.0 357.7L515.2 359.6L515.3 361.1L515.4 362.5L515.5 363.8L515.6 365.0L515.7 366.2L515.8 367.4L515.9 368.7L516.0 370.0L516.1 371.4L516.3 372.8L516.5 374.2L516.7 375.6L517.0 376.8L517.2 378.0L517.4 378.9L517.5 379.6L518.0 380.8L518.9 381.6L520.2 381.9L521.4 381.4L522.2 380.5L522.5 379.2L522.5 378.5L522.5 377.5L522.6 376.3L522.6 375.1L522.6 373.8L522.6 372.5L522.7 371.2L522.8 370.0L523.0 369.0L523.2 367.9L523.5 366.9L523.8 365.8L524.1 364.6L524.4 363.4L524.8 362.0L525.2 360.4L525.7 358.6L526.2 356.5L526.7 354.2L527.3 351.9L527.9 349.6L528.6 347.6L529.2 345.9L529.9 344.7Z" fill="url(#csgBot)"/><path d="M509.5 346.3L509.9 346.9L510.2 347.7L510.5 348.8L510.8 349.9L511.0 351.1L511.3 352.3L511.6 353.4L511.8 354.4L512.1 355.3L512.4 356.1L512.7 356.8L513.0 357.5L513.3 358.0L513.5 358.5L513.8 358.9L514.0 359.1L514.5 360.0L515.3 360.4L516.3 360.4L517.2 359.9L517.6 359.1L517.6 358.1L517.6 357.7L517.6 357.2L517.6 356.7L517.5 356.1L517.4 355.5L517.4 354.9L517.4 354.3L517.4 353.6L517.4 352.8L517.5 351.8L517.6 350.7L517.7 349.5L517.8 348.3L518.0 347.3L518.2 346.4L518.5 345.7Z" fill="url(#csgD)"/><path d="M556.4 320.6L556.2 322.7L555.9 325.0L555.5 327.5L554.9 330.0L554.2 332.4L553.2 334.7L552.1 336.7L550.7 338.7L549.2 340.6L547.5 342.4L545.8 344.1L544.0 345.7L542.1 347.2L540.1 348.6L538.0 349.9L535.8 351.0L533.6 352.0L531.3 352.8L529.0 353.4L526.6 353.8L524.0 354.1L521.5 354.3L519.0 354.2L516.6 353.9L514.3 353.4L511.9 352.6L509.6 351.6L507.3 350.5L505.2 349.2L503.2 347.9L501.4 346.4L499.6 344.7L498.0 342.9L496.5 341.0L495.1 339.0L493.8 337.0L492.6 334.9L491.4 332.7L490.4 330.5L489.5 328.2L488.9 325.9L488.4 323.5L488.2 321.1L488.1 318.7L488.3 316.1L488.6 313.6L489.1 311.2L489.9 308.9L490.8 306.6L492.0 304.4L493.4 302.3L494.9 300.3L496.6 298.4L498.3 296.7L500.2 295.1L502.2 293.7L504.3 292.4L506.5 291.2L508.8 290.2L511.0 289.3L513.4 288.5L515.8 287.9L518.2 287.4L520.7 287.0L523.2 286.9L525.6 286.9L528.0 287.2L530.5 287.7L532.9 288.3L535.3 289.2L537.6 290.2L539.8 291.3L541.8 292.7L543.7 294.3L545.6 296.0L547.3 297.9L548.9 299.7L550.3 301.5L551.5 303.3L552.5 305.0L553.4 306.8L554.1 308.6L554.7 310.3L555.2 312.0L555.7 313.5L556.1 314.8L556.3 316.1L556.5 317.4L556.5 318.9Z" fill="url(#cbody)"/><path d="M556.4 320.6L556.2 322.7L555.9 325.0L555.5 327.5L554.9 330.0L554.2 332.4L553.2 334.7L552.1 336.7L550.7 338.7L549.2 340.6L547.5 342.4L545.8 344.1L544.0 345.7L542.1 347.2L540.1 348.6L538.0 349.9L535.8 351.0L533.6 352.0L531.3 352.8L529.0 353.4L526.6 353.8L524.0 354.1L521.5 354.3L519.0 354.2L516.6 353.9L514.3 353.4L511.9 352.6L509.6 351.6L507.3 350.5L505.2 349.2L503.2 347.9L501.4 346.4L499.6 344.7L498.0 342.9L496.5 341.0L495.1 339.0L493.8 337.0L492.6 334.9L491.4 332.7L490.4 330.5L489.5 328.2L488.9 325.9L488.4 323.5L488.2 321.1L488.1 318.7L488.3 316.1L488.6 313.6L489.1 311.2L489.9 308.9L490.8 306.6L492.0 304.4L493.4 302.3L494.9 300.3L496.6 298.4L498.3 296.7L500.2 295.1L502.2 293.7L504.3 292.4L506.5 291.2L508.8 290.2L511.0 289.3L513.4 288.5L515.8 287.9L518.2 287.4L520.7 287.0L523.2 286.9L525.6 286.9L528.0 287.2L530.5 287.7L532.9 288.3L535.3 289.2L537.6 290.2L539.8 291.3L541.8 292.7L543.7 294.3L545.6 296.0L547.3 297.9L548.9 299.7L550.3 301.5L551.5 303.3L552.5 305.0L553.4 306.8L554.1 308.6L554.7 310.3L555.2 312.0L555.7 313.5L556.1 314.8L556.3 316.1L556.5 317.4L556.5 318.9Z" fill="url(#cshadeR)"/><path d="M556.4 320.6L556.2 322.7L555.9 325.0L555.5 327.5L554.9 330.0L554.2 332.4L553.2 334.7L552.1 336.7L550.7 338.7L549.2 340.6L547.5 342.4L545.8 344.1L544.0 345.7L542.1 347.2L540.1 348.6L538.0 349.9L535.8 351.0L533.6 352.0L531.3 352.8L529.0 353.4L526.6 353.8L524.0 354.1L521.5 354.3L519.0 354.2L516.6 353.9L514.3 353.4L511.9 352.6L509.6 351.6L507.3 350.5L505.2 349.2L503.2 347.9L501.4 346.4L499.6 344.7L498.0 342.9L496.5 341.0L495.1 339.0L493.8 337.0L492.6 334.9L491.4 332.7L490.4 330.5L489.5 328.2L488.9 325.9L488.4 323.5L488.2 321.1L488.1 318.7L488.3 316.1L488.6 313.6L489.1 311.2L489.9 308.9L490.8 306.6L492.0 304.4L493.4 302.3L494.9 300.3L496.6 298.4L498.3 296.7L500.2 295.1L502.2 293.7L504.3 292.4L506.5 291.2L508.8 290.2L511.0 289.3L513.4 288.5L515.8 287.9L518.2 287.4L520.7 287.0L523.2 286.9L525.6 286.9L528.0 287.2L530.5 287.7L532.9 288.3L535.3 289.2L537.6 290.2L539.8 291.3L541.8 292.7L543.7 294.3L545.6 296.0L547.3 297.9L548.9 299.7L550.3 301.5L551.5 303.3L552.5 305.0L553.4 306.8L554.1 308.6L554.7 310.3L555.2 312.0L555.7 313.5L556.1 314.8L556.3 316.1L556.5 317.4L556.5 318.9Z" fill="url(#cshadeL)"/><path d="M512.4 312.3L511.4 312.0L510.3 311.5L509.0 310.8L507.5 309.9L506.1 309.0L504.7 308.1L503.3 307.3L502.1 306.5L500.9 305.9L499.8 305.4L498.7 304.9L497.7 304.5L496.7 304.1L495.9 303.9L495.3 303.7L494.7 303.5L493.7 303.3L492.6 303.6L491.8 304.4L491.6 305.4L491.9 306.5L492.7 307.3L493.1 307.7L493.7 308.1L494.3 308.6L495.1 309.2L495.8 309.8L496.6 310.4L497.4 311.1L498.1 311.9L499.0 312.7L499.9 313.8L501.0 315.0L502.1 316.2L503.1 317.5L503.9 318.7L504.6 319.8L505.0 320.7Z" fill="url(#cfs0)"/><path d="M541.1 328.1L540.9 327.1L540.6 325.8L540.4 324.3L540.2 322.8L540.0 321.2L539.9 319.9L539.9 318.9L539.9 318.4L539.8 318.2L539.8 318.1L539.7 318.1L539.6 318.0L539.5 318.0L539.7 317.8L540.0 317.7L540.4 317.5L541.0 317.4L541.8 317.4L542.9 317.4L544.2 317.6L545.4 317.7L546.6 317.9L547.7 318.0L548.5 318.1L550.1 317.9L551.4 317.0L552.1 315.5L551.9 313.9L551.0 312.6L549.5 311.9L548.9 311.7L547.9 311.4L546.7 311.1L545.4 310.8L543.9 310.5L542.5 310.2L541.0 310.1L539.6 310.1L538.4 310.3L537.3 310.5L536.1 310.8L534.9 311.4L533.8 312.3L532.8 313.3L532.0 314.6L531.3 316.0L530.9 317.7L530.6 319.5L530.5 321.3L530.4 323.1L530.3 324.8L530.2 326.3L530.1 327.5L529.9 328.3Z" fill="url(#cfs1)"/><path d="M512.9 339.3L513.6 340.0L514.5 341.1L515.4 342.3L516.4 343.7L517.5 345.2L518.5 346.7L519.4 348.2L520.2 349.5L521.0 350.7L521.8 352.0L522.6 353.3L523.4 354.6L524.1 355.9L524.8 357.0L525.4 357.9L525.9 358.5L526.9 359.7L528.4 360.2L529.9 359.9L531.1 358.9L531.6 357.4L531.3 355.9L531.1 355.1L530.7 354.1L530.3 352.9L529.7 351.5L529.2 350.1L528.6 348.6L527.9 347.2L527.4 345.7L526.7 344.3L526.0 342.6L525.3 341.0L524.6 339.3L523.9 337.6L523.3 336.2L522.9 334.9L522.7 333.9Z" fill="url(#cfs2)"/><path d="M512.3 310.7L511.4 310.4L510.3 309.9L509.0 309.1L507.6 308.2L506.1 307.3L504.7 306.4L503.4 305.5L502.2 304.8L501.0 304.2L499.9 303.7L498.8 303.2L497.8 302.7L496.9 302.4L496.1 302.1L495.5 301.9L494.9 301.7L494.0 301.5L493.0 301.8L492.3 302.5L492.1 303.4L492.4 304.4L493.1 305.1L493.5 305.5L494.1 305.9L494.7 306.4L495.5 306.9L496.3 307.5L497.1 308.2L497.9 308.9L498.6 309.6L499.5 310.4L500.5 311.5L501.6 312.7L502.6 313.9L503.7 315.2L504.5 316.4L505.3 317.4L505.7 318.3Z" fill="url(#cff0)"/><path d="M542.5 326.9L542.4 325.9L542.1 324.6L541.9 323.1L541.7 321.6L541.6 320.0L541.5 318.7L541.5 317.6L541.5 317.1L541.5 316.8L541.5 316.7L541.4 316.6L541.4 316.6L541.4 316.5L541.6 316.3L542.0 316.2L542.4 316.0L543.0 315.9L543.8 315.9L545.0 316.0L546.2 316.1L547.5 316.3L548.7 316.5L549.7 316.6L550.5 316.7L552.0 316.5L553.2 315.7L553.9 314.3L553.7 312.8L552.9 311.6L551.5 310.9L550.8 310.7L549.9 310.5L548.7 310.2L547.3 309.9L545.9 309.6L544.4 309.3L543.0 309.2L541.6 309.2L540.4 309.4L539.4 309.6L538.3 309.9L537.1 310.5L536.0 311.3L535.1 312.4L534.3 313.5L533.7 314.9L533.3 316.5L533.0 318.3L532.9 320.1L532.8 321.8L532.8 323.6L532.7 325.1L532.6 326.3L532.5 327.1Z" fill="url(#cff1)"/><path d="M515.6 338.4L516.3 339.2L517.1 340.2L518.0 341.5L519.0 342.9L520.0 344.4L521.0 346.0L521.9 347.4L522.8 348.7L523.5 350.0L524.3 351.3L525.1 352.6L525.9 353.9L526.6 355.1L527.2 356.2L527.8 357.2L528.3 357.8L529.2 358.9L530.6 359.4L532.0 359.1L533.1 358.2L533.6 356.8L533.3 355.4L533.1 354.6L532.7 353.6L532.2 352.4L531.7 351.1L531.1 349.6L530.5 348.2L529.9 346.7L529.2 345.3L528.6 343.8L527.9 342.2L527.1 340.5L526.4 338.9L525.7 337.3L525.1 335.8L524.7 334.5L524.4 333.6Z" fill="url(#cff2)"/></g>
<g transform="translate(638.07 229.95) scale(0.4501 0.437)"><path d="M525.9 294.6L525.4 293.5L524.9 292.1L524.6 290.4L524.2 288.6L523.9 286.7L523.7 284.9L523.5 283.1L523.3 281.7L523.2 280.3L523.2 279.0L523.2 277.7L523.2 276.4L523.2 275.2L523.3 274.0L523.4 272.8L523.4 271.8L523.5 270.8L523.7 269.8L523.8 268.8L524.0 267.9L524.1 267.0L524.2 266.3L524.3 265.6L524.2 265.0L524.3 264.4L524.1 263.9L523.6 263.6L523.0 263.5L522.5 263.7L522.2 264.2L521.8 264.6L521.3 265.1L520.8 265.7L520.3 266.4L519.8 267.3L519.2 268.2L518.7 269.2L518.2 270.2L517.6 271.3L517.1 272.4L516.6 273.5L516.1 274.8L515.5 276.1L515.0 277.4L514.4 278.8L513.9 280.3L513.3 282.0L512.7 283.8L512.2 285.7L511.6 287.7L511.0 289.5L510.4 291.1L509.8 292.4L509.1 293.4Z" fill="url(#csgTop)"/><path d="M511.1 295.9L510.4 295.4L509.7 294.8L508.9 293.9L508.1 292.9L507.3 291.8L506.5 290.6L505.7 289.5L505.0 288.4L504.3 287.2L503.5 285.9L502.7 284.6L501.9 283.3L501.1 282.0L500.4 280.9L499.8 280.0L499.3 279.3L498.8 278.7L498.0 278.4L497.2 278.6L496.6 279.1L496.3 279.9L496.5 280.7L496.7 281.5L497.1 282.5L497.6 283.8L498.1 285.1L498.7 286.6L499.3 288.0L499.8 289.4L500.2 290.6L500.6 291.9L500.9 293.2L501.3 294.5L501.6 295.8L501.8 297.1L502.0 298.2L502.0 299.3L501.9 300.1Z" fill="url(#csgL)"/><path d="M547.9 297.4L547.6 296.7L547.4 295.8L547.3 294.8L547.3 293.7L547.3 292.6L547.3 291.6L547.4 290.6L547.4 289.8L547.5 289.1L547.6 288.4L547.7 287.8L547.8 287.1L547.9 286.5L548.0 286.0L548.0 285.5L548.0 285.1L548.1 284.4L547.9 283.8L547.3 283.4L546.6 283.3L546.0 283.5L545.6 284.1L545.3 284.3L545.0 284.7L544.6 285.1L544.3 285.6L543.9 286.2L543.5 286.8L543.0 287.5L542.6 288.2L542.1 289.0L541.6 289.9L541.1 290.9L540.5 291.8L539.9 292.8L539.3 293.6L538.7 294.2L538.1 294.6Z" fill="url(#csgL)"/><path d="M501.9 312.6L500.9 312.3L499.8 311.8L498.4 311.0L497.0 310.2L495.4 309.2L493.9 308.2L492.3 307.2L490.9 306.4L489.6 305.6L488.3 304.8L487.0 304.0L485.7 303.2L484.3 302.4L482.8 301.7L481.3 301.0L479.6 300.4L477.9 300.0L476.1 299.8L474.3 299.7L472.6 299.6L471.1 299.7L469.7 299.7L468.6 299.8L467.8 299.8L466.5 300.1L465.5 301.0L465.0 302.2L465.3 303.5L466.2 304.5L467.4 305.0L468.3 305.1L469.5 305.3L470.8 305.4L472.3 305.6L473.7 305.8L475.1 306.0L476.4 306.4L477.4 306.8L478.2 307.3L479.2 307.9L480.1 308.7L481.1 309.5L482.1 310.5L483.1 311.5L484.1 312.6L485.1 313.6L486.1 314.7L487.1 316.0L488.2 317.3L489.2 318.6L490.2 320.0L491.0 321.3L491.7 322.4L492.1 323.4Z" fill="url(#csgLt)"/><path d="M552.9 323.1L553.6 322.1L554.6 321.0L555.8 319.8L557.1 318.7L558.6 317.6L560.1 316.6L561.6 315.7L563.0 314.9L564.6 314.3L566.4 313.7L568.5 313.1L570.5 312.6L572.6 312.1L574.4 311.7L575.9 311.3L577.1 310.9L578.0 310.5L578.6 309.7L578.7 308.7L578.3 307.8L577.5 307.2L576.5 307.1L575.3 307.1L573.8 307.1L571.9 307.2L569.8 307.4L567.5 307.5L565.3 307.7L563.1 308.0L561.0 308.3L559.0 308.7L557.0 309.2L555.0 309.7L553.0 310.2L551.2 310.7L549.6 311.0L548.2 311.1L547.1 310.9Z" fill="url(#csgR)"/><path d="M543.1 328.8L544.1 329.1L545.4 329.6L547.0 330.3L548.7 331.2L550.6 332.2L552.5 333.1L554.5 334.0L556.4 334.8L558.3 335.4L560.1 335.8L561.8 336.1L563.4 336.3L564.9 336.5L566.3 336.6L567.6 336.7L569.0 336.9L570.4 337.1L571.8 337.3L573.1 337.4L574.3 337.5L575.3 337.6L576.2 337.8L577.1 338.0L577.8 338.2L578.7 338.7L579.7 339.3L580.8 340.2L581.9 341.1L582.9 342.1L583.9 342.9L584.8 343.7L585.4 344.3L586.9 345.1L588.5 345.0L589.9 344.2L590.7 342.7L590.6 341.1L589.8 339.7L589.2 339.1L588.5 338.3L587.6 337.3L586.5 336.2L585.4 335.0L584.1 333.8L582.8 332.7L581.4 331.8L579.9 331.0L578.4 330.4L577.0 330.0L575.7 329.6L574.5 329.3L573.3 329.0L572.2 328.7L571.0 328.3L569.7 327.8L568.4 327.3L567.0 326.9L565.8 326.4L564.6 326.0L563.5 325.4L562.5 324.8L561.6 324.2L560.6 323.4L559.5 322.4L558.2 321.2L556.9 319.9L555.7 318.6L554.6 317.3L553.6 316.1L552.9 315.2Z" fill="url(#csgLong)"/><path d="M540.5 341.8L541.6 342.0L542.8 342.4L544.1 343.0L545.5 343.8L546.8 344.7L548.1 345.6L549.2 346.4L550.3 347.2L551.3 348.0L552.2 348.9L553.2 349.8L554.2 350.7L555.0 351.6L555.9 352.4L556.6 353.0L557.2 353.5L557.9 354.0L558.8 354.2L559.7 353.8L560.2 353.1L560.4 352.2L560.0 351.3L559.8 350.6L559.4 349.8L558.9 348.8L558.3 347.7L557.7 346.5L557.0 345.2L556.4 344.0L555.7 342.8L555.0 341.5L554.3 340.1L553.6 338.7L552.8 337.3L552.2 335.8L551.7 334.5L551.5 333.2L551.5 332.2Z" fill="url(#csgD)"/><path d="M494.4 326.8L493.8 327.7L492.8 328.7L491.6 329.7L490.1 330.7L488.6 331.8L487.0 332.8L485.4 333.9L483.9 334.9L482.4 336.0L480.8 337.2L479.3 338.4L477.7 339.6L476.3 340.7L475.0 341.8L473.9 342.7L473.2 343.4L472.5 344.1L472.3 345.1L472.6 346.0L473.3 346.7L474.3 346.9L475.2 346.6L476.2 346.2L477.5 345.6L478.9 344.9L480.6 344.0L482.2 343.2L484.0 342.4L485.6 341.6L487.1 341.1L488.6 340.6L490.3 340.1L492.0 339.7L493.8 339.4L495.5 339.2L497.0 339.0L498.4 339.0L499.6 339.2Z" fill="url(#csgLL)"/><path d="M513.1 343.3L513.6 344.6L513.9 346.4L514.2 348.5L514.5 350.9L514.7 353.2L514.9 355.6L515.0 357.7L515.2 359.6L515.3 361.1L515.4 362.5L515.5 363.8L515.6 365.0L515.7 366.2L515.8 367.4L515.9 368.7L516.0 370.0L516.1 371.4L516.3 372.8L516.5 374.2L516.7 375.6L517.0 376.8L517.2 378.0L517.4 378.9L517.5 379.6L518.0 380.8L518.9 381.6L520.2 381.9L521.4 381.4L522.2 380.5L522.5 379.2L522.5 378.5L522.5 377.5L522.6 376.3L522.6 375.1L522.6 373.8L522.6 372.5L522.7 371.2L522.8 370.0L523.0 369.0L523.2 367.9L523.5 366.9L523.8 365.8L524.1 364.6L524.4 363.4L524.8 362.0L525.2 360.4L525.7 358.6L526.2 356.5L526.7 354.2L527.3 351.9L527.9 349.6L528.6 347.6L529.2 345.9L529.9 344.7Z" fill="url(#csgBot)"/><path d="M509.5 346.3L509.9 346.9L510.2 347.7L510.5 348.8L510.8 349.9L511.0 351.1L511.3 352.3L511.6 353.4L511.8 354.4L512.1 355.3L512.4 356.1L512.7 356.8L513.0 357.5L513.3 358.0L513.5 358.5L513.8 358.9L514.0 359.1L514.5 360.0L515.3 360.4L516.3 360.4L517.2 359.9L517.6 359.1L517.6 358.1L517.6 357.7L517.6 357.2L517.6 356.7L517.5 356.1L517.4 355.5L517.4 354.9L517.4 354.3L517.4 353.6L517.4 352.8L517.5 351.8L517.6 350.7L517.7 349.5L517.8 348.3L518.0 347.3L518.2 346.4L518.5 345.7Z" fill="url(#csgD)"/><path d="M556.4 320.6L556.2 322.7L555.9 325.0L555.5 327.5L554.9 330.0L554.2 332.4L553.2 334.7L552.1 336.7L550.7 338.7L549.2 340.6L547.5 342.4L545.8 344.1L544.0 345.7L542.1 347.2L540.1 348.6L538.0 349.9L535.8 351.0L533.6 352.0L531.3 352.8L529.0 353.4L526.6 353.8L524.0 354.1L521.5 354.3L519.0 354.2L516.6 353.9L514.3 353.4L511.9 352.6L509.6 351.6L507.3 350.5L505.2 349.2L503.2 347.9L501.4 346.4L499.6 344.7L498.0 342.9L496.5 341.0L495.1 339.0L493.8 337.0L492.6 334.9L491.4 332.7L490.4 330.5L489.5 328.2L488.9 325.9L488.4 323.5L488.2 321.1L488.1 318.7L488.3 316.1L488.6 313.6L489.1 311.2L489.9 308.9L490.8 306.6L492.0 304.4L493.4 302.3L494.9 300.3L496.6 298.4L498.3 296.7L500.2 295.1L502.2 293.7L504.3 292.4L506.5 291.2L508.8 290.2L511.0 289.3L513.4 288.5L515.8 287.9L518.2 287.4L520.7 287.0L523.2 286.9L525.6 286.9L528.0 287.2L530.5 287.7L532.9 288.3L535.3 289.2L537.6 290.2L539.8 291.3L541.8 292.7L543.7 294.3L545.6 296.0L547.3 297.9L548.9 299.7L550.3 301.5L551.5 303.3L552.5 305.0L553.4 306.8L554.1 308.6L554.7 310.3L555.2 312.0L555.7 313.5L556.1 314.8L556.3 316.1L556.5 317.4L556.5 318.9Z" fill="url(#cbody)"/><path d="M556.4 320.6L556.2 322.7L555.9 325.0L555.5 327.5L554.9 330.0L554.2 332.4L553.2 334.7L552.1 336.7L550.7 338.7L549.2 340.6L547.5 342.4L545.8 344.1L544.0 345.7L542.1 347.2L540.1 348.6L538.0 349.9L535.8 351.0L533.6 352.0L531.3 352.8L529.0 353.4L526.6 353.8L524.0 354.1L521.5 354.3L519.0 354.2L516.6 353.9L514.3 353.4L511.9 352.6L509.6 351.6L507.3 350.5L505.2 349.2L503.2 347.9L501.4 346.4L499.6 344.7L498.0 342.9L496.5 341.0L495.1 339.0L493.8 337.0L492.6 334.9L491.4 332.7L490.4 330.5L489.5 328.2L488.9 325.9L488.4 323.5L488.2 321.1L488.1 318.7L488.3 316.1L488.6 313.6L489.1 311.2L489.9 308.9L490.8 306.6L492.0 304.4L493.4 302.3L494.9 300.3L496.6 298.4L498.3 296.7L500.2 295.1L502.2 293.7L504.3 292.4L506.5 291.2L508.8 290.2L511.0 289.3L513.4 288.5L515.8 287.9L518.2 287.4L520.7 287.0L523.2 286.9L525.6 286.9L528.0 287.2L530.5 287.7L532.9 288.3L535.3 289.2L537.6 290.2L539.8 291.3L541.8 292.7L543.7 294.3L545.6 296.0L547.3 297.9L548.9 299.7L550.3 301.5L551.5 303.3L552.5 305.0L553.4 306.8L554.1 308.6L554.7 310.3L555.2 312.0L555.7 313.5L556.1 314.8L556.3 316.1L556.5 317.4L556.5 318.9Z" fill="url(#cshadeR)"/><path d="M556.4 320.6L556.2 322.7L555.9 325.0L555.5 327.5L554.9 330.0L554.2 332.4L553.2 334.7L552.1 336.7L550.7 338.7L549.2 340.6L547.5 342.4L545.8 344.1L544.0 345.7L542.1 347.2L540.1 348.6L538.0 349.9L535.8 351.0L533.6 352.0L531.3 352.8L529.0 353.4L526.6 353.8L524.0 354.1L521.5 354.3L519.0 354.2L516.6 353.9L514.3 353.4L511.9 352.6L509.6 351.6L507.3 350.5L505.2 349.2L503.2 347.9L501.4 346.4L499.6 344.7L498.0 342.9L496.5 341.0L495.1 339.0L493.8 337.0L492.6 334.9L491.4 332.7L490.4 330.5L489.5 328.2L488.9 325.9L488.4 323.5L488.2 321.1L488.1 318.7L488.3 316.1L488.6 313.6L489.1 311.2L489.9 308.9L490.8 306.6L492.0 304.4L493.4 302.3L494.9 300.3L496.6 298.4L498.3 296.7L500.2 295.1L502.2 293.7L504.3 292.4L506.5 291.2L508.8 290.2L511.0 289.3L513.4 288.5L515.8 287.9L518.2 287.4L520.7 287.0L523.2 286.9L525.6 286.9L528.0 287.2L530.5 287.7L532.9 288.3L535.3 289.2L537.6 290.2L539.8 291.3L541.8 292.7L543.7 294.3L545.6 296.0L547.3 297.9L548.9 299.7L550.3 301.5L551.5 303.3L552.5 305.0L553.4 306.8L554.1 308.6L554.7 310.3L555.2 312.0L555.7 313.5L556.1 314.8L556.3 316.1L556.5 317.4L556.5 318.9Z" fill="url(#cshadeL)"/><path d="M512.4 312.3L511.4 312.0L510.3 311.5L509.0 310.8L507.5 309.9L506.1 309.0L504.7 308.1L503.3 307.3L502.1 306.5L500.9 305.9L499.8 305.4L498.7 304.9L497.7 304.5L496.7 304.1L495.9 303.9L495.3 303.7L494.7 303.5L493.7 303.3L492.6 303.6L491.8 304.4L491.6 305.4L491.9 306.5L492.7 307.3L493.1 307.7L493.7 308.1L494.3 308.6L495.1 309.2L495.8 309.8L496.6 310.4L497.4 311.1L498.1 311.9L499.0 312.7L499.9 313.8L501.0 315.0L502.1 316.2L503.1 317.5L503.9 318.7L504.6 319.8L505.0 320.7Z" fill="url(#cfs0)"/><path d="M541.1 328.1L540.9 327.1L540.6 325.8L540.4 324.3L540.2 322.8L540.0 321.2L539.9 319.9L539.9 318.9L539.9 318.4L539.8 318.2L539.8 318.1L539.7 318.1L539.6 318.0L539.5 318.0L539.7 317.8L540.0 317.7L540.4 317.5L541.0 317.4L541.8 317.4L542.9 317.4L544.2 317.6L545.4 317.7L546.6 317.9L547.7 318.0L548.5 318.1L550.1 317.9L551.4 317.0L552.1 315.5L551.9 313.9L551.0 312.6L549.5 311.9L548.9 311.7L547.9 311.4L546.7 311.1L545.4 310.8L543.9 310.5L542.5 310.2L541.0 310.1L539.6 310.1L538.4 310.3L537.3 310.5L536.1 310.8L534.9 311.4L533.8 312.3L532.8 313.3L532.0 314.6L531.3 316.0L530.9 317.7L530.6 319.5L530.5 321.3L530.4 323.1L530.3 324.8L530.2 326.3L530.1 327.5L529.9 328.3Z" fill="url(#cfs1)"/><path d="M512.9 339.3L513.6 340.0L514.5 341.1L515.4 342.3L516.4 343.7L517.5 345.2L518.5 346.7L519.4 348.2L520.2 349.5L521.0 350.7L521.8 352.0L522.6 353.3L523.4 354.6L524.1 355.9L524.8 357.0L525.4 357.9L525.9 358.5L526.9 359.7L528.4 360.2L529.9 359.9L531.1 358.9L531.6 357.4L531.3 355.9L531.1 355.1L530.7 354.1L530.3 352.9L529.7 351.5L529.2 350.1L528.6 348.6L527.9 347.2L527.4 345.7L526.7 344.3L526.0 342.6L525.3 341.0L524.6 339.3L523.9 337.6L523.3 336.2L522.9 334.9L522.7 333.9Z" fill="url(#cfs2)"/><path d="M512.3 310.7L511.4 310.4L510.3 309.9L509.0 309.1L507.6 308.2L506.1 307.3L504.7 306.4L503.4 305.5L502.2 304.8L501.0 304.2L499.9 303.7L498.8 303.2L497.8 302.7L496.9 302.4L496.1 302.1L495.5 301.9L494.9 301.7L494.0 301.5L493.0 301.8L492.3 302.5L492.1 303.4L492.4 304.4L493.1 305.1L493.5 305.5L494.1 305.9L494.7 306.4L495.5 306.9L496.3 307.5L497.1 308.2L497.9 308.9L498.6 309.6L499.5 310.4L500.5 311.5L501.6 312.7L502.6 313.9L503.7 315.2L504.5 316.4L505.3 317.4L505.7 318.3Z" fill="url(#cff0)"/><path d="M542.5 326.9L542.4 325.9L542.1 324.6L541.9 323.1L541.7 321.6L541.6 320.0L541.5 318.7L541.5 317.6L541.5 317.1L541.5 316.8L541.5 316.7L541.4 316.6L541.4 316.6L541.4 316.5L541.6 316.3L542.0 316.2L542.4 316.0L543.0 315.9L543.8 315.9L545.0 316.0L546.2 316.1L547.5 316.3L548.7 316.5L549.7 316.6L550.5 316.7L552.0 316.5L553.2 315.7L553.9 314.3L553.7 312.8L552.9 311.6L551.5 310.9L550.8 310.7L549.9 310.5L548.7 310.2L547.3 309.9L545.9 309.6L544.4 309.3L543.0 309.2L541.6 309.2L540.4 309.4L539.4 309.6L538.3 309.9L537.1 310.5L536.0 311.3L535.1 312.4L534.3 313.5L533.7 314.9L533.3 316.5L533.0 318.3L532.9 320.1L532.8 321.8L532.8 323.6L532.7 325.1L532.6 326.3L532.5 327.1Z" fill="url(#cff1)"/><path d="M515.6 338.4L516.3 339.2L517.1 340.2L518.0 341.5L519.0 342.9L520.0 344.4L521.0 346.0L521.9 347.4L522.8 348.7L523.5 350.0L524.3 351.3L525.1 352.6L525.9 353.9L526.6 355.1L527.2 356.2L527.8 357.2L528.3 357.8L529.2 358.9L530.6 359.4L532.0 359.1L533.1 358.2L533.6 356.8L533.3 355.4L533.1 354.6L532.7 353.6L532.2 352.4L531.7 351.1L531.1 349.6L530.5 348.2L529.9 346.7L529.2 345.3L528.6 343.8L527.9 342.2L527.1 340.5L526.4 338.9L525.7 337.3L525.1 335.8L524.7 334.5L524.4 333.6Z" fill="url(#cff2)"/></g>
<g transform="translate(524.47 135.22) scale(0.6129 0.595)"><path d="M525.9 294.6L525.4 293.5L524.9 292.1L524.6 290.4L524.2 288.6L523.9 286.7L523.7 284.9L523.5 283.1L523.3 281.7L523.2 280.3L523.2 279.0L523.2 277.7L523.2 276.4L523.2 275.2L523.3 274.0L523.4 272.8L523.4 271.8L523.5 270.8L523.7 269.8L523.8 268.8L524.0 267.9L524.1 267.0L524.2 266.3L524.3 265.6L524.2 265.0L524.3 264.4L524.1 263.9L523.6 263.6L523.0 263.5L522.5 263.7L522.2 264.2L521.8 264.6L521.3 265.1L520.8 265.7L520.3 266.4L519.8 267.3L519.2 268.2L518.7 269.2L518.2 270.2L517.6 271.3L517.1 272.4L516.6 273.5L516.1 274.8L515.5 276.1L515.0 277.4L514.4 278.8L513.9 280.3L513.3 282.0L512.7 283.8L512.2 285.7L511.6 287.7L511.0 289.5L510.4 291.1L509.8 292.4L509.1 293.4Z" fill="url(#csgTop)"/><path d="M511.1 295.9L510.4 295.4L509.7 294.8L508.9 293.9L508.1 292.9L507.3 291.8L506.5 290.6L505.7 289.5L505.0 288.4L504.3 287.2L503.5 285.9L502.7 284.6L501.9 283.3L501.1 282.0L500.4 280.9L499.8 280.0L499.3 279.3L498.8 278.7L498.0 278.4L497.2 278.6L496.6 279.1L496.3 279.9L496.5 280.7L496.7 281.5L497.1 282.5L497.6 283.8L498.1 285.1L498.7 286.6L499.3 288.0L499.8 289.4L500.2 290.6L500.6 291.9L500.9 293.2L501.3 294.5L501.6 295.8L501.8 297.1L502.0 298.2L502.0 299.3L501.9 300.1Z" fill="url(#csgL)"/><path d="M547.9 297.4L547.6 296.7L547.4 295.8L547.3 294.8L547.3 293.7L547.3 292.6L547.3 291.6L547.4 290.6L547.4 289.8L547.5 289.1L547.6 288.4L547.7 287.8L547.8 287.1L547.9 286.5L548.0 286.0L548.0 285.5L548.0 285.1L548.1 284.4L547.9 283.8L547.3 283.4L546.6 283.3L546.0 283.5L545.6 284.1L545.3 284.3L545.0 284.7L544.6 285.1L544.3 285.6L543.9 286.2L543.5 286.8L543.0 287.5L542.6 288.2L542.1 289.0L541.6 289.9L541.1 290.9L540.5 291.8L539.9 292.8L539.3 293.6L538.7 294.2L538.1 294.6Z" fill="url(#csgL)"/><path d="M501.9 312.6L500.9 312.3L499.8 311.8L498.4 311.0L497.0 310.2L495.4 309.2L493.9 308.2L492.3 307.2L490.9 306.4L489.6 305.6L488.3 304.8L487.0 304.0L485.7 303.2L484.3 302.4L482.8 301.7L481.3 301.0L479.6 300.4L477.9 300.0L476.1 299.8L474.3 299.7L472.6 299.6L471.1 299.7L469.7 299.7L468.6 299.8L467.8 299.8L466.5 300.1L465.5 301.0L465.0 302.2L465.3 303.5L466.2 304.5L467.4 305.0L468.3 305.1L469.5 305.3L470.8 305.4L472.3 305.6L473.7 305.8L475.1 306.0L476.4 306.4L477.4 306.8L478.2 307.3L479.2 307.9L480.1 308.7L481.1 309.5L482.1 310.5L483.1 311.5L484.1 312.6L485.1 313.6L486.1 314.7L487.1 316.0L488.2 317.3L489.2 318.6L490.2 320.0L491.0 321.3L491.7 322.4L492.1 323.4Z" fill="url(#csgLt)"/><path d="M552.9 323.1L553.6 322.1L554.6 321.0L555.8 319.8L557.1 318.7L558.6 317.6L560.1 316.6L561.6 315.7L563.0 314.9L564.6 314.3L566.4 313.7L568.5 313.1L570.5 312.6L572.6 312.1L574.4 311.7L575.9 311.3L577.1 310.9L578.0 310.5L578.6 309.7L578.7 308.7L578.3 307.8L577.5 307.2L576.5 307.1L575.3 307.1L573.8 307.1L571.9 307.2L569.8 307.4L567.5 307.5L565.3 307.7L563.1 308.0L561.0 308.3L559.0 308.7L557.0 309.2L555.0 309.7L553.0 310.2L551.2 310.7L549.6 311.0L548.2 311.1L547.1 310.9Z" fill="url(#csgR)"/><path d="M543.1 328.8L544.1 329.1L545.4 329.6L547.0 330.3L548.7 331.2L550.6 332.2L552.5 333.1L554.5 334.0L556.4 334.8L558.3 335.4L560.1 335.8L561.8 336.1L563.4 336.3L564.9 336.5L566.3 336.6L567.6 336.7L569.0 336.9L570.4 337.1L571.8 337.3L573.1 337.4L574.3 337.5L575.3 337.6L576.2 337.8L577.1 338.0L577.8 338.2L578.7 338.7L579.7 339.3L580.8 340.2L581.9 341.1L582.9 342.1L583.9 342.9L584.8 343.7L585.4 344.3L586.9 345.1L588.5 345.0L589.9 344.2L590.7 342.7L590.6 341.1L589.8 339.7L589.2 339.1L588.5 338.3L587.6 337.3L586.5 336.2L585.4 335.0L584.1 333.8L582.8 332.7L581.4 331.8L579.9 331.0L578.4 330.4L577.0 330.0L575.7 329.6L574.5 329.3L573.3 329.0L572.2 328.7L571.0 328.3L569.7 327.8L568.4 327.3L567.0 326.9L565.8 326.4L564.6 326.0L563.5 325.4L562.5 324.8L561.6 324.2L560.6 323.4L559.5 322.4L558.2 321.2L556.9 319.9L555.7 318.6L554.6 317.3L553.6 316.1L552.9 315.2Z" fill="url(#csgLong)"/><path d="M540.5 341.8L541.6 342.0L542.8 342.4L544.1 343.0L545.5 343.8L546.8 344.7L548.1 345.6L549.2 346.4L550.3 347.2L551.3 348.0L552.2 348.9L553.2 349.8L554.2 350.7L555.0 351.6L555.9 352.4L556.6 353.0L557.2 353.5L557.9 354.0L558.8 354.2L559.7 353.8L560.2 353.1L560.4 352.2L560.0 351.3L559.8 350.6L559.4 349.8L558.9 348.8L558.3 347.7L557.7 346.5L557.0 345.2L556.4 344.0L555.7 342.8L555.0 341.5L554.3 340.1L553.6 338.7L552.8 337.3L552.2 335.8L551.7 334.5L551.5 333.2L551.5 332.2Z" fill="url(#csgD)"/><path d="M494.4 326.8L493.8 327.7L492.8 328.7L491.6 329.7L490.1 330.7L488.6 331.8L487.0 332.8L485.4 333.9L483.9 334.9L482.4 336.0L480.8 337.2L479.3 338.4L477.7 339.6L476.3 340.7L475.0 341.8L473.9 342.7L473.2 343.4L472.5 344.1L472.3 345.1L472.6 346.0L473.3 346.7L474.3 346.9L475.2 346.6L476.2 346.2L477.5 345.6L478.9 344.9L480.6 344.0L482.2 343.2L484.0 342.4L485.6 341.6L487.1 341.1L488.6 340.6L490.3 340.1L492.0 339.7L493.8 339.4L495.5 339.2L497.0 339.0L498.4 339.0L499.6 339.2Z" fill="url(#csgLL)"/><path d="M513.1 343.3L513.6 344.6L513.9 346.4L514.2 348.5L514.5 350.9L514.7 353.2L514.9 355.6L515.0 357.7L515.2 359.6L515.3 361.1L515.4 362.5L515.5 363.8L515.6 365.0L515.7 366.2L515.8 367.4L515.9 368.7L516.0 370.0L516.1 371.4L516.3 372.8L516.5 374.2L516.7 375.6L517.0 376.8L517.2 378.0L517.4 378.9L517.5 379.6L518.0 380.8L518.9 381.6L520.2 381.9L521.4 381.4L522.2 380.5L522.5 379.2L522.5 378.5L522.5 377.5L522.6 376.3L522.6 375.1L522.6 373.8L522.6 372.5L522.7 371.2L522.8 370.0L523.0 369.0L523.2 367.9L523.5 366.9L523.8 365.8L524.1 364.6L524.4 363.4L524.8 362.0L525.2 360.4L525.7 358.6L526.2 356.5L526.7 354.2L527.3 351.9L527.9 349.6L528.6 347.6L529.2 345.9L529.9 344.7Z" fill="url(#csgBot)"/><path d="M509.5 346.3L509.9 346.9L510.2 347.7L510.5 348.8L510.8 349.9L511.0 351.1L511.3 352.3L511.6 353.4L511.8 354.4L512.1 355.3L512.4 356.1L512.7 356.8L513.0 357.5L513.3 358.0L513.5 358.5L513.8 358.9L514.0 359.1L514.5 360.0L515.3 360.4L516.3 360.4L517.2 359.9L517.6 359.1L517.6 358.1L517.6 357.7L517.6 357.2L517.6 356.7L517.5 356.1L517.4 355.5L517.4 354.9L517.4 354.3L517.4 353.6L517.4 352.8L517.5 351.8L517.6 350.7L517.7 349.5L517.8 348.3L518.0 347.3L518.2 346.4L518.5 345.7Z" fill="url(#csgD)"/><path d="M556.4 320.6L556.2 322.7L555.9 325.0L555.5 327.5L554.9 330.0L554.2 332.4L553.2 334.7L552.1 336.7L550.7 338.7L549.2 340.6L547.5 342.4L545.8 344.1L544.0 345.7L542.1 347.2L540.1 348.6L538.0 349.9L535.8 351.0L533.6 352.0L531.3 352.8L529.0 353.4L526.6 353.8L524.0 354.1L521.5 354.3L519.0 354.2L516.6 353.9L514.3 353.4L511.9 352.6L509.6 351.6L507.3 350.5L505.2 349.2L503.2 347.9L501.4 346.4L499.6 344.7L498.0 342.9L496.5 341.0L495.1 339.0L493.8 337.0L492.6 334.9L491.4 332.7L490.4 330.5L489.5 328.2L488.9 325.9L488.4 323.5L488.2 321.1L488.1 318.7L488.3 316.1L488.6 313.6L489.1 311.2L489.9 308.9L490.8 306.6L492.0 304.4L493.4 302.3L494.9 300.3L496.6 298.4L498.3 296.7L500.2 295.1L502.2 293.7L504.3 292.4L506.5 291.2L508.8 290.2L511.0 289.3L513.4 288.5L515.8 287.9L518.2 287.4L520.7 287.0L523.2 286.9L525.6 286.9L528.0 287.2L530.5 287.7L532.9 288.3L535.3 289.2L537.6 290.2L539.8 291.3L541.8 292.7L543.7 294.3L545.6 296.0L547.3 297.9L548.9 299.7L550.3 301.5L551.5 303.3L552.5 305.0L553.4 306.8L554.1 308.6L554.7 310.3L555.2 312.0L555.7 313.5L556.1 314.8L556.3 316.1L556.5 317.4L556.5 318.9Z" fill="url(#cbody)"/><path d="M556.4 320.6L556.2 322.7L555.9 325.0L555.5 327.5L554.9 330.0L554.2 332.4L553.2 334.7L552.1 336.7L550.7 338.7L549.2 340.6L547.5 342.4L545.8 344.1L544.0 345.7L542.1 347.2L540.1 348.6L538.0 349.9L535.8 351.0L533.6 352.0L531.3 352.8L529.0 353.4L526.6 353.8L524.0 354.1L521.5 354.3L519.0 354.2L516.6 353.9L514.3 353.4L511.9 352.6L509.6 351.6L507.3 350.5L505.2 349.2L503.2 347.9L501.4 346.4L499.6 344.7L498.0 342.9L496.5 341.0L495.1 339.0L493.8 337.0L492.6 334.9L491.4 332.7L490.4 330.5L489.5 328.2L488.9 325.9L488.4 323.5L488.2 321.1L488.1 318.7L488.3 316.1L488.6 313.6L489.1 311.2L489.9 308.9L490.8 306.6L492.0 304.4L493.4 302.3L494.9 300.3L496.6 298.4L498.3 296.7L500.2 295.1L502.2 293.7L504.3 292.4L506.5 291.2L508.8 290.2L511.0 289.3L513.4 288.5L515.8 287.9L518.2 287.4L520.7 287.0L523.2 286.9L525.6 286.9L528.0 287.2L530.5 287.7L532.9 288.3L535.3 289.2L537.6 290.2L539.8 291.3L541.8 292.7L543.7 294.3L545.6 296.0L547.3 297.9L548.9 299.7L550.3 301.5L551.5 303.3L552.5 305.0L553.4 306.8L554.1 308.6L554.7 310.3L555.2 312.0L555.7 313.5L556.1 314.8L556.3 316.1L556.5 317.4L556.5 318.9Z" fill="url(#cshadeR)"/><path d="M556.4 320.6L556.2 322.7L555.9 325.0L555.5 327.5L554.9 330.0L554.2 332.4L553.2 334.7L552.1 336.7L550.7 338.7L549.2 340.6L547.5 342.4L545.8 344.1L544.0 345.7L542.1 347.2L540.1 348.6L538.0 349.9L535.8 351.0L533.6 352.0L531.3 352.8L529.0 353.4L526.6 353.8L524.0 354.1L521.5 354.3L519.0 354.2L516.6 353.9L514.3 353.4L511.9 352.6L509.6 351.6L507.3 350.5L505.2 349.2L503.2 347.9L501.4 346.4L499.6 344.7L498.0 342.9L496.5 341.0L495.1 339.0L493.8 337.0L492.6 334.9L491.4 332.7L490.4 330.5L489.5 328.2L488.9 325.9L488.4 323.5L488.2 321.1L488.1 318.7L488.3 316.1L488.6 313.6L489.1 311.2L489.9 308.9L490.8 306.6L492.0 304.4L493.4 302.3L494.9 300.3L496.6 298.4L498.3 296.7L500.2 295.1L502.2 293.7L504.3 292.4L506.5 291.2L508.8 290.2L511.0 289.3L513.4 288.5L515.8 287.9L518.2 287.4L520.7 287.0L523.2 286.9L525.6 286.9L528.0 287.2L530.5 287.7L532.9 288.3L535.3 289.2L537.6 290.2L539.8 291.3L541.8 292.7L543.7 294.3L545.6 296.0L547.3 297.9L548.9 299.7L550.3 301.5L551.5 303.3L552.5 305.0L553.4 306.8L554.1 308.6L554.7 310.3L555.2 312.0L555.7 313.5L556.1 314.8L556.3 316.1L556.5 317.4L556.5 318.9Z" fill="url(#cshadeL)"/><path d="M512.4 312.3L511.4 312.0L510.3 311.5L509.0 310.8L507.5 309.9L506.1 309.0L504.7 308.1L503.3 307.3L502.1 306.5L500.9 305.9L499.8 305.4L498.7 304.9L497.7 304.5L496.7 304.1L495.9 303.9L495.3 303.7L494.7 303.5L493.7 303.3L492.6 303.6L491.8 304.4L491.6 305.4L491.9 306.5L492.7 307.3L493.1 307.7L493.7 308.1L494.3 308.6L495.1 309.2L495.8 309.8L496.6 310.4L497.4 311.1L498.1 311.9L499.0 312.7L499.9 313.8L501.0 315.0L502.1 316.2L503.1 317.5L503.9 318.7L504.6 319.8L505.0 320.7Z" fill="url(#cfs0)"/><path d="M541.1 328.1L540.9 327.1L540.6 325.8L540.4 324.3L540.2 322.8L540.0 321.2L539.9 319.9L539.9 318.9L539.9 318.4L539.8 318.2L539.8 318.1L539.7 318.1L539.6 318.0L539.5 318.0L539.7 317.8L540.0 317.7L540.4 317.5L541.0 317.4L541.8 317.4L542.9 317.4L544.2 317.6L545.4 317.7L546.6 317.9L547.7 318.0L548.5 318.1L550.1 317.9L551.4 317.0L552.1 315.5L551.9 313.9L551.0 312.6L549.5 311.9L548.9 311.7L547.9 311.4L546.7 311.1L545.4 310.8L543.9 310.5L542.5 310.2L541.0 310.1L539.6 310.1L538.4 310.3L537.3 310.5L536.1 310.8L534.9 311.4L533.8 312.3L532.8 313.3L532.0 314.6L531.3 316.0L530.9 317.7L530.6 319.5L530.5 321.3L530.4 323.1L530.3 324.8L530.2 326.3L530.1 327.5L529.9 328.3Z" fill="url(#cfs1)"/><path d="M512.9 339.3L513.6 340.0L514.5 341.1L515.4 342.3L516.4 343.7L517.5 345.2L518.5 346.7L519.4 348.2L520.2 349.5L521.0 350.7L521.8 352.0L522.6 353.3L523.4 354.6L524.1 355.9L524.8 357.0L525.4 357.9L525.9 358.5L526.9 359.7L528.4 360.2L529.9 359.9L531.1 358.9L531.6 357.4L531.3 355.9L531.1 355.1L530.7 354.1L530.3 352.9L529.7 351.5L529.2 350.1L528.6 348.6L527.9 347.2L527.4 345.7L526.7 344.3L526.0 342.6L525.3 341.0L524.6 339.3L523.9 337.6L523.3 336.2L522.9 334.9L522.7 333.9Z" fill="url(#cfs2)"/><path d="M512.3 310.7L511.4 310.4L510.3 309.9L509.0 309.1L507.6 308.2L506.1 307.3L504.7 306.4L503.4 305.5L502.2 304.8L501.0 304.2L499.9 303.7L498.8 303.2L497.8 302.7L496.9 302.4L496.1 302.1L495.5 301.9L494.9 301.7L494.0 301.5L493.0 301.8L492.3 302.5L492.1 303.4L492.4 304.4L493.1 305.1L493.5 305.5L494.1 305.9L494.7 306.4L495.5 306.9L496.3 307.5L497.1 308.2L497.9 308.9L498.6 309.6L499.5 310.4L500.5 311.5L501.6 312.7L502.6 313.9L503.7 315.2L504.5 316.4L505.3 317.4L505.7 318.3Z" fill="url(#cff0)"/><path d="M542.5 326.9L542.4 325.9L542.1 324.6L541.9 323.1L541.7 321.6L541.6 320.0L541.5 318.7L541.5 317.6L541.5 317.1L541.5 316.8L541.5 316.7L541.4 316.6L541.4 316.6L541.4 316.5L541.6 316.3L542.0 316.2L542.4 316.0L543.0 315.9L543.8 315.9L545.0 316.0L546.2 316.1L547.5 316.3L548.7 316.5L549.7 316.6L550.5 316.7L552.0 316.5L553.2 315.7L553.9 314.3L553.7 312.8L552.9 311.6L551.5 310.9L550.8 310.7L549.9 310.5L548.7 310.2L547.3 309.9L545.9 309.6L544.4 309.3L543.0 309.2L541.6 309.2L540.4 309.4L539.4 309.6L538.3 309.9L537.1 310.5L536.0 311.3L535.1 312.4L534.3 313.5L533.7 314.9L533.3 316.5L533.0 318.3L532.9 320.1L532.8 321.8L532.8 323.6L532.7 325.1L532.6 326.3L532.5 327.1Z" fill="url(#cff1)"/><path d="M515.6 338.4L516.3 339.2L517.1 340.2L518.0 341.5L519.0 342.9L520.0 344.4L521.0 346.0L521.9 347.4L522.8 348.7L523.5 350.0L524.3 351.3L525.1 352.6L525.9 353.9L526.6 355.1L527.2 356.2L527.8 357.2L528.3 357.8L529.2 358.9L530.6 359.4L532.0 359.1L533.1 358.2L533.6 356.8L533.3 355.4L533.1 354.6L532.7 353.6L532.2 352.4L531.7 351.1L531.1 349.6L530.5 348.2L529.9 346.7L529.2 345.3L528.6 343.8L527.9 342.2L527.1 340.5L526.4 338.9L525.7 337.3L525.1 335.8L524.7 334.5L524.4 333.6Z" fill="url(#cff2)"/></g>
<g transform="translate(591.58 138.90) scale(0.6180 0.6)"><path d="M525.9 294.6L525.4 293.5L524.9 292.1L524.6 290.4L524.2 288.6L523.9 286.7L523.7 284.9L523.5 283.1L523.3 281.7L523.2 280.3L523.2 279.0L523.2 277.7L523.2 276.4L523.2 275.2L523.3 274.0L523.4 272.8L523.4 271.8L523.5 270.8L523.7 269.8L523.8 268.8L524.0 267.9L524.1 267.0L524.2 266.3L524.3 265.6L524.2 265.0L524.3 264.4L524.1 263.9L523.6 263.6L523.0 263.5L522.5 263.7L522.2 264.2L521.8 264.6L521.3 265.1L520.8 265.7L520.3 266.4L519.8 267.3L519.2 268.2L518.7 269.2L518.2 270.2L517.6 271.3L517.1 272.4L516.6 273.5L516.1 274.8L515.5 276.1L515.0 277.4L514.4 278.8L513.9 280.3L513.3 282.0L512.7 283.8L512.2 285.7L511.6 287.7L511.0 289.5L510.4 291.1L509.8 292.4L509.1 293.4Z" fill="url(#csgTop)"/><path d="M511.1 295.9L510.4 295.4L509.7 294.8L508.9 293.9L508.1 292.9L507.3 291.8L506.5 290.6L505.7 289.5L505.0 288.4L504.3 287.2L503.5 285.9L502.7 284.6L501.9 283.3L501.1 282.0L500.4 280.9L499.8 280.0L499.3 279.3L498.8 278.7L498.0 278.4L497.2 278.6L496.6 279.1L496.3 279.9L496.5 280.7L496.7 281.5L497.1 282.5L497.6 283.8L498.1 285.1L498.7 286.6L499.3 288.0L499.8 289.4L500.2 290.6L500.6 291.9L500.9 293.2L501.3 294.5L501.6 295.8L501.8 297.1L502.0 298.2L502.0 299.3L501.9 300.1Z" fill="url(#csgL)"/><path d="M547.9 297.4L547.6 296.7L547.4 295.8L547.3 294.8L547.3 293.7L547.3 292.6L547.3 291.6L547.4 290.6L547.4 289.8L547.5 289.1L547.6 288.4L547.7 287.8L547.8 287.1L547.9 286.5L548.0 286.0L548.0 285.5L548.0 285.1L548.1 284.4L547.9 283.8L547.3 283.4L546.6 283.3L546.0 283.5L545.6 284.1L545.3 284.3L545.0 284.7L544.6 285.1L544.3 285.6L543.9 286.2L543.5 286.8L543.0 287.5L542.6 288.2L542.1 289.0L541.6 289.9L541.1 290.9L540.5 291.8L539.9 292.8L539.3 293.6L538.7 294.2L538.1 294.6Z" fill="url(#csgL)"/><path d="M501.9 312.6L500.9 312.3L499.8 311.8L498.4 311.0L497.0 310.2L495.4 309.2L493.9 308.2L492.3 307.2L490.9 306.4L489.6 305.6L488.3 304.8L487.0 304.0L485.7 303.2L484.3 302.4L482.8 301.7L481.3 301.0L479.6 300.4L477.9 300.0L476.1 299.8L474.3 299.7L472.6 299.6L471.1 299.7L469.7 299.7L468.6 299.8L467.8 299.8L466.5 300.1L465.5 301.0L465.0 302.2L465.3 303.5L466.2 304.5L467.4 305.0L468.3 305.1L469.5 305.3L470.8 305.4L472.3 305.6L473.7 305.8L475.1 306.0L476.4 306.4L477.4 306.8L478.2 307.3L479.2 307.9L480.1 308.7L481.1 309.5L482.1 310.5L483.1 311.5L484.1 312.6L485.1 313.6L486.1 314.7L487.1 316.0L488.2 317.3L489.2 318.6L490.2 320.0L491.0 321.3L491.7 322.4L492.1 323.4Z" fill="url(#csgLt)"/><path d="M552.9 323.1L553.6 322.1L554.6 321.0L555.8 319.8L557.1 318.7L558.6 317.6L560.1 316.6L561.6 315.7L563.0 314.9L564.6 314.3L566.4 313.7L568.5 313.1L570.5 312.6L572.6 312.1L574.4 311.7L575.9 311.3L577.1 310.9L578.0 310.5L578.6 309.7L578.7 308.7L578.3 307.8L577.5 307.2L576.5 307.1L575.3 307.1L573.8 307.1L571.9 307.2L569.8 307.4L567.5 307.5L565.3 307.7L563.1 308.0L561.0 308.3L559.0 308.7L557.0 309.2L555.0 309.7L553.0 310.2L551.2 310.7L549.6 311.0L548.2 311.1L547.1 310.9Z" fill="url(#csgR)"/><path d="M543.1 328.8L544.1 329.1L545.4 329.6L547.0 330.3L548.7 331.2L550.6 332.2L552.5 333.1L554.5 334.0L556.4 334.8L558.3 335.4L560.1 335.8L561.8 336.1L563.4 336.3L564.9 336.5L566.3 336.6L567.6 336.7L569.0 336.9L570.4 337.1L571.8 337.3L573.1 337.4L574.3 337.5L575.3 337.6L576.2 337.8L577.1 338.0L577.8 338.2L578.7 338.7L579.7 339.3L580.8 340.2L581.9 341.1L582.9 342.1L583.9 342.9L584.8 343.7L585.4 344.3L586.9 345.1L588.5 345.0L589.9 344.2L590.7 342.7L590.6 341.1L589.8 339.7L589.2 339.1L588.5 338.3L587.6 337.3L586.5 336.2L585.4 335.0L584.1 333.8L582.8 332.7L581.4 331.8L579.9 331.0L578.4 330.4L577.0 330.0L575.7 329.6L574.5 329.3L573.3 329.0L572.2 328.7L571.0 328.3L569.7 327.8L568.4 327.3L567.0 326.9L565.8 326.4L564.6 326.0L563.5 325.4L562.5 324.8L561.6 324.2L560.6 323.4L559.5 322.4L558.2 321.2L556.9 319.9L555.7 318.6L554.6 317.3L553.6 316.1L552.9 315.2Z" fill="url(#csgLong)"/><path d="M540.5 341.8L541.6 342.0L542.8 342.4L544.1 343.0L545.5 343.8L546.8 344.7L548.1 345.6L549.2 346.4L550.3 347.2L551.3 348.0L552.2 348.9L553.2 349.8L554.2 350.7L555.0 351.6L555.9 352.4L556.6 353.0L557.2 353.5L557.9 354.0L558.8 354.2L559.7 353.8L560.2 353.1L560.4 352.2L560.0 351.3L559.8 350.6L559.4 349.8L558.9 348.8L558.3 347.7L557.7 346.5L557.0 345.2L556.4 344.0L555.7 342.8L555.0 341.5L554.3 340.1L553.6 338.7L552.8 337.3L552.2 335.8L551.7 334.5L551.5 333.2L551.5 332.2Z" fill="url(#csgD)"/><path d="M494.4 326.8L493.8 327.7L492.8 328.7L491.6 329.7L490.1 330.7L488.6 331.8L487.0 332.8L485.4 333.9L483.9 334.9L482.4 336.0L480.8 337.2L479.3 338.4L477.7 339.6L476.3 340.7L475.0 341.8L473.9 342.7L473.2 343.4L472.5 344.1L472.3 345.1L472.6 346.0L473.3 346.7L474.3 346.9L475.2 346.6L476.2 346.2L477.5 345.6L478.9 344.9L480.6 344.0L482.2 343.2L484.0 342.4L485.6 341.6L487.1 341.1L488.6 340.6L490.3 340.1L492.0 339.7L493.8 339.4L495.5 339.2L497.0 339.0L498.4 339.0L499.6 339.2Z" fill="url(#csgLL)"/><path d="M513.1 343.3L513.6 344.6L513.9 346.4L514.2 348.5L514.5 350.9L514.7 353.2L514.9 355.6L515.0 357.7L515.2 359.6L515.3 361.1L515.4 362.5L515.5 363.8L515.6 365.0L515.7 366.2L515.8 367.4L515.9 368.7L516.0 370.0L516.1 371.4L516.3 372.8L516.5 374.2L516.7 375.6L517.0 376.8L517.2 378.0L517.4 378.9L517.5 379.6L518.0 380.8L518.9 381.6L520.2 381.9L521.4 381.4L522.2 380.5L522.5 379.2L522.5 378.5L522.5 377.5L522.6 376.3L522.6 375.1L522.6 373.8L522.6 372.5L522.7 371.2L522.8 370.0L523.0 369.0L523.2 367.9L523.5 366.9L523.8 365.8L524.1 364.6L524.4 363.4L524.8 362.0L525.2 360.4L525.7 358.6L526.2 356.5L526.7 354.2L527.3 351.9L527.9 349.6L528.6 347.6L529.2 345.9L529.9 344.7Z" fill="url(#csgBot)"/><path d="M509.5 346.3L509.9 346.9L510.2 347.7L510.5 348.8L510.8 349.9L511.0 351.1L511.3 352.3L511.6 353.4L511.8 354.4L512.1 355.3L512.4 356.1L512.7 356.8L513.0 357.5L513.3 358.0L513.5 358.5L513.8 358.9L514.0 359.1L514.5 360.0L515.3 360.4L516.3 360.4L517.2 359.9L517.6 359.1L517.6 358.1L517.6 357.7L517.6 357.2L517.6 356.7L517.5 356.1L517.4 355.5L517.4 354.9L517.4 354.3L517.4 353.6L517.4 352.8L517.5 351.8L517.6 350.7L517.7 349.5L517.8 348.3L518.0 347.3L518.2 346.4L518.5 345.7Z" fill="url(#csgD)"/><path d="M556.4 320.6L556.2 322.7L555.9 325.0L555.5 327.5L554.9 330.0L554.2 332.4L553.2 334.7L552.1 336.7L550.7 338.7L549.2 340.6L547.5 342.4L545.8 344.1L544.0 345.7L542.1 347.2L540.1 348.6L538.0 349.9L535.8 351.0L533.6 352.0L531.3 352.8L529.0 353.4L526.6 353.8L524.0 354.1L521.5 354.3L519.0 354.2L516.6 353.9L514.3 353.4L511.9 352.6L509.6 351.6L507.3 350.5L505.2 349.2L503.2 347.9L501.4 346.4L499.6 344.7L498.0 342.9L496.5 341.0L495.1 339.0L493.8 337.0L492.6 334.9L491.4 332.7L490.4 330.5L489.5 328.2L488.9 325.9L488.4 323.5L488.2 321.1L488.1 318.7L488.3 316.1L488.6 313.6L489.1 311.2L489.9 308.9L490.8 306.6L492.0 304.4L493.4 302.3L494.9 300.3L496.6 298.4L498.3 296.7L500.2 295.1L502.2 293.7L504.3 292.4L506.5 291.2L508.8 290.2L511.0 289.3L513.4 288.5L515.8 287.9L518.2 287.4L520.7 287.0L523.2 286.9L525.6 286.9L528.0 287.2L530.5 287.7L532.9 288.3L535.3 289.2L537.6 290.2L539.8 291.3L541.8 292.7L543.7 294.3L545.6 296.0L547.3 297.9L548.9 299.7L550.3 301.5L551.5 303.3L552.5 305.0L553.4 306.8L554.1 308.6L554.7 310.3L555.2 312.0L555.7 313.5L556.1 314.8L556.3 316.1L556.5 317.4L556.5 318.9Z" fill="url(#cbody)"/><path d="M556.4 320.6L556.2 322.7L555.9 325.0L555.5 327.5L554.9 330.0L554.2 332.4L553.2 334.7L552.1 336.7L550.7 338.7L549.2 340.6L547.5 342.4L545.8 344.1L544.0 345.7L542.1 347.2L540.1 348.6L538.0 349.9L535.8 351.0L533.6 352.0L531.3 352.8L529.0 353.4L526.6 353.8L524.0 354.1L521.5 354.3L519.0 354.2L516.6 353.9L514.3 353.4L511.9 352.6L509.6 351.6L507.3 350.5L505.2 349.2L503.2 347.9L501.4 346.4L499.6 344.7L498.0 342.9L496.5 341.0L495.1 339.0L493.8 337.0L492.6 334.9L491.4 332.7L490.4 330.5L489.5 328.2L488.9 325.9L488.4 323.5L488.2 321.1L488.1 318.7L488.3 316.1L488.6 313.6L489.1 311.2L489.9 308.9L490.8 306.6L492.0 304.4L493.4 302.3L494.9 300.3L496.6 298.4L498.3 296.7L500.2 295.1L502.2 293.7L504.3 292.4L506.5 291.2L508.8 290.2L511.0 289.3L513.4 288.5L515.8 287.9L518.2 287.4L520.7 287.0L523.2 286.9L525.6 286.9L528.0 287.2L530.5 287.7L532.9 288.3L535.3 289.2L537.6 290.2L539.8 291.3L541.8 292.7L543.7 294.3L545.6 296.0L547.3 297.9L548.9 299.7L550.3 301.5L551.5 303.3L552.5 305.0L553.4 306.8L554.1 308.6L554.7 310.3L555.2 312.0L555.7 313.5L556.1 314.8L556.3 316.1L556.5 317.4L556.5 318.9Z" fill="url(#cshadeR)"/><path d="M556.4 320.6L556.2 322.7L555.9 325.0L555.5 327.5L554.9 330.0L554.2 332.4L553.2 334.7L552.1 336.7L550.7 338.7L549.2 340.6L547.5 342.4L545.8 344.1L544.0 345.7L542.1 347.2L540.1 348.6L538.0 349.9L535.8 351.0L533.6 352.0L531.3 352.8L529.0 353.4L526.6 353.8L524.0 354.1L521.5 354.3L519.0 354.2L516.6 353.9L514.3 353.4L511.9 352.6L509.6 351.6L507.3 350.5L505.2 349.2L503.2 347.9L501.4 346.4L499.6 344.7L498.0 342.9L496.5 341.0L495.1 339.0L493.8 337.0L492.6 334.9L491.4 332.7L490.4 330.5L489.5 328.2L488.9 325.9L488.4 323.5L488.2 321.1L488.1 318.7L488.3 316.1L488.6 313.6L489.1 311.2L489.9 308.9L490.8 306.6L492.0 304.4L493.4 302.3L494.9 300.3L496.6 298.4L498.3 296.7L500.2 295.1L502.2 293.7L504.3 292.4L506.5 291.2L508.8 290.2L511.0 289.3L513.4 288.5L515.8 287.9L518.2 287.4L520.7 287.0L523.2 286.9L525.6 286.9L528.0 287.2L530.5 287.7L532.9 288.3L535.3 289.2L537.6 290.2L539.8 291.3L541.8 292.7L543.7 294.3L545.6 296.0L547.3 297.9L548.9 299.7L550.3 301.5L551.5 303.3L552.5 305.0L553.4 306.8L554.1 308.6L554.7 310.3L555.2 312.0L555.7 313.5L556.1 314.8L556.3 316.1L556.5 317.4L556.5 318.9Z" fill="url(#cshadeL)"/><path d="M512.4 312.3L511.4 312.0L510.3 311.5L509.0 310.8L507.5 309.9L506.1 309.0L504.7 308.1L503.3 307.3L502.1 306.5L500.9 305.9L499.8 305.4L498.7 304.9L497.7 304.5L496.7 304.1L495.9 303.9L495.3 303.7L494.7 303.5L493.7 303.3L492.6 303.6L491.8 304.4L491.6 305.4L491.9 306.5L492.7 307.3L493.1 307.7L493.7 308.1L494.3 308.6L495.1 309.2L495.8 309.8L496.6 310.4L497.4 311.1L498.1 311.9L499.0 312.7L499.9 313.8L501.0 315.0L502.1 316.2L503.1 317.5L503.9 318.7L504.6 319.8L505.0 320.7Z" fill="url(#cfs0)"/><path d="M541.1 328.1L540.9 327.1L540.6 325.8L540.4 324.3L540.2 322.8L540.0 321.2L539.9 319.9L539.9 318.9L539.9 318.4L539.8 318.2L539.8 318.1L539.7 318.1L539.6 318.0L539.5 318.0L539.7 317.8L540.0 317.7L540.4 317.5L541.0 317.4L541.8 317.4L542.9 317.4L544.2 317.6L545.4 317.7L546.6 317.9L547.7 318.0L548.5 318.1L550.1 317.9L551.4 317.0L552.1 315.5L551.9 313.9L551.0 312.6L549.5 311.9L548.9 311.7L547.9 311.4L546.7 311.1L545.4 310.8L543.9 310.5L542.5 310.2L541.0 310.1L539.6 310.1L538.4 310.3L537.3 310.5L536.1 310.8L534.9 311.4L533.8 312.3L532.8 313.3L532.0 314.6L531.3 316.0L530.9 317.7L530.6 319.5L530.5 321.3L530.4 323.1L530.3 324.8L530.2 326.3L530.1 327.5L529.9 328.3Z" fill="url(#cfs1)"/><path d="M512.9 339.3L513.6 340.0L514.5 341.1L515.4 342.3L516.4 343.7L517.5 345.2L518.5 346.7L519.4 348.2L520.2 349.5L521.0 350.7L521.8 352.0L522.6 353.3L523.4 354.6L524.1 355.9L524.8 357.0L525.4 357.9L525.9 358.5L526.9 359.7L528.4 360.2L529.9 359.9L531.1 358.9L531.6 357.4L531.3 355.9L531.1 355.1L530.7 354.1L530.3 352.9L529.7 351.5L529.2 350.1L528.6 348.6L527.9 347.2L527.4 345.7L526.7 344.3L526.0 342.6L525.3 341.0L524.6 339.3L523.9 337.6L523.3 336.2L522.9 334.9L522.7 333.9Z" fill="url(#cfs2)"/><path d="M512.3 310.7L511.4 310.4L510.3 309.9L509.0 309.1L507.6 308.2L506.1 307.3L504.7 306.4L503.4 305.5L502.2 304.8L501.0 304.2L499.9 303.7L498.8 303.2L497.8 302.7L496.9 302.4L496.1 302.1L495.5 301.9L494.9 301.7L494.0 301.5L493.0 301.8L492.3 302.5L492.1 303.4L492.4 304.4L493.1 305.1L493.5 305.5L494.1 305.9L494.7 306.4L495.5 306.9L496.3 307.5L497.1 308.2L497.9 308.9L498.6 309.6L499.5 310.4L500.5 311.5L501.6 312.7L502.6 313.9L503.7 315.2L504.5 316.4L505.3 317.4L505.7 318.3Z" fill="url(#cff0)"/><path d="M542.5 326.9L542.4 325.9L542.1 324.6L541.9 323.1L541.7 321.6L541.6 320.0L541.5 318.7L541.5 317.6L541.5 317.1L541.5 316.8L541.5 316.7L541.4 316.6L541.4 316.6L541.4 316.5L541.6 316.3L542.0 316.2L542.4 316.0L543.0 315.9L543.8 315.9L545.0 316.0L546.2 316.1L547.5 316.3L548.7 316.5L549.7 316.6L550.5 316.7L552.0 316.5L553.2 315.7L553.9 314.3L553.7 312.8L552.9 311.6L551.5 310.9L550.8 310.7L549.9 310.5L548.7 310.2L547.3 309.9L545.9 309.6L544.4 309.3L543.0 309.2L541.6 309.2L540.4 309.4L539.4 309.6L538.3 309.9L537.1 310.5L536.0 311.3L535.1 312.4L534.3 313.5L533.7 314.9L533.3 316.5L533.0 318.3L532.9 320.1L532.8 321.8L532.8 323.6L532.7 325.1L532.6 326.3L532.5 327.1Z" fill="url(#cff1)"/><path d="M515.6 338.4L516.3 339.2L517.1 340.2L518.0 341.5L519.0 342.9L520.0 344.4L521.0 346.0L521.9 347.4L522.8 348.7L523.5 350.0L524.3 351.3L525.1 352.6L525.9 353.9L526.6 355.1L527.2 356.2L527.8 357.2L528.3 357.8L529.2 358.9L530.6 359.4L532.0 359.1L533.1 358.2L533.6 356.8L533.3 355.4L533.1 354.6L532.7 353.6L532.2 352.4L531.7 351.1L531.1 349.6L530.5 348.2L529.9 346.7L529.2 345.3L528.6 343.8L527.9 342.2L527.1 340.5L526.4 338.9L525.7 337.3L525.1 335.8L524.7 334.5L524.4 333.6Z" fill="url(#cff2)"/></g>
</g>

<path d="M44.4 482.7H293.3A16.50 16.50 0 0 1 293.3 515.7H44.4Z" fill="#b41c24"/><circle cx="44.4" cy="499.4" r="19.6" fill="#b41c24"/><g fill="none" stroke="#fff" stroke-width="1.25"><circle cx="44.4" cy="499.4" r="11.3"/><path d="M28.8 499.4H38.8M50.0 499.4H60.0M44.4 483.8V493.8M44.4 505.0V515.0"/></g><circle cx="44.4" cy="499.4" r="1.5" fill="#fff"/><text y="508.7" font-size="26.6" fill="#fff"><tspan x="72.30" textLength="112.90" lengthAdjust="spacingAndGlyphs">Plaquettes</tspan> <tspan x="191.11" textLength="105.02" lengthAdjust="spacingAndGlyphs">inactivées</tspan></text>
<path d="M415.4 482.7H647.5A16.50 16.50 0 0 1 647.5 515.7H415.4Z" fill="#b41c24"/><circle cx="415.4" cy="499.4" r="19.6" fill="#b41c24"/><g fill="none" stroke="#fff" stroke-width="1.25"><circle cx="415.4" cy="499.4" r="11.3"/><path d="M399.8 499.4H409.8M421.0 499.4H431.0M415.4 483.8V493.8M415.4 505.0V515.0"/></g><circle cx="415.4" cy="499.4" r="1.5" fill="#fff"/><text y="508.7" font-size="26.6" fill="#fff"><tspan x="446.60" textLength="112.90" lengthAdjust="spacingAndGlyphs">Plaquettes</tspan> <tspan x="564.51" textLength="87.20" lengthAdjust="spacingAndGlyphs">activées</tspan></text>
<path d="M773.2 482.7H1021.5A16.50 16.50 0 0 1 1021.5 515.7H773.2Z" fill="#b41c24"/><circle cx="773.2" cy="499.4" r="19.6" fill="#b41c24"/><g fill="none" stroke="#fff" stroke-width="1.25"><circle cx="773.2" cy="499.4" r="11.3"/><path d="M757.6 499.4H767.6M778.8 499.4H788.8M773.2 483.8V493.8M773.2 505.0V515.0"/></g><circle cx="773.2" cy="499.4" r="1.5" fill="#fff"/><text y="508.7" font-size="26.6" fill="#fff"><tspan x="802.90" textLength="112.90" lengthAdjust="spacingAndGlyphs">Plaquettes</tspan> <tspan x="920.91" textLength="99.00" lengthAdjust="spacingAndGlyphs">agrégées</tspan></text>
</svg>
</body>
</html>
